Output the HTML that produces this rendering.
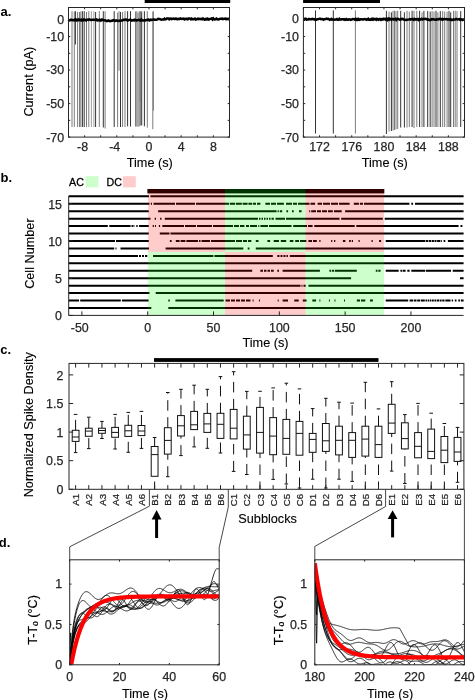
<!DOCTYPE html>
<html><head><meta charset="utf-8"><style>
html,body{margin:0;padding:0;background:#fff;}
svg{display:block;font-family:"Liberation Sans",sans-serif;will-change:transform;}
</style></head><body>
<svg width="475" height="700" viewBox="0 0 475 700">
<rect width="475" height="700" fill="#fff"/>
<text x="0.5" y="15.5" font-size="13" fill="#000" font-weight="bold">a.</text>
<text x="0.5" y="182.2" font-size="13" fill="#000" font-weight="bold">b.</text>
<text x="0.3" y="354.2" font-size="13" fill="#000" font-weight="bold">c.</text>
<text x="-1.2" y="546.8" font-size="13" fill="#000" font-weight="bold">d.</text>
<line x1="72" y1="11.2" x2="72" y2="127" stroke="#7c7c7c" stroke-width="1"/>
<line x1="74.3" y1="11.5" x2="74.3" y2="127" stroke="#7c7c7c" stroke-width="1"/>
<line x1="77.6" y1="12" x2="77.6" y2="127" stroke="#7c7c7c" stroke-width="1"/>
<line x1="79.5" y1="12" x2="79.5" y2="127" stroke="#7c7c7c" stroke-width="1"/>
<line x1="80.8" y1="11.5" x2="80.8" y2="127" stroke="#7c7c7c" stroke-width="1"/>
<line x1="82.4" y1="11.2" x2="82.4" y2="127" stroke="#333333" stroke-width="1"/>
<line x1="84.2" y1="11.2" x2="84.2" y2="127" stroke="#333333" stroke-width="1"/>
<line x1="86.5" y1="12" x2="86.5" y2="127" stroke="#7c7c7c" stroke-width="1"/>
<line x1="88.8" y1="11.2" x2="88.8" y2="127" stroke="#7c7c7c" stroke-width="1"/>
<line x1="91.4" y1="11.2" x2="91.4" y2="127" stroke="#a0a0a0" stroke-width="1"/>
<line x1="93.9" y1="11.2" x2="93.9" y2="127" stroke="#a0a0a0" stroke-width="1"/>
<line x1="95.6" y1="12" x2="95.6" y2="127" stroke="#333333" stroke-width="1"/>
<line x1="99.3" y1="11.2" x2="99.3" y2="127" stroke="#7c7c7c" stroke-width="1"/>
<line x1="103.3" y1="11.2" x2="103.3" y2="127.5" stroke="#333333" stroke-width="1"/>
<line x1="105.1" y1="11.2" x2="105.1" y2="128.5" stroke="#7c7c7c" stroke-width="1"/>
<line x1="114.2" y1="11.2" x2="114.2" y2="127" stroke="#333333" stroke-width="1"/>
<line x1="117.6" y1="12.7" x2="117.6" y2="127" stroke="#7c7c7c" stroke-width="1"/>
<line x1="120.5" y1="12" x2="120.5" y2="127" stroke="#333333" stroke-width="1"/>
<line x1="122.6" y1="12" x2="122.6" y2="127" stroke="#7c7c7c" stroke-width="1"/>
<line x1="125" y1="11.2" x2="125" y2="127" stroke="#7c7c7c" stroke-width="1"/>
<line x1="127.6" y1="11.2" x2="127.6" y2="126.3" stroke="#333333" stroke-width="1"/>
<line x1="130.5" y1="11.2" x2="130.5" y2="126.6" stroke="#333333" stroke-width="1"/>
<line x1="135.5" y1="11.5" x2="135.5" y2="126.6" stroke="#7c7c7c" stroke-width="1"/>
<line x1="136.8" y1="11.2" x2="136.8" y2="126.6" stroke="#7c7c7c" stroke-width="1"/>
<line x1="138" y1="12.7" x2="138" y2="126.6" stroke="#7c7c7c" stroke-width="1"/>
<line x1="139.2" y1="11.5" x2="139.2" y2="126.6" stroke="#7c7c7c" stroke-width="1"/>
<line x1="140.4" y1="11.2" x2="140.4" y2="125.5" stroke="#7c7c7c" stroke-width="1"/>
<line x1="141.7" y1="11.5" x2="141.7" y2="125.5" stroke="#333333" stroke-width="1"/>
<line x1="144.4" y1="11.2" x2="144.4" y2="126.3" stroke="#333333" stroke-width="1"/>
<line x1="147.3" y1="11.2" x2="147.3" y2="127.7" stroke="#7c7c7c" stroke-width="1"/>
<line x1="152.8" y1="11.5" x2="152.8" y2="129.2" stroke="#7c7c7c" stroke-width="1"/>
<line x1="75.4" y1="11.2" x2="75.4" y2="44.5" stroke="#333333" stroke-width="1"/>
<line x1="119" y1="11.2" x2="119" y2="70.7" stroke="#7c7c7c" stroke-width="1"/>
<line x1="140.1" y1="11.2" x2="140.1" y2="102" stroke="#7c7c7c" stroke-width="1"/>
<line x1="153.4" y1="11.2" x2="153.4" y2="110.8" stroke="#7c7c7c" stroke-width="1"/>
<path d="M68.5 19.56 L69.3 20.42 L70.1 20.32 L70.9 19.71 L71.7 19.99 L72.5 19.94 L73.3 20.18 L74.1 20.35 L74.9 19.51 L75.7 19.43 L76.5 20.4 L77.3 19.92 L78.1 20.31 L78.9 19.4 L79.7 19.93 L80.5 20.27 L81.3 19.67 L82.1 20.53 L82.9 20.48 L83.7 19.44 L84.5 19.43 L85.3 20.05 L86.1 20.53 L86.9 19.86 L87.7 19.66 L88.5 19.91 L89.3 19.43 L90.1 19.67 L90.9 19.93 L91.7 19.99 L92.5 19.68 L93.3 19.68 L94.1 19.66 L94.9 19.95 L95.7 19.75 L96.5 19.43 L97.3 20.41 L98.1 20.07 L98.9 20.17 L99.7 19.62 L100.5 20.59 L101.3 20.43 L102.1 19.55 L102.9 19.8 L103.7 20.27 L104.5 20.25 L105.3 20.52 L106.1 20.61 L106.9 21.1 L107.7 20.9 L108.5 20.46 L109.3 20.81 L110.1 21.16 L110.9 21.12 L111.7 20.71 L112.5 20.81 L113.3 20.14 L114.1 20.39 L114.9 21.06 L115.7 20.6 L116.5 20.31 L117.3 20.76 L118.1 20.94 L118.9 20.91 L119.7 20.55 L120.5 20.63 L121.3 20.71 L122.1 20.33 L122.9 20.03 L123.7 19.87 L124.5 19.99 L125.3 19.44 L126.1 19.45 L126.9 20.24 L127.7 20.58 L128.5 20.11 L129.3 19.87 L130.1 19.6 L130.9 20 L131.7 20.58 L132.5 20.32 L133.3 20.05 L134.1 20.43 L134.9 19.68 L135.7 20.02 L136.5 20.54 L137.3 20.09 L138.1 19.95 L138.9 19.72 L139.7 20.06 L140.5 20.55 L141.3 19.41 L142.1 20.34 L142.9 20.38 L143.7 20.46 L144.5 20.29 L145.3 20.37 L146.1 20.02 L146.9 20.07 L147.7 19.91 L148.5 19.47 L149.3 20.44 L150.1 20.08 L150.9 19.58 L151.7 19.89 L152.5 19.82 L153.3 19.61 L154.1 19.54 L154.9 19.72 L155.7 19.77 L156.5 19.7 L157.3 19.46 L158.1 18.89 L158.9 19.08 L159.7 18.97 L160.5 19.4 L161.3 19.68 L162.1 19.55 L162.9 19.5 L163.7 19.47 L164.5 18.74 L165.3 19.41 L166.1 19.21 L166.9 18.5 L167.7 18.42 L168.5 18.42 L169.3 19.31 L170.1 18.7 L170.9 18.53 L171.7 19.15 L172.5 18.81 L173.3 18.48 L174.1 18.59 L174.9 19.03 L175.7 18.6 L176.5 18.73 L177.3 19.25 L178.1 18.95 L178.9 18.79 L179.7 18.97 L180.5 18.43 L181.3 18.86 L182.1 18.91 L182.9 18.63 L183.7 18.53 L184.5 19.48 L185.3 19.01 L186.1 18.65 L186.9 19.13 L187.7 19.38 L188.5 18.42 L189.3 18.42 L190.1 18.58 L190.9 19.26 L191.7 18.59 L192.5 19.25 L193.3 19.21 L194.1 19.05 L194.9 18.66 L195.7 19.57 L196.5 19.36 L197.3 19.02 L198.1 18.67 L198.9 19.18 L199.7 18.87 L200.5 19.09 L201.3 18.79 L202.1 19.16 L202.9 18.47 L203.7 18.76 L204.5 19.56 L205.3 19.45 L206.1 18.77 L206.9 19.43 L207.7 18.77 L208.5 19.53 L209.3 19.29 L210.1 18.9 L210.9 18.7 L211.7 18.41 L212.5 19.45 L213.3 18.45 L214.1 19.38 L214.9 19.55 L215.7 19.08 L216.5 18.61 L217.3 19.44 L218.1 19.57 L218.9 19.24 L219.7 19.01 L220.5 18.85 L221.3 18.82 L222.1 18.65 L222.9 19.21 L223.7 18.92 L224.5 18.63 L225.3 18.53 L226.1 19.2 L226.9 18.76 L227.7 19 L228.5 18.79 L229.3 19.45" fill="none" stroke="#000" stroke-width="2.5"/>
<rect x="68.5" y="7.5" width="161" height="129.6" fill="none" stroke="#262626" stroke-width="1"/>
<line x1="68.5" y1="19.8" x2="70.3" y2="19.8" stroke="#262626" stroke-width="1"/>
<line x1="229.5" y1="19.8" x2="227.7" y2="19.8" stroke="#262626" stroke-width="1"/>
<line x1="68.5" y1="36.56" x2="70.3" y2="36.56" stroke="#262626" stroke-width="1"/>
<line x1="229.5" y1="36.56" x2="227.7" y2="36.56" stroke="#262626" stroke-width="1"/>
<line x1="68.5" y1="53.31" x2="70.3" y2="53.31" stroke="#262626" stroke-width="1"/>
<line x1="229.5" y1="53.31" x2="227.7" y2="53.31" stroke="#262626" stroke-width="1"/>
<line x1="68.5" y1="70.07" x2="70.3" y2="70.07" stroke="#262626" stroke-width="1"/>
<line x1="229.5" y1="70.07" x2="227.7" y2="70.07" stroke="#262626" stroke-width="1"/>
<line x1="68.5" y1="86.83" x2="70.3" y2="86.83" stroke="#262626" stroke-width="1"/>
<line x1="229.5" y1="86.83" x2="227.7" y2="86.83" stroke="#262626" stroke-width="1"/>
<line x1="68.5" y1="103.58" x2="70.3" y2="103.58" stroke="#262626" stroke-width="1"/>
<line x1="229.5" y1="103.58" x2="227.7" y2="103.58" stroke="#262626" stroke-width="1"/>
<line x1="68.5" y1="120.34" x2="70.3" y2="120.34" stroke="#262626" stroke-width="1"/>
<line x1="229.5" y1="120.34" x2="227.7" y2="120.34" stroke="#262626" stroke-width="1"/>
<line x1="68.5" y1="137.1" x2="70.3" y2="137.1" stroke="#262626" stroke-width="1"/>
<line x1="229.5" y1="137.1" x2="227.7" y2="137.1" stroke="#262626" stroke-width="1"/>
<line x1="68.5" y1="137.1" x2="68.5" y2="135.3" stroke="#262626" stroke-width="1"/>
<line x1="68.5" y1="7.5" x2="68.5" y2="9.3" stroke="#262626" stroke-width="1"/>
<line x1="84.6" y1="137.1" x2="84.6" y2="135.3" stroke="#262626" stroke-width="1"/>
<line x1="84.6" y1="7.5" x2="84.6" y2="9.3" stroke="#262626" stroke-width="1"/>
<line x1="100.7" y1="137.1" x2="100.7" y2="135.3" stroke="#262626" stroke-width="1"/>
<line x1="100.7" y1="7.5" x2="100.7" y2="9.3" stroke="#262626" stroke-width="1"/>
<line x1="116.8" y1="137.1" x2="116.8" y2="135.3" stroke="#262626" stroke-width="1"/>
<line x1="116.8" y1="7.5" x2="116.8" y2="9.3" stroke="#262626" stroke-width="1"/>
<line x1="132.9" y1="137.1" x2="132.9" y2="135.3" stroke="#262626" stroke-width="1"/>
<line x1="132.9" y1="7.5" x2="132.9" y2="9.3" stroke="#262626" stroke-width="1"/>
<line x1="149" y1="137.1" x2="149" y2="135.3" stroke="#262626" stroke-width="1"/>
<line x1="149" y1="7.5" x2="149" y2="9.3" stroke="#262626" stroke-width="1"/>
<line x1="165.1" y1="137.1" x2="165.1" y2="135.3" stroke="#262626" stroke-width="1"/>
<line x1="165.1" y1="7.5" x2="165.1" y2="9.3" stroke="#262626" stroke-width="1"/>
<line x1="181.2" y1="137.1" x2="181.2" y2="135.3" stroke="#262626" stroke-width="1"/>
<line x1="181.2" y1="7.5" x2="181.2" y2="9.3" stroke="#262626" stroke-width="1"/>
<line x1="197.3" y1="137.1" x2="197.3" y2="135.3" stroke="#262626" stroke-width="1"/>
<line x1="197.3" y1="7.5" x2="197.3" y2="9.3" stroke="#262626" stroke-width="1"/>
<line x1="213.4" y1="137.1" x2="213.4" y2="135.3" stroke="#262626" stroke-width="1"/>
<line x1="213.4" y1="7.5" x2="213.4" y2="9.3" stroke="#262626" stroke-width="1"/>
<line x1="229.5" y1="137.1" x2="229.5" y2="135.3" stroke="#262626" stroke-width="1"/>
<line x1="229.5" y1="7.5" x2="229.5" y2="9.3" stroke="#262626" stroke-width="1"/>
<text x="82.54" y="150.6" font-size="12.4" fill="#262626" text-anchor="middle" stroke="#262626" stroke-width="0.25">-8</text>
<text x="114.74" y="150.6" font-size="12.4" fill="#262626" text-anchor="middle" stroke="#262626" stroke-width="0.25">-4</text>
<text x="149" y="150.6" font-size="12.4" fill="#262626" text-anchor="middle" stroke="#262626" stroke-width="0.25">0</text>
<text x="181.2" y="150.6" font-size="12.4" fill="#262626" text-anchor="middle" stroke="#262626" stroke-width="0.25">4</text>
<text x="213.4" y="150.6" font-size="12.4" fill="#262626" text-anchor="middle" stroke="#262626" stroke-width="0.25">8</text>
<text x="64.1" y="24.2" font-size="12.4" fill="#262626" text-anchor="end" stroke="#262626" stroke-width="0.25">0</text>
<text x="64.1" y="40.96" font-size="12.4" fill="#262626" text-anchor="end" stroke="#262626" stroke-width="0.25">-10</text>
<text x="64.1" y="74.47" font-size="12.4" fill="#262626" text-anchor="end" stroke="#262626" stroke-width="0.25">-30</text>
<text x="64.1" y="107.98" font-size="12.4" fill="#262626" text-anchor="end" stroke="#262626" stroke-width="0.25">-50</text>
<text x="64.1" y="141.5" font-size="12.4" fill="#262626" text-anchor="end" stroke="#262626" stroke-width="0.25">-70</text>
<text x="149.8" y="166.8" font-size="12.7" fill="#000" text-anchor="middle" stroke="#000" stroke-width="0.12">Time (s)</text>
<rect x="144.7" y="0" width="85.5" height="3" fill="#000"/>
<line x1="315.5" y1="10.4" x2="315.5" y2="133.5" stroke="#333333" stroke-width="1"/>
<line x1="333.3" y1="10.4" x2="333.3" y2="133.5" stroke="#333333" stroke-width="1"/>
<line x1="355.4" y1="10.4" x2="355.4" y2="133.5" stroke="#7c7c7c" stroke-width="1"/>
<line x1="386.4" y1="10.8" x2="386.4" y2="134" stroke="#333333" stroke-width="1"/>
<line x1="389" y1="11.6" x2="389" y2="131.5" stroke="#7c7c7c" stroke-width="1"/>
<line x1="391.4" y1="12.3" x2="391.4" y2="131" stroke="#333333" stroke-width="1"/>
<line x1="393" y1="10.8" x2="393" y2="130.5" stroke="#7c7c7c" stroke-width="1"/>
<line x1="394.5" y1="10.8" x2="394.5" y2="130" stroke="#7c7c7c" stroke-width="1"/>
<line x1="396" y1="11.1" x2="396" y2="129.5" stroke="#7c7c7c" stroke-width="1"/>
<line x1="397.7" y1="10.8" x2="397.7" y2="129" stroke="#7c7c7c" stroke-width="1"/>
<line x1="400.7" y1="10.8" x2="400.7" y2="127.5" stroke="#333333" stroke-width="1"/>
<line x1="404.4" y1="12.3" x2="404.4" y2="127.5" stroke="#333333" stroke-width="1"/>
<line x1="407" y1="10.8" x2="407" y2="127.5" stroke="#7c7c7c" stroke-width="1"/>
<line x1="409.3" y1="11.6" x2="409.3" y2="127" stroke="#7c7c7c" stroke-width="1"/>
<line x1="412.1" y1="10.8" x2="412.1" y2="127" stroke="#333333" stroke-width="1"/>
<line x1="414" y1="10.8" x2="414" y2="128" stroke="#7c7c7c" stroke-width="1"/>
<line x1="416.8" y1="10.8" x2="416.8" y2="127" stroke="#7c7c7c" stroke-width="1"/>
<line x1="419.6" y1="10.8" x2="419.6" y2="127" stroke="#333333" stroke-width="1"/>
<line x1="422" y1="12.3" x2="422" y2="127" stroke="#7c7c7c" stroke-width="1"/>
<line x1="423.9" y1="10.8" x2="423.9" y2="127" stroke="#333333" stroke-width="1"/>
<line x1="427.7" y1="11.1" x2="427.7" y2="127" stroke="#333333" stroke-width="1"/>
<line x1="430.2" y1="11.6" x2="430.2" y2="127" stroke="#333333" stroke-width="1"/>
<line x1="432.1" y1="11.1" x2="432.1" y2="127" stroke="#7c7c7c" stroke-width="1"/>
<line x1="434" y1="11.6" x2="434" y2="127" stroke="#7c7c7c" stroke-width="1"/>
<line x1="436" y1="10.8" x2="436" y2="127" stroke="#333333" stroke-width="1"/>
<line x1="437.9" y1="12.3" x2="437.9" y2="127" stroke="#7c7c7c" stroke-width="1"/>
<line x1="440.3" y1="11.1" x2="440.3" y2="127" stroke="#333333" stroke-width="1"/>
<line x1="442.7" y1="11.1" x2="442.7" y2="127" stroke="#7c7c7c" stroke-width="1"/>
<line x1="444.7" y1="11.6" x2="444.7" y2="127" stroke="#7c7c7c" stroke-width="1"/>
<line x1="447.1" y1="11.6" x2="447.1" y2="127" stroke="#7c7c7c" stroke-width="1"/>
<line x1="449" y1="10.8" x2="449" y2="127" stroke="#333333" stroke-width="1"/>
<line x1="450.7" y1="12.3" x2="450.7" y2="127" stroke="#333333" stroke-width="1"/>
<line x1="453.5" y1="10.8" x2="453.5" y2="127" stroke="#7c7c7c" stroke-width="1"/>
<line x1="455.2" y1="10.8" x2="455.2" y2="127" stroke="#7c7c7c" stroke-width="1"/>
<line x1="457" y1="11.1" x2="457" y2="127" stroke="#7c7c7c" stroke-width="1"/>
<line x1="460.7" y1="11.1" x2="460.7" y2="127" stroke="#333333" stroke-width="1"/>
<path d="M303.4 19.75 L304.2 19.74 L305 18.67 L305.8 18.71 L306.6 19.61 L307.4 19.49 L308.2 19.41 L309 18.98 L309.8 19.34 L310.6 19.34 L311.4 19.31 L312.2 18.81 L313 19.14 L313.8 19.09 L314.6 19.49 L315.4 19.82 L316.2 19.76 L317 19.28 L317.8 19.16 L318.6 18.95 L319.4 18.67 L320.2 18.67 L321 19.19 L321.8 19.02 L322.6 19.09 L323.4 19.71 L324.2 19.27 L325 19.31 L325.8 18.93 L326.6 18.67 L327.4 19.04 L328.2 18.81 L329 19.26 L329.8 19.85 L330.6 19.46 L331.4 18.87 L332.2 19.73 L333 19.61 L333.8 19.54 L334.6 19.75 L335.4 19.58 L336.2 19.61 L337 19.09 L337.8 19.84 L338.6 19.82 L339.4 18.86 L340.2 19.57 L341 19.53 L341.8 19.23 L342.6 19.31 L343.4 19.26 L344.2 19.79 L345 19.28 L345.8 19.68 L346.6 19.11 L347.4 19.74 L348.2 19.76 L349 19.24 L349.8 19.37 L350.6 19.79 L351.4 19.56 L352.2 19.28 L353 18.96 L353.8 19.08 L354.6 19.54 L355.4 18.9 L356.2 19.79 L357 19.02 L357.8 19.8 L358.6 19.08 L359.4 19.85 L360.2 19.55 L361 19.31 L361.8 19.33 L362.6 19.49 L363.4 19.42 L364.2 19.09 L365 18.97 L365.8 19.33 L366.6 19.84 L367.4 19.47 L368.2 18.81 L369 19.71 L369.8 19.6 L370.6 19.82 L371.4 18.96 L372.2 19.62 L373 18.8 L373.8 19.52 L374.6 19.06 L375.4 19.01 L376.2 19.79 L377 18.87 L377.8 19.37 L378.6 19.77 L379.4 19.04 L380.2 19 L381 19.8 L381.8 19.26 L382.6 19.61 L383.4 18.79 L384.2 19.19 L385 18.96 L385.8 19.56 L386.6 18.86 L387.4 19.9 L388.2 18.79 L389 19.64 L389.8 18.79 L390.6 19.07 L391.4 19.74 L392.2 18.96 L393 18.99 L393.8 19.6 L394.6 19.23 L395.4 18.83 L396.2 19.96 L397 18.96 L397.8 18.82 L398.6 19.19 L399.4 19.52 L400.2 19.67 L401 18.92 L401.8 19.19 L402.6 18.82 L403.4 19.33 L404.2 19.71 L405 19.68 L405.8 19.88 L406.6 19.7 L407.4 19.83 L408.2 19.64 L409 19.37 L409.8 19.07 L410.6 19.59 L411.4 19.18 L412.2 18.93 L413 19.34 L413.8 19.86 L414.6 18.96 L415.4 19.51 L416.2 19.28 L417 19.43 L417.8 18.99 L418.6 19.97 L419.4 19.13 L420.2 19.55 L421 19.32 L421.8 18.84 L422.6 19.49 L423.4 18.99 L424.2 18.9 L425 18.87 L425.8 19.02 L426.6 18.95 L427.4 19.6 L428.2 19.44 L429 20.02 L429.8 19.96 L430.6 20.03 L431.4 19.12 L432.2 19.38 L433 19.14 L433.8 19.55 L434.6 19.6 L435.4 19.81 L436.2 19.7 L437 19.16 L437.8 19.36 L438.6 19.49 L439.4 18.86 L440.2 18.9 L441 19.35 L441.8 18.99 L442.6 19.73 L443.4 19.15 L444.2 18.98 L445 19.08 L445.8 19.15 L446.6 19.13 L447.4 19.5 L448.2 19.43 L449 19.25 L449.8 19.65 L450.6 19.13 L451.4 19.97 L452.2 20.04 L453 19.76 L453.8 19.4 L454.6 19.5 L455.4 19.58 L456.2 18.95 L457 19.39 L457.8 19.52 L458.6 19.11 L459.4 19.01 L460.2 19.86 L461 19.34 L461.8 19.52 L462.6 20 L463.4 19.63 L464.2 19.25" fill="none" stroke="#000" stroke-width="2.5"/>
<rect x="303.4" y="7.5" width="161.1" height="129.6" fill="none" stroke="#262626" stroke-width="1"/>
<line x1="303.4" y1="19.8" x2="305.2" y2="19.8" stroke="#262626" stroke-width="1"/>
<line x1="464.5" y1="19.8" x2="462.7" y2="19.8" stroke="#262626" stroke-width="1"/>
<line x1="303.4" y1="36.56" x2="305.2" y2="36.56" stroke="#262626" stroke-width="1"/>
<line x1="464.5" y1="36.56" x2="462.7" y2="36.56" stroke="#262626" stroke-width="1"/>
<line x1="303.4" y1="53.31" x2="305.2" y2="53.31" stroke="#262626" stroke-width="1"/>
<line x1="464.5" y1="53.31" x2="462.7" y2="53.31" stroke="#262626" stroke-width="1"/>
<line x1="303.4" y1="70.07" x2="305.2" y2="70.07" stroke="#262626" stroke-width="1"/>
<line x1="464.5" y1="70.07" x2="462.7" y2="70.07" stroke="#262626" stroke-width="1"/>
<line x1="303.4" y1="86.83" x2="305.2" y2="86.83" stroke="#262626" stroke-width="1"/>
<line x1="464.5" y1="86.83" x2="462.7" y2="86.83" stroke="#262626" stroke-width="1"/>
<line x1="303.4" y1="103.58" x2="305.2" y2="103.58" stroke="#262626" stroke-width="1"/>
<line x1="464.5" y1="103.58" x2="462.7" y2="103.58" stroke="#262626" stroke-width="1"/>
<line x1="303.4" y1="120.34" x2="305.2" y2="120.34" stroke="#262626" stroke-width="1"/>
<line x1="464.5" y1="120.34" x2="462.7" y2="120.34" stroke="#262626" stroke-width="1"/>
<line x1="303.4" y1="137.1" x2="305.2" y2="137.1" stroke="#262626" stroke-width="1"/>
<line x1="464.5" y1="137.1" x2="462.7" y2="137.1" stroke="#262626" stroke-width="1"/>
<line x1="303.4" y1="137.1" x2="303.4" y2="135.3" stroke="#262626" stroke-width="1"/>
<line x1="303.4" y1="7.5" x2="303.4" y2="9.3" stroke="#262626" stroke-width="1"/>
<line x1="319.51" y1="137.1" x2="319.51" y2="135.3" stroke="#262626" stroke-width="1"/>
<line x1="319.51" y1="7.5" x2="319.51" y2="9.3" stroke="#262626" stroke-width="1"/>
<line x1="335.62" y1="137.1" x2="335.62" y2="135.3" stroke="#262626" stroke-width="1"/>
<line x1="335.62" y1="7.5" x2="335.62" y2="9.3" stroke="#262626" stroke-width="1"/>
<line x1="351.73" y1="137.1" x2="351.73" y2="135.3" stroke="#262626" stroke-width="1"/>
<line x1="351.73" y1="7.5" x2="351.73" y2="9.3" stroke="#262626" stroke-width="1"/>
<line x1="367.84" y1="137.1" x2="367.84" y2="135.3" stroke="#262626" stroke-width="1"/>
<line x1="367.84" y1="7.5" x2="367.84" y2="9.3" stroke="#262626" stroke-width="1"/>
<line x1="383.95" y1="137.1" x2="383.95" y2="135.3" stroke="#262626" stroke-width="1"/>
<line x1="383.95" y1="7.5" x2="383.95" y2="9.3" stroke="#262626" stroke-width="1"/>
<line x1="400.06" y1="137.1" x2="400.06" y2="135.3" stroke="#262626" stroke-width="1"/>
<line x1="400.06" y1="7.5" x2="400.06" y2="9.3" stroke="#262626" stroke-width="1"/>
<line x1="416.17" y1="137.1" x2="416.17" y2="135.3" stroke="#262626" stroke-width="1"/>
<line x1="416.17" y1="7.5" x2="416.17" y2="9.3" stroke="#262626" stroke-width="1"/>
<line x1="432.28" y1="137.1" x2="432.28" y2="135.3" stroke="#262626" stroke-width="1"/>
<line x1="432.28" y1="7.5" x2="432.28" y2="9.3" stroke="#262626" stroke-width="1"/>
<line x1="448.39" y1="137.1" x2="448.39" y2="135.3" stroke="#262626" stroke-width="1"/>
<line x1="448.39" y1="7.5" x2="448.39" y2="9.3" stroke="#262626" stroke-width="1"/>
<line x1="464.5" y1="137.1" x2="464.5" y2="135.3" stroke="#262626" stroke-width="1"/>
<line x1="464.5" y1="7.5" x2="464.5" y2="9.3" stroke="#262626" stroke-width="1"/>
<text x="319.51" y="150.6" font-size="12.4" fill="#262626" text-anchor="middle" stroke="#262626" stroke-width="0.25">172</text>
<text x="351.73" y="150.6" font-size="12.4" fill="#262626" text-anchor="middle" stroke="#262626" stroke-width="0.25">176</text>
<text x="383.95" y="150.6" font-size="12.4" fill="#262626" text-anchor="middle" stroke="#262626" stroke-width="0.25">180</text>
<text x="416.17" y="150.6" font-size="12.4" fill="#262626" text-anchor="middle" stroke="#262626" stroke-width="0.25">184</text>
<text x="448.39" y="150.6" font-size="12.4" fill="#262626" text-anchor="middle" stroke="#262626" stroke-width="0.25">188</text>
<text x="299" y="23.2" font-size="12.4" fill="#262626" text-anchor="end" stroke="#262626" stroke-width="0.25">0</text>
<text x="299" y="40.96" font-size="12.4" fill="#262626" text-anchor="end" stroke="#262626" stroke-width="0.25">-10</text>
<text x="299" y="74.47" font-size="12.4" fill="#262626" text-anchor="end" stroke="#262626" stroke-width="0.25">-30</text>
<text x="299" y="107.98" font-size="12.4" fill="#262626" text-anchor="end" stroke="#262626" stroke-width="0.25">-50</text>
<text x="299" y="141.5" font-size="12.4" fill="#262626" text-anchor="end" stroke="#262626" stroke-width="0.25">-70</text>
<text x="384.75" y="166.8" font-size="12.7" fill="#000" text-anchor="middle" stroke="#000" stroke-width="0.12">Time (s)</text>
<rect x="303.1" y="0" width="76.9" height="3" fill="#000"/>
<text x="33" y="81.7" font-size="12.7" fill="#000" text-anchor="middle" transform="rotate(-90 33 81.7)" stroke="#000" stroke-width="0.12">Current (pA)</text>
<path d="M68.7 307.96H151.3M168.3 307.96H463.6M68.7 300.52H79M80.2 300.52H120.8M121.9 300.52H148.6M168.3 300.52H169.8M175.4 300.52H223.7M225.5 300.52H230M231 300.52H235M236 300.52H240M241 300.52H245M246 300.52H250.4M252.6 300.52H253.6M258.9 300.52H259.9M277.7 300.52H278.7M282.6 300.52H288M294.3 300.52H298.7M302.8 300.52H306.6M312.3 300.52H316.1M319.4 300.52H320.4M328.9 300.52H329.9M334.5 300.52H335.5M344 300.52H345M356.8 300.52H360M361 300.52H365.3M370 300.52H372.9M385.7 300.52H408.2M409.6 300.52H413.1M413.8 300.52H416.5M417.2 300.52H420M420.7 300.52H424.8M425.5 300.52H427M427.6 300.52H429M429.6 300.52H431.2M431.8 300.52H433.8M434.4 300.52H436.4M437 300.52H439M439.6 300.52H441.6M442.2 300.52H444.5M445.3 300.52H450.5M451.7 300.52H453.1M454.8 300.52H456.5M458.3 300.52H460M460.9 300.52H463.6M68.7 293.08H149.5M155.7 293.08H463.6M68.7 285.64H300.5M301.5 285.64H302.5M303.5 285.64H305.7M308.5 285.64H463.6M68.7 278.2H351.1M460 278.2H463.6M68.7 270.76H252.2M260.3 270.76H263M264 270.76H266.5M267.5 270.76H270M271 270.76H273.7M277.3 270.76H279M282.6 270.76H319.9M329.4 270.76H331M331.8 270.76H334M334.8 270.76H356.8M375.8 270.76H377.5M378.3 270.76H380.5M385.7 270.76H398.7M400.4 270.76H402M402.6 270.76H405.6M407.3 270.76H409.6M411.3 270.76H425.1M425.8 270.76H451M452.7 270.76H463.6M68.7 263.32H463.6M68.7 255.88H138M139 255.88H141M142 255.88H144M145 255.88H147.3M153 255.88H213.4M214.4 255.88H272.8M277.3 255.88H279.5M280.5 255.88H282.5M283.5 255.88H285.5M286.5 255.88H288M289.8 255.88H463.6M68.7 248.44H114.2M115.5 248.44H116.5M120.5 248.44H149M165.6 248.44H243.3M247.7 248.44H249.5M255.8 248.44H463.6M68.7 241H115M116 241H148.8M169.9 241H171.6M175.8 241H179.6M180.6 241H185.4M186.4 241H198M199 241H200.5M201.5 241H210M211 241H235M236 241H242M243 241H247M248 241H251.3M255.8 241H258.5M267.4 241H270.1M273.7 241H279M280.8 241H286.2M289.8 241H293.4M295.2 241H299M300 241H306.3M308.4 241H312M313 241H316.8M319.3 241H320.5M331.1 241H332.3M334 241H335.3M342.9 241H345.4M349.1 241H350.8M351.8 241H353M358.5 241H359.7M371.5 241H372.7M379.1 241H381.1M385.7 241H425.2M425.8 241H428.3M428.9 241H431.3M431.9 241H433.9M434.5 241H436.5M437.1 241H440M440.6 241H441.8M443.6 241H445.3M447.9 241H463.6M68.7 233.56H148.8M159.8 233.56H169.5M170.5 233.56H463.6M68.7 226.12H107.8M109.3 226.12H130.6M131.5 226.12H132.9M133.4 226.12H134.4M136.3 226.12H137.7M139.1 226.12H148.8M152.7 226.12H153.9M155 226.12H156M158.9 226.12H160.1M162.3 226.12H184M185 226.12H196M197 226.12H212M213 226.12H233M234 226.12H239M240 226.12H244.4M246 226.12H249M250 226.12H257M258.3 226.12H259.3M260.4 226.12H268M269 226.12H291.5M293.2 226.12H307M308 226.12H312.6M314.3 226.12H354.7M356.3 226.12H458.6M460.5 226.12H462.4M68.7 218.68H150.5M154.7 218.68H156M160.1 218.68H161.5M164.8 218.68H258M259 218.68H260.5M261.5 218.68H263M264 218.68H265.5M266.5 218.68H268M269 218.68H270.5M271.5 218.68H273.8M275.5 218.68H285M286 218.68H339.5M341.2 218.68H382.8M384.7 218.68H463.6M68.7 211.24H148.8M158.1 211.24H276.6M277.6 211.24H278.8M279.8 211.24H282.2M286.4 211.24H288.1M292 211.24H293.7M299 211.24H301.6M309.2 211.24H310.2M311.2 211.24H316M317 211.24H321M322 211.24H327M328 211.24H332.8M334 211.24H341.7M345.1 211.24H463.6M68.7 203.8H149.5M150.8 203.8H152M153.5 203.8H175M176 203.8H195M196 203.8H229M229.8 203.8H235M235.8 203.8H241.8M242.6 203.8H247.6M248.4 203.8H252M252.8 203.8H256M257 203.8H260.4M265.4 203.8H270M271 203.8H276M277 203.8H283.9M286 203.8H292M293 203.8H297M298 203.8H309.5M310.5 203.8H315.1M317.6 203.8H322M323 203.8H330M331 203.8H338M339 203.8H349.6M353.8 203.8H358.9M359.9 203.8H363M364 203.8H409.4M411.3 203.8H413.1M415 203.8H463.6M68.7 196.36H149M150.4 196.36H463.6" stroke="#000" stroke-width="2" fill="none"/>
<rect x="147.4" y="189" width="236.9" height="4.4" fill="#000"/>
<rect x="148.1" y="189" width="76.9" height="62.9" fill="#f00" fill-opacity="0.2"/>
<rect x="148.1" y="251.9" width="76.9" height="63.5" fill="#0f0" fill-opacity="0.2"/>
<rect x="225" y="189" width="80.5" height="62.9" fill="#0f0" fill-opacity="0.2"/>
<rect x="225" y="251.9" width="80.5" height="63.5" fill="#f00" fill-opacity="0.2"/>
<rect x="305.5" y="189" width="78.6" height="62.9" fill="#f00" fill-opacity="0.2"/>
<rect x="305.5" y="251.9" width="78.6" height="63.5" fill="#0f0" fill-opacity="0.2"/>
<line x1="68.7" y1="196" x2="68.7" y2="315.4" stroke="#262626" stroke-width="1"/>
<line x1="68.7" y1="315.4" x2="463.6" y2="315.4" stroke="#262626" stroke-width="1"/>
<line x1="81.88" y1="315.4" x2="81.88" y2="311.4" stroke="#262626" stroke-width="1"/>
<text x="79.82" y="331.8" font-size="12.4" fill="#262626" text-anchor="middle" stroke="#262626" stroke-width="0.25">-50</text>
<line x1="147.7" y1="315.4" x2="147.7" y2="311.4" stroke="#262626" stroke-width="1"/>
<text x="147.7" y="331.8" font-size="12.4" fill="#262626" text-anchor="middle" stroke="#262626" stroke-width="0.25">0</text>
<line x1="213.51" y1="315.4" x2="213.51" y2="311.4" stroke="#262626" stroke-width="1"/>
<text x="213.51" y="331.8" font-size="12.4" fill="#262626" text-anchor="middle" stroke="#262626" stroke-width="0.25">50</text>
<line x1="279.33" y1="315.4" x2="279.33" y2="311.4" stroke="#262626" stroke-width="1"/>
<text x="279.33" y="331.8" font-size="12.4" fill="#262626" text-anchor="middle" stroke="#262626" stroke-width="0.25">100</text>
<line x1="345.14" y1="315.4" x2="345.14" y2="311.4" stroke="#262626" stroke-width="1"/>
<text x="345.14" y="331.8" font-size="12.4" fill="#262626" text-anchor="middle" stroke="#262626" stroke-width="0.25">150</text>
<line x1="410.96" y1="315.4" x2="410.96" y2="311.4" stroke="#262626" stroke-width="1"/>
<text x="410.96" y="331.8" font-size="12.4" fill="#262626" text-anchor="middle" stroke="#262626" stroke-width="0.25">200</text>
<line x1="68.7" y1="315.4" x2="72.7" y2="315.4" stroke="#262626" stroke-width="1"/>
<text x="62" y="320.3" font-size="12.4" fill="#262626" text-anchor="end" stroke="#262626" stroke-width="0.25">0</text>
<line x1="68.7" y1="278.2" x2="72.7" y2="278.2" stroke="#262626" stroke-width="1"/>
<text x="62" y="283.1" font-size="12.4" fill="#262626" text-anchor="end" stroke="#262626" stroke-width="0.25">5</text>
<line x1="68.7" y1="241" x2="72.7" y2="241" stroke="#262626" stroke-width="1"/>
<text x="62" y="245.9" font-size="12.4" fill="#262626" text-anchor="end" stroke="#262626" stroke-width="0.25">10</text>
<line x1="68.7" y1="203.8" x2="72.7" y2="203.8" stroke="#262626" stroke-width="1"/>
<text x="62" y="208.7" font-size="12.4" fill="#262626" text-anchor="end" stroke="#262626" stroke-width="0.25">15</text>
<text x="265.5" y="347.2" font-size="12.7" fill="#000" text-anchor="middle" stroke="#000" stroke-width="0.12">Time (s)</text>
<text x="33.6" y="253.6" font-size="12.7" fill="#000" text-anchor="middle" transform="rotate(-90 33.6 253.6)" stroke="#000" stroke-width="0.12">Cell Number</text>
<text x="69" y="186.2" font-size="10.7" fill="#000" stroke="#000" stroke-width="0.28">AC</text>
<rect x="85.6" y="176.2" width="12.8" height="11.2" fill="#ccffcc"/>
<text x="106.6" y="186.2" font-size="10.7" fill="#000" stroke="#000" stroke-width="0.28">DC</text>
<rect x="123" y="176.2" width="12.8" height="11.2" fill="#ffcccc"/>
<g stroke="#111" stroke-width="1" fill="none">
<clipPath id="cclip"><rect x="69" y="363.4" width="394.9" height="125.9"/></clipPath>
<g clip-path="url(#cclip)">
<rect x="72.2" y="430.3" width="6.8" height="11.1"/>
<path d="M72.2 437H79"/>
<path d="M75.6 430.3V414.4" stroke-dasharray="10.5 6.5"/>
<path d="M75.6 452.6V441.4" stroke-dasharray="10.5 6.5"/>
<path d="M73.8 414.4H77.4"/>
<path d="M73.8 452.6H77.4"/>
<rect x="85.37" y="428.2" width="6.8" height="8.1"/>
<path d="M85.37 431.1H92.17"/>
<path d="M88.77 428.2V417.2" stroke-dasharray="10.5 6.5"/>
<path d="M88.77 448.6V436.3" stroke-dasharray="10.5 6.5"/>
<path d="M86.97 417.2H90.57"/>
<path d="M86.97 448.6H90.57"/>
<rect x="98.54" y="428.2" width="6.8" height="5.1"/>
<path d="M98.54 430.5H105.34"/>
<path d="M101.94 428.2V421.4" stroke-dasharray="10.5 6.5"/>
<path d="M101.94 438.5V433.3" stroke-dasharray="10.5 6.5"/>
<path d="M100.14 421.4H103.74"/>
<path d="M100.14 438.5H103.74"/>
<rect x="111.71" y="427.4" width="6.8" height="9.9"/>
<path d="M111.71 432.4H118.51"/>
<path d="M115.11 427.4V414.4" stroke-dasharray="10.5 6.5"/>
<path d="M115.11 449V437.3" stroke-dasharray="10.5 6.5"/>
<path d="M113.31 414.4H116.91"/>
<path d="M113.31 449H116.91"/>
<rect x="124.88" y="425.3" width="6.8" height="11.1"/>
<path d="M124.88 430.8H131.68"/>
<path d="M128.28 425.3V412.4" stroke-dasharray="10.5 6.5"/>
<path d="M128.28 452.3V436.4" stroke-dasharray="10.5 6.5"/>
<path d="M126.48 412.4H130.08"/>
<path d="M126.48 452.3H130.08"/>
<rect x="138.05" y="425.5" width="6.8" height="10.1"/>
<path d="M138.05 431H144.85"/>
<path d="M141.45 425.5V411.4" stroke-dasharray="10.5 6.5"/>
<path d="M141.45 448.4V435.6" stroke-dasharray="10.5 6.5"/>
<path d="M139.65 411.4H143.25"/>
<path d="M139.65 448.4H143.25"/>
<rect x="151.22" y="446.5" width="6.8" height="29.8"/>
<path d="M151.22 454.6H158.02"/>
<path d="M154.62 446.5V437.5" stroke-dasharray="10.5 6.5"/>
<path d="M154.62 492V476.3" stroke-dasharray="10.5 6.5"/>
<path d="M152.82 437.5H156.42"/>
<path d="M152.82 492H156.42"/>
<rect x="164.39" y="427.7" width="6.8" height="26.4"/>
<path d="M164.39 440.4H171.19"/>
<path d="M167.79 427.7V392.5" stroke-dasharray="10.5 6.5"/>
<path d="M167.79 476.7V454.1" stroke-dasharray="10.5 6.5"/>
<path d="M165.99 392.5H169.59"/>
<path d="M165.99 476.7H169.59"/>
<rect x="177.56" y="415.6" width="6.8" height="20.4"/>
<path d="M177.56 425.8H184.36"/>
<path d="M180.96 415.6V389.3" stroke-dasharray="10.5 6.5"/>
<path d="M180.96 455.6V436" stroke-dasharray="10.5 6.5"/>
<path d="M179.16 389.3H182.76"/>
<path d="M179.16 455.6H182.76"/>
<rect x="190.73" y="411.4" width="6.8" height="18.2"/>
<path d="M190.73 424.8H197.53"/>
<path d="M194.13 411.4V385.2" stroke-dasharray="10.5 6.5"/>
<path d="M194.13 446.9V429.6" stroke-dasharray="10.5 6.5"/>
<path d="M192.33 385.2H195.93"/>
<path d="M192.33 446.9H195.93"/>
<rect x="203.9" y="413.4" width="6.8" height="19"/>
<path d="M203.9 423.9H210.7"/>
<path d="M207.3 413.4V389.3" stroke-dasharray="10.5 6.5"/>
<path d="M207.3 448.3V432.4" stroke-dasharray="10.5 6.5"/>
<path d="M205.5 389.3H209.1"/>
<path d="M205.5 448.3H209.1"/>
<rect x="217.07" y="413.3" width="6.8" height="25.1"/>
<path d="M217.07 424.3H223.87"/>
<path d="M220.47 413.3V376.6" stroke-dasharray="10.5 6.5"/>
<path d="M220.47 453V438.4" stroke-dasharray="10.5 6.5"/>
<path d="M218.67 376.6H222.27"/>
<path d="M218.67 453H222.27"/>
<rect x="230.24" y="409.4" width="6.8" height="29.5"/>
<path d="M230.24 428.2H237.04"/>
<path d="M233.64 409.4V371.7" stroke-dasharray="10.5 6.5"/>
<path d="M233.64 471.4V438.9" stroke-dasharray="10.5 6.5"/>
<path d="M231.84 371.7H235.44"/>
<path d="M231.84 471.4H235.44"/>
<rect x="243.41" y="416.2" width="6.8" height="32.9"/>
<path d="M243.41 434.9H250.21"/>
<path d="M246.81 416.2V391.4" stroke-dasharray="10.5 6.5"/>
<path d="M246.81 474.5V449.1" stroke-dasharray="10.5 6.5"/>
<path d="M245.01 391.4H248.61"/>
<path d="M245.01 474.5H248.61"/>
<rect x="256.58" y="407.4" width="6.8" height="45.7"/>
<path d="M256.58 432.4H263.38"/>
<path d="M259.98 407.4V391.3" stroke-dasharray="10.5 6.5"/>
<path d="M259.98 492V453.1" stroke-dasharray="10.5 6.5"/>
<path d="M258.18 391.3H261.78"/>
<path d="M258.18 492H261.78"/>
<rect x="269.75" y="417.6" width="6.8" height="37.1"/>
<path d="M269.75 436.1H276.55"/>
<path d="M273.15 417.6V387.9" stroke-dasharray="10.5 6.5"/>
<path d="M273.15 479.4V454.7" stroke-dasharray="10.5 6.5"/>
<path d="M271.35 387.9H274.95"/>
<path d="M271.35 479.4H274.95"/>
<rect x="282.92" y="419.4" width="6.8" height="34.9"/>
<path d="M282.92 438.4H289.72"/>
<path d="M286.32 419.4V383.2" stroke-dasharray="10.5 6.5"/>
<path d="M286.32 484V454.3" stroke-dasharray="10.5 6.5"/>
<path d="M284.52 383.2H288.12"/>
<path d="M284.52 484H288.12"/>
<rect x="296.09" y="421.4" width="6.8" height="33.8"/>
<path d="M296.09 433.4H302.89"/>
<path d="M299.49 421.4V388.9" stroke-dasharray="10.5 6.5"/>
<path d="M299.49 488V455.2" stroke-dasharray="10.5 6.5"/>
<path d="M297.69 388.9H301.29"/>
<path d="M297.69 488H301.29"/>
<rect x="309.26" y="433.4" width="6.8" height="18.9"/>
<path d="M309.26 439.4H316.06"/>
<path d="M312.66 433.4V408.6" stroke-dasharray="10.5 6.5"/>
<path d="M312.66 479.2V452.3" stroke-dasharray="10.5 6.5"/>
<path d="M310.86 408.6H314.46"/>
<path d="M310.86 479.2H314.46"/>
<rect x="322.43" y="423.5" width="6.8" height="27.9"/>
<path d="M322.43 440.8H329.23"/>
<path d="M325.83 423.5V398.3" stroke-dasharray="10.5 6.5"/>
<path d="M325.83 488V451.4" stroke-dasharray="10.5 6.5"/>
<path d="M324.03 398.3H327.63"/>
<path d="M324.03 488H327.63"/>
<rect x="335.6" y="426.2" width="6.8" height="28.7"/>
<path d="M335.6 440.3H342.4"/>
<path d="M339 426.2V402.2" stroke-dasharray="10.5 6.5"/>
<path d="M339 479.2V454.9" stroke-dasharray="10.5 6.5"/>
<path d="M337.2 402.2H340.8"/>
<path d="M337.2 479.2H340.8"/>
<rect x="348.77" y="432.6" width="6.8" height="24.8"/>
<path d="M348.77 440.3H355.57"/>
<path d="M352.17 432.6V403.1" stroke-dasharray="10.5 6.5"/>
<path d="M352.17 481.4V457.4" stroke-dasharray="10.5 6.5"/>
<path d="M350.37 403.1H353.97"/>
<path d="M350.37 481.4H353.97"/>
<rect x="361.94" y="426.2" width="6.8" height="29.9"/>
<path d="M361.94 439.1H368.74"/>
<path d="M365.34 426.2V382.3" stroke-dasharray="10.5 6.5"/>
<path d="M365.34 492V456.1" stroke-dasharray="10.5 6.5"/>
<path d="M363.54 382.3H367.14"/>
<path d="M363.54 492H367.14"/>
<rect x="375.11" y="426.2" width="6.8" height="31.2"/>
<path d="M375.11 444.6H381.91"/>
<path d="M378.51 426.2V408.9" stroke-dasharray="10.5 6.5"/>
<path d="M378.51 492V457.4" stroke-dasharray="10.5 6.5"/>
<path d="M376.71 408.9H380.31"/>
<path d="M376.71 492H380.31"/>
<rect x="388.28" y="404.3" width="6.8" height="29.1"/>
<path d="M388.28 423.1H395.08"/>
<path d="M391.68 404.3V381.7" stroke-dasharray="10.5 6.5"/>
<path d="M391.68 471.1V433.4" stroke-dasharray="10.5 6.5"/>
<path d="M389.88 381.7H393.48"/>
<path d="M389.88 471.1H393.48"/>
<rect x="401.45" y="422.8" width="6.8" height="26.1"/>
<path d="M401.45 438.6H408.25"/>
<path d="M404.85 422.8V414.6" stroke-dasharray="10.5 6.5"/>
<path d="M404.85 483.5V448.9" stroke-dasharray="10.5 6.5"/>
<path d="M403.05 414.6H406.65"/>
<path d="M403.05 483.5H406.65"/>
<rect x="414.62" y="432.6" width="6.8" height="25.2"/>
<path d="M414.62 446.3H421.42"/>
<path d="M418.02 432.6V403.4" stroke-dasharray="10.5 6.5"/>
<path d="M418.02 492V457.8" stroke-dasharray="10.5 6.5"/>
<path d="M416.22 403.4H419.82"/>
<path d="M416.22 492H419.82"/>
<rect x="427.79" y="429.1" width="6.8" height="29.5"/>
<path d="M427.79 451.4H434.59"/>
<path d="M431.19 429.1V413.2" stroke-dasharray="10.5 6.5"/>
<path d="M431.19 492V458.6" stroke-dasharray="10.5 6.5"/>
<path d="M429.39 413.2H432.99"/>
<path d="M429.39 492H432.99"/>
<rect x="440.96" y="436.5" width="6.8" height="26.1"/>
<path d="M440.96 450.2H447.76"/>
<path d="M444.36 436.5V423.5" stroke-dasharray="10.5 6.5"/>
<path d="M444.36 492V462.6" stroke-dasharray="10.5 6.5"/>
<path d="M442.56 423.5H446.16"/>
<path d="M442.56 492H446.16"/>
<rect x="454.13" y="437.4" width="6.8" height="24"/>
<path d="M454.13 452H460.93"/>
<path d="M457.53 437.4V427.4" stroke-dasharray="10.5 6.5"/>
<path d="M457.53 482.3V461.4" stroke-dasharray="10.5 6.5"/>
<path d="M455.73 427.4H459.33"/>
<path d="M455.73 482.3H459.33"/>
</g></g>
<rect x="69" y="363.4" width="394.9" height="125.9" fill="none" stroke="#262626" stroke-width="1"/>
<line x1="75.6" y1="489.3" x2="75.6" y2="485.1" stroke="#262626" stroke-width="1"/>
<line x1="75.6" y1="363.4" x2="75.6" y2="367.6" stroke="#262626" stroke-width="1"/>
<text x="79.2" y="493.9" font-size="9.6" fill="#262626" text-anchor="end" transform="rotate(-90 79.2 493.9)" stroke="#262626" stroke-width="0.25">A1</text>
<line x1="88.77" y1="489.3" x2="88.77" y2="485.1" stroke="#262626" stroke-width="1"/>
<line x1="88.77" y1="363.4" x2="88.77" y2="367.6" stroke="#262626" stroke-width="1"/>
<text x="92.37" y="493.9" font-size="9.6" fill="#262626" text-anchor="end" transform="rotate(-90 92.37 493.9)" stroke="#262626" stroke-width="0.25">A2</text>
<line x1="101.94" y1="489.3" x2="101.94" y2="485.1" stroke="#262626" stroke-width="1"/>
<line x1="101.94" y1="363.4" x2="101.94" y2="367.6" stroke="#262626" stroke-width="1"/>
<text x="105.54" y="493.9" font-size="9.6" fill="#262626" text-anchor="end" transform="rotate(-90 105.54 493.9)" stroke="#262626" stroke-width="0.25">A3</text>
<line x1="115.11" y1="489.3" x2="115.11" y2="485.1" stroke="#262626" stroke-width="1"/>
<line x1="115.11" y1="363.4" x2="115.11" y2="367.6" stroke="#262626" stroke-width="1"/>
<text x="118.71" y="493.9" font-size="9.6" fill="#262626" text-anchor="end" transform="rotate(-90 118.71 493.9)" stroke="#262626" stroke-width="0.25">A4</text>
<line x1="128.28" y1="489.3" x2="128.28" y2="485.1" stroke="#262626" stroke-width="1"/>
<line x1="128.28" y1="363.4" x2="128.28" y2="367.6" stroke="#262626" stroke-width="1"/>
<text x="131.88" y="493.9" font-size="9.6" fill="#262626" text-anchor="end" transform="rotate(-90 131.88 493.9)" stroke="#262626" stroke-width="0.25">A5</text>
<line x1="141.45" y1="489.3" x2="141.45" y2="485.1" stroke="#262626" stroke-width="1"/>
<line x1="141.45" y1="363.4" x2="141.45" y2="367.6" stroke="#262626" stroke-width="1"/>
<text x="145.05" y="493.9" font-size="9.6" fill="#262626" text-anchor="end" transform="rotate(-90 145.05 493.9)" stroke="#262626" stroke-width="0.25">A6</text>
<line x1="154.62" y1="489.3" x2="154.62" y2="485.1" stroke="#262626" stroke-width="1"/>
<line x1="154.62" y1="363.4" x2="154.62" y2="367.6" stroke="#262626" stroke-width="1"/>
<text x="158.22" y="493.9" font-size="9.6" fill="#262626" text-anchor="end" transform="rotate(-90 158.22 493.9)" stroke="#262626" stroke-width="0.25">B1</text>
<line x1="167.79" y1="489.3" x2="167.79" y2="485.1" stroke="#262626" stroke-width="1"/>
<line x1="167.79" y1="363.4" x2="167.79" y2="367.6" stroke="#262626" stroke-width="1"/>
<text x="171.39" y="493.9" font-size="9.6" fill="#262626" text-anchor="end" transform="rotate(-90 171.39 493.9)" stroke="#262626" stroke-width="0.25">B2</text>
<line x1="180.96" y1="489.3" x2="180.96" y2="485.1" stroke="#262626" stroke-width="1"/>
<line x1="180.96" y1="363.4" x2="180.96" y2="367.6" stroke="#262626" stroke-width="1"/>
<text x="184.56" y="493.9" font-size="9.6" fill="#262626" text-anchor="end" transform="rotate(-90 184.56 493.9)" stroke="#262626" stroke-width="0.25">B3</text>
<line x1="194.13" y1="489.3" x2="194.13" y2="485.1" stroke="#262626" stroke-width="1"/>
<line x1="194.13" y1="363.4" x2="194.13" y2="367.6" stroke="#262626" stroke-width="1"/>
<text x="197.73" y="493.9" font-size="9.6" fill="#262626" text-anchor="end" transform="rotate(-90 197.73 493.9)" stroke="#262626" stroke-width="0.25">B4</text>
<line x1="207.3" y1="489.3" x2="207.3" y2="485.1" stroke="#262626" stroke-width="1"/>
<line x1="207.3" y1="363.4" x2="207.3" y2="367.6" stroke="#262626" stroke-width="1"/>
<text x="210.9" y="493.9" font-size="9.6" fill="#262626" text-anchor="end" transform="rotate(-90 210.9 493.9)" stroke="#262626" stroke-width="0.25">B5</text>
<line x1="220.47" y1="489.3" x2="220.47" y2="485.1" stroke="#262626" stroke-width="1"/>
<line x1="220.47" y1="363.4" x2="220.47" y2="367.6" stroke="#262626" stroke-width="1"/>
<text x="224.07" y="493.9" font-size="9.6" fill="#262626" text-anchor="end" transform="rotate(-90 224.07 493.9)" stroke="#262626" stroke-width="0.25">B6</text>
<line x1="233.64" y1="489.3" x2="233.64" y2="485.1" stroke="#262626" stroke-width="1"/>
<line x1="233.64" y1="363.4" x2="233.64" y2="367.6" stroke="#262626" stroke-width="1"/>
<text x="237.24" y="493.9" font-size="9.6" fill="#262626" text-anchor="end" transform="rotate(-90 237.24 493.9)" stroke="#262626" stroke-width="0.25">C1</text>
<line x1="246.81" y1="489.3" x2="246.81" y2="485.1" stroke="#262626" stroke-width="1"/>
<line x1="246.81" y1="363.4" x2="246.81" y2="367.6" stroke="#262626" stroke-width="1"/>
<text x="250.41" y="493.9" font-size="9.6" fill="#262626" text-anchor="end" transform="rotate(-90 250.41 493.9)" stroke="#262626" stroke-width="0.25">C2</text>
<line x1="259.98" y1="489.3" x2="259.98" y2="485.1" stroke="#262626" stroke-width="1"/>
<line x1="259.98" y1="363.4" x2="259.98" y2="367.6" stroke="#262626" stroke-width="1"/>
<text x="263.58" y="493.9" font-size="9.6" fill="#262626" text-anchor="end" transform="rotate(-90 263.58 493.9)" stroke="#262626" stroke-width="0.25">C3</text>
<line x1="273.15" y1="489.3" x2="273.15" y2="485.1" stroke="#262626" stroke-width="1"/>
<line x1="273.15" y1="363.4" x2="273.15" y2="367.6" stroke="#262626" stroke-width="1"/>
<text x="276.75" y="493.9" font-size="9.6" fill="#262626" text-anchor="end" transform="rotate(-90 276.75 493.9)" stroke="#262626" stroke-width="0.25">C4</text>
<line x1="286.32" y1="489.3" x2="286.32" y2="485.1" stroke="#262626" stroke-width="1"/>
<line x1="286.32" y1="363.4" x2="286.32" y2="367.6" stroke="#262626" stroke-width="1"/>
<text x="289.92" y="493.9" font-size="9.6" fill="#262626" text-anchor="end" transform="rotate(-90 289.92 493.9)" stroke="#262626" stroke-width="0.25">C5</text>
<line x1="299.49" y1="489.3" x2="299.49" y2="485.1" stroke="#262626" stroke-width="1"/>
<line x1="299.49" y1="363.4" x2="299.49" y2="367.6" stroke="#262626" stroke-width="1"/>
<text x="303.09" y="493.9" font-size="9.6" fill="#262626" text-anchor="end" transform="rotate(-90 303.09 493.9)" stroke="#262626" stroke-width="0.25">C6</text>
<line x1="312.66" y1="489.3" x2="312.66" y2="485.1" stroke="#262626" stroke-width="1"/>
<line x1="312.66" y1="363.4" x2="312.66" y2="367.6" stroke="#262626" stroke-width="1"/>
<text x="316.26" y="493.9" font-size="9.6" fill="#262626" text-anchor="end" transform="rotate(-90 316.26 493.9)" stroke="#262626" stroke-width="0.25">D1</text>
<line x1="325.83" y1="489.3" x2="325.83" y2="485.1" stroke="#262626" stroke-width="1"/>
<line x1="325.83" y1="363.4" x2="325.83" y2="367.6" stroke="#262626" stroke-width="1"/>
<text x="329.43" y="493.9" font-size="9.6" fill="#262626" text-anchor="end" transform="rotate(-90 329.43 493.9)" stroke="#262626" stroke-width="0.25">D2</text>
<line x1="339" y1="489.3" x2="339" y2="485.1" stroke="#262626" stroke-width="1"/>
<line x1="339" y1="363.4" x2="339" y2="367.6" stroke="#262626" stroke-width="1"/>
<text x="342.6" y="493.9" font-size="9.6" fill="#262626" text-anchor="end" transform="rotate(-90 342.6 493.9)" stroke="#262626" stroke-width="0.25">D3</text>
<line x1="352.17" y1="489.3" x2="352.17" y2="485.1" stroke="#262626" stroke-width="1"/>
<line x1="352.17" y1="363.4" x2="352.17" y2="367.6" stroke="#262626" stroke-width="1"/>
<text x="355.77" y="493.9" font-size="9.6" fill="#262626" text-anchor="end" transform="rotate(-90 355.77 493.9)" stroke="#262626" stroke-width="0.25">D4</text>
<line x1="365.34" y1="489.3" x2="365.34" y2="485.1" stroke="#262626" stroke-width="1"/>
<line x1="365.34" y1="363.4" x2="365.34" y2="367.6" stroke="#262626" stroke-width="1"/>
<text x="368.94" y="493.9" font-size="9.6" fill="#262626" text-anchor="end" transform="rotate(-90 368.94 493.9)" stroke="#262626" stroke-width="0.25">D5</text>
<line x1="378.51" y1="489.3" x2="378.51" y2="485.1" stroke="#262626" stroke-width="1"/>
<line x1="378.51" y1="363.4" x2="378.51" y2="367.6" stroke="#262626" stroke-width="1"/>
<text x="382.11" y="493.9" font-size="9.6" fill="#262626" text-anchor="end" transform="rotate(-90 382.11 493.9)" stroke="#262626" stroke-width="0.25">D6</text>
<line x1="391.68" y1="489.3" x2="391.68" y2="485.1" stroke="#262626" stroke-width="1"/>
<line x1="391.68" y1="363.4" x2="391.68" y2="367.6" stroke="#262626" stroke-width="1"/>
<text x="395.28" y="493.9" font-size="9.6" fill="#262626" text-anchor="end" transform="rotate(-90 395.28 493.9)" stroke="#262626" stroke-width="0.25">E1</text>
<line x1="404.85" y1="489.3" x2="404.85" y2="485.1" stroke="#262626" stroke-width="1"/>
<line x1="404.85" y1="363.4" x2="404.85" y2="367.6" stroke="#262626" stroke-width="1"/>
<text x="408.45" y="493.9" font-size="9.6" fill="#262626" text-anchor="end" transform="rotate(-90 408.45 493.9)" stroke="#262626" stroke-width="0.25">E2</text>
<line x1="418.02" y1="489.3" x2="418.02" y2="485.1" stroke="#262626" stroke-width="1"/>
<line x1="418.02" y1="363.4" x2="418.02" y2="367.6" stroke="#262626" stroke-width="1"/>
<text x="421.62" y="493.9" font-size="9.6" fill="#262626" text-anchor="end" transform="rotate(-90 421.62 493.9)" stroke="#262626" stroke-width="0.25">E3</text>
<line x1="431.19" y1="489.3" x2="431.19" y2="485.1" stroke="#262626" stroke-width="1"/>
<line x1="431.19" y1="363.4" x2="431.19" y2="367.6" stroke="#262626" stroke-width="1"/>
<text x="434.79" y="493.9" font-size="9.6" fill="#262626" text-anchor="end" transform="rotate(-90 434.79 493.9)" stroke="#262626" stroke-width="0.25">E4</text>
<line x1="444.36" y1="489.3" x2="444.36" y2="485.1" stroke="#262626" stroke-width="1"/>
<line x1="444.36" y1="363.4" x2="444.36" y2="367.6" stroke="#262626" stroke-width="1"/>
<text x="447.96" y="493.9" font-size="9.6" fill="#262626" text-anchor="end" transform="rotate(-90 447.96 493.9)" stroke="#262626" stroke-width="0.25">E5</text>
<line x1="457.53" y1="489.3" x2="457.53" y2="485.1" stroke="#262626" stroke-width="1"/>
<line x1="457.53" y1="363.4" x2="457.53" y2="367.6" stroke="#262626" stroke-width="1"/>
<text x="461.13" y="493.9" font-size="9.6" fill="#262626" text-anchor="end" transform="rotate(-90 461.13 493.9)" stroke="#262626" stroke-width="0.25">E6</text>
<line x1="69" y1="489.3" x2="73.2" y2="489.3" stroke="#262626" stroke-width="1"/>
<line x1="463.9" y1="489.3" x2="459.7" y2="489.3" stroke="#262626" stroke-width="1"/>
<text x="63.3" y="493.9" font-size="12.4" fill="#262626" text-anchor="end" stroke="#262626" stroke-width="0.25">0</text>
<line x1="69" y1="460.7" x2="73.2" y2="460.7" stroke="#262626" stroke-width="1"/>
<line x1="463.9" y1="460.7" x2="459.7" y2="460.7" stroke="#262626" stroke-width="1"/>
<text x="63.3" y="465.3" font-size="12.4" fill="#262626" text-anchor="end" stroke="#262626" stroke-width="0.25">0.5</text>
<line x1="69" y1="432.1" x2="73.2" y2="432.1" stroke="#262626" stroke-width="1"/>
<line x1="463.9" y1="432.1" x2="459.7" y2="432.1" stroke="#262626" stroke-width="1"/>
<text x="63.3" y="436.7" font-size="12.4" fill="#262626" text-anchor="end" stroke="#262626" stroke-width="0.25">1</text>
<line x1="69" y1="403.5" x2="73.2" y2="403.5" stroke="#262626" stroke-width="1"/>
<line x1="463.9" y1="403.5" x2="459.7" y2="403.5" stroke="#262626" stroke-width="1"/>
<text x="63.3" y="408.1" font-size="12.4" fill="#262626" text-anchor="end" stroke="#262626" stroke-width="0.25">1.5</text>
<line x1="69" y1="374.9" x2="73.2" y2="374.9" stroke="#262626" stroke-width="1"/>
<line x1="463.9" y1="374.9" x2="459.7" y2="374.9" stroke="#262626" stroke-width="1"/>
<text x="63.3" y="379.5" font-size="12.4" fill="#262626" text-anchor="end" stroke="#262626" stroke-width="0.25">2</text>
<rect x="154" y="358.1" width="224.5" height="3.8" fill="#000"/>
<text x="33" y="424.7" font-size="12.7" fill="#000" text-anchor="middle" transform="rotate(-90 33 424.7)" stroke="#000" stroke-width="0.12">Normalized Spike Density</text>
<text x="267.6" y="523" font-size="12.7" fill="#000" text-anchor="middle" stroke="#000" stroke-width="0.12">Subblocks</text>
<path d="M156.6 510 L151.7 519.4 L161.5 519.4 Z" fill="#000"/>
<rect x="155.1" y="518.9" width="3" height="19.1" fill="#000"/>
<path d="M392.6 510.3 L387.7 519 L397.5 519 Z" fill="#000"/>
<rect x="391.1" y="518.5" width="3" height="18.9" fill="#000"/>
<path d="M149.4 489.3 L149.4 506.2 L69.7 546.8 L69.7 559.8" fill="none" stroke="#333" stroke-width="0.9"/>
<path d="M228.3 489.3 L228.3 507.1 L219.2 547.4 L219.2 559.8" fill="none" stroke="#333" stroke-width="0.9"/>
<path d="M385.6 489.3 L385.6 506.5 L314.8 546.4 L314.8 559.8" fill="none" stroke="#333" stroke-width="0.9"/>
<clipPath id="dclip11"><rect x="69.7" y="559.8" width="149.5" height="105"/></clipPath>
<g clip-path="url(#dclip11)">
<path d="M69.7 664.8 L70.01 656.35 L70.32 640 L70.63 632.9 L70.95 640.7 L71.26 650.96 L71.57 648.58 L71.88 641.8 L72.19 633.81 L72.5 631.14 L72.81 628.65 L73.13 626.35 L73.44 624.2 L73.75 622.19 L74.06 620.32 L74.37 618.57 L74.68 616.92 L74.99 615.37 L75.31 613.91 L75.62 612.54 L75.93 611.23 L76.24 610 L76.55 608.82 L76.86 607.7 L77.17 606.63 L77.49 605.61 L77.8 604.64 L78.11 603.7 L78.42 602.81 L78.73 601.96 L79.04 601.14 L79.36 600.35 L79.67 599.6 L79.98 598.89 L80.29 598.21 L80.6 597.56 L80.91 596.94 L81.22 596.36 L81.54 595.81 L81.85 595.29 L82.16 594.81 L82.47 594.36 L82.78 593.94 L83.09 593.56 L83.4 593.22 L83.72 592.91 L84.03 592.63 L84.34 592.39 L84.65 592.18 L84.96 592.01 L85.27 591.88 L85.58 591.77 L85.9 591.7 L86.21 591.67 L86.52 591.66 L86.83 591.69 L87.14 591.75 L87.45 591.83 L87.76 591.94 L88.08 592.08 L88.39 592.25 L88.7 592.44 L89.01 592.65 L89.32 592.87 L89.63 593.12 L89.94 593.38 L90.26 593.66 L90.57 593.95 L90.88 594.24 L91.19 594.55 L91.5 594.86 L91.81 595.17 L92.12 595.49 L92.44 595.81 L92.75 596.12 L93.06 596.42 L93.37 596.72 L93.68 597.02 L93.99 597.3 L94.31 597.57 L94.62 597.82 L94.93 598.06 L95.24 598.29 L95.55 598.49 L95.86 598.68 L96.17 598.85 L96.49 599 L96.8 599.12 L97.11 599.23 L97.42 599.31 L97.73 599.37 L98.04 599.41 L98.35 599.42 L98.67 599.41 L98.98 599.38 L99.29 599.33 L99.6 599.26 L99.91 599.16 L100.22 599.05 L100.53 598.92 L100.85 598.77 L101.16 598.61 L101.47 598.43 L101.78 598.24 L102.09 598.03 L102.4 597.82 L102.71 597.59 L103.03 597.36 L103.34 597.12 L103.65 596.87 L103.96 596.63 L104.27 596.38 L104.58 596.13 L104.89 595.88 L105.21 595.64 L105.52 595.39 L105.83 595.16 L106.14 594.93 L106.45 594.71 L106.76 594.5 L107.08 594.3 L107.39 594.11 L107.7 593.93 L108.01 593.77 L108.32 593.61 L108.63 593.48 L108.94 593.35 L109.26 593.24 L109.57 593.15 L109.88 593.07 L110.19 593 L110.5 592.95 L110.81 592.91 L111.12 592.88 L111.44 592.87 L111.75 592.87 L112.06 592.88 L112.37 592.9 L112.68 592.93 L112.99 592.97 L113.3 593.02 L113.62 593.07 L113.93 593.13 L114.24 593.19 L114.55 593.25 L114.86 593.32 L115.17 593.38 L115.48 593.45 L115.8 593.51 L116.11 593.57 L116.42 593.62 L116.73 593.66 L117.04 593.7 L117.35 593.73 L117.66 593.75 L117.98 593.76 L118.29 593.76 L118.6 593.75 L118.91 593.73 L119.22 593.69 L119.53 593.64 L119.84 593.57 L120.16 593.49 L120.47 593.4 L120.78 593.3 L121.09 593.17 L121.4 593.04 L121.71 592.89 L122.03 592.73 L122.34 592.56 L122.65 592.38 L122.96 592.19 L123.27 591.99 L123.58 591.78 L123.89 591.56 L124.21 591.34 L124.52 591.11 L124.83 590.88 L125.14 590.65 L125.45 590.42 L125.76 590.19 L126.07 589.97 L126.39 589.75 L126.7 589.53 L127.01 589.32 L127.32 589.13 L127.63 588.94 L127.94 588.77 L128.25 588.61 L128.57 588.47 L128.88 588.34 L129.19 588.23 L129.5 588.14 L129.81 588.08 L130.12 588.03 L130.43 588.01 L130.75 588 L131.06 588.03 L131.37 588.08 L131.68 588.15 L131.99 588.24 L132.3 588.37 L132.61 588.51 L132.93 588.68 L133.24 588.88 L133.55 589.1 L133.86 589.34 L134.17 589.61 L134.48 589.9 L134.79 590.2 L135.11 590.53 L135.42 590.87 L135.73 591.23 L136.04 591.61 L136.35 592 L136.66 592.4 L136.98 592.81 L137.29 593.23 L137.6 593.65 L137.91 594.08 L138.22 594.51 L138.53 594.93 L138.84 595.36 L139.16 595.78 L139.47 596.2 L139.78 596.6 L140.09 597 L140.4 597.38 L140.71 597.75 L141.02 598.1 L141.34 598.43 L141.65 598.75 L141.96 599.04 L142.27 599.3 L142.58 599.55 L142.89 599.77 L143.2 599.96 L143.52 600.12 L143.83 600.25 L144.14 600.36 L144.45 600.43 L144.76 600.48 L145.07 600.49 L145.38 600.48 L145.7 600.43 L146.01 600.35 L146.32 600.25 L146.63 600.11 L146.94 599.95 L147.25 599.75 L147.56 599.54 L147.88 599.29 L148.19 599.03 L148.5 598.74 L148.81 598.43 L149.12 598.1 L149.43 597.75 L149.74 597.39 L150.06 597.01 L150.37 596.62 L150.68 596.22 L150.99 595.82 L151.3 595.41 L151.61 594.99 L151.93 594.57 L152.24 594.16 L152.55 593.74 L152.86 593.33 L153.17 592.93 L153.48 592.54 L153.79 592.15 L154.11 591.78 L154.42 591.42 L154.73 591.08 L155.04 590.75 L155.35 590.44 L155.66 590.15 L155.97 589.88 L156.29 589.64 L156.6 589.41 L156.91 589.21 L157.22 589.03 L157.53 588.87 L157.84 588.74 L158.15 588.63 L158.47 588.55 L158.78 588.49 L159.09 588.45 L159.4 588.44 L159.71 588.45 L160.02 588.48 L160.33 588.53 L160.65 588.6 L160.96 588.69 L161.27 588.79 L161.58 588.92 L161.89 589.05 L162.2 589.2 L162.51 589.36 L162.83 589.53 L163.14 589.71 L163.45 589.9 L163.76 590.09 L164.07 590.29 L164.38 590.49 L164.69 590.68 L165.01 590.88 L165.32 591.07 L165.63 591.26 L165.94 591.44 L166.25 591.62 L166.56 591.79 L166.88 591.94 L167.19 592.09 L167.5 592.22 L167.81 592.34 L168.12 592.45 L168.43 592.54 L168.74 592.62 L169.06 592.68 L169.37 592.72 L169.68 592.75 L169.99 592.76 L170.3 592.76 L170.61 592.74 L170.92 592.7 L171.24 592.65 L171.55 592.59 L171.86 592.51 L172.17 592.41 L172.48 592.31 L172.79 592.19 L173.1 592.06 L173.42 591.92 L173.73 591.78 L174.04 591.63 L174.35 591.47 L174.66 591.31 L174.97 591.14 L175.28 590.98 L175.6 590.81 L175.91 590.65 L176.22 590.49 L176.53 590.33 L176.84 590.18 L177.15 590.03 L177.46 589.9 L177.78 589.77 L178.09 589.66 L178.4 589.56 L178.71 589.47 L179.02 589.39 L179.33 589.33 L179.64 589.28 L179.96 589.25 L180.27 589.24 L180.58 589.25 L180.89 589.27 L181.2 589.3 L181.51 589.36 L181.82 589.43 L182.14 589.52 L182.45 589.63 L182.76 589.75 L183.07 589.88 L183.38 590.04 L183.69 590.2 L184.01 590.38 L184.32 590.57 L184.63 590.77 L184.94 590.98 L185.25 591.19 L185.56 591.42 L185.87 591.65 L186.19 591.88 L186.5 592.12 L186.81 592.35 L187.12 592.58 L187.43 592.82 L187.74 593.04 L188.05 593.27 L188.37 593.48 L188.68 593.69 L188.99 593.88 L189.3 594.07 L189.61 594.24 L189.92 594.4 L190.23 594.54 L190.55 594.67 L190.86 594.77 L191.17 594.86 L191.48 594.93 L191.79 594.99 L192.1 595.02 L192.41 595.03 L192.73 595.02 L193.04 594.99 L193.35 594.94 L193.66 594.86 L193.97 594.77 L194.28 594.66 L194.59 594.52 L194.91 594.37 L195.22 594.2 L195.53 594.02 L195.84 593.82 L196.15 593.6 L196.46 593.37 L196.78 593.13 L197.09 592.87 L197.4 592.61 L197.71 592.34 L198.02 592.07 L198.33 591.79 L198.64 591.5 L198.96 591.22 L199.27 590.94 L199.58 590.66 L199.89 590.38 L200.2 590.11 L200.51 589.85 L200.82 589.6 L201.14 589.36 L201.45 589.14 L201.76 588.93 L202.07 588.73 L202.38 588.55 L202.69 588.39 L203 588.25 L203.32 588.13 L203.63 588.03 L203.94 587.95 L204.25 587.89 L204.56 587.86 L204.87 587.85 L205.18 587.86 L205.5 587.9 L205.81 587.96 L206.12 588.04 L206.43 588.15 L206.74 588.28 L207.05 588.42 L207.36 588.59 L207.68 588.78 L207.99 588.99 L208.3 589.21 L208.61 589.45 L208.92 589.7 L209.23 589.97 L209.54 590.24 L209.86 590.53 L210.17 590.82 L210.48 591.12 L210.79 591.42 L211.1 591.73 L211.41 592.03 L211.73 592.33 L212.04 592.63 L212.35 592.92 L212.66 593.2 L212.97 593.48 L213.28 593.74 L213.59 593.99 L213.91 594.22 L214.22 594.44 L214.53 594.64 L214.84 594.82 L215.15 594.98 L215.46 595.12 L215.77 595.24 L216.09 595.33 L216.4 595.4 L216.71 595.44 L217.02 595.46 L217.33 595.45 L217.64 595.41 L217.95 595.35 L218.27 595.26 L218.58 595.15 L218.89 595.01 L219.2 594.85" fill="none" stroke="#000" stroke-width="0.85"/>
<path d="M69.7 664.8 L70.01 664.67 L70.32 664.08 L70.63 662.85 L70.95 660.87 L71.26 658.07 L71.57 654.38 L71.88 649.76 L72.19 644.19 L72.5 642.05 L72.81 640.01 L73.13 638.07 L73.44 636.23 L73.75 634.49 L74.06 632.86 L74.37 631.34 L74.68 629.93 L74.99 628.63 L75.31 627.43 L75.62 626.34 L75.93 625.36 L76.24 624.49 L76.55 623.71 L76.86 623.03 L77.17 622.43 L77.49 621.93 L77.8 621.5 L78.11 621.14 L78.42 620.84 L78.73 620.61 L79.04 620.42 L79.36 620.27 L79.67 620.15 L79.98 620.06 L80.29 619.98 L80.6 619.92 L80.91 619.85 L81.22 619.79 L81.54 619.71 L81.85 619.62 L82.16 619.51 L82.47 619.38 L82.78 619.23 L83.09 619.05 L83.4 618.85 L83.72 618.62 L84.03 618.36 L84.34 618.08 L84.65 617.77 L84.96 617.45 L85.27 617.11 L85.58 616.77 L85.9 616.41 L86.21 616.05 L86.52 615.69 L86.83 615.35 L87.14 615.01 L87.45 614.69 L87.76 614.39 L88.08 614.11 L88.39 613.87 L88.7 613.66 L89.01 613.48 L89.32 613.34 L89.63 613.24 L89.94 613.18 L90.26 613.16 L90.57 613.18 L90.88 613.24 L91.19 613.34 L91.5 613.47 L91.81 613.63 L92.12 613.82 L92.44 614.04 L92.75 614.27 L93.06 614.52 L93.37 614.78 L93.68 615.04 L93.99 615.3 L94.31 615.55 L94.62 615.79 L94.93 616.01 L95.24 616.21 L95.55 616.38 L95.86 616.52 L96.17 616.62 L96.49 616.68 L96.8 616.71 L97.11 616.69 L97.42 616.62 L97.73 616.51 L98.04 616.36 L98.35 616.16 L98.67 615.92 L98.98 615.64 L99.29 615.32 L99.6 614.97 L99.91 614.58 L100.22 614.18 L100.53 613.75 L100.85 613.3 L101.16 612.85 L101.47 612.4 L101.78 611.94 L102.09 611.49 L102.4 611.06 L102.71 610.65 L103.03 610.25 L103.34 609.89 L103.65 609.56 L103.96 609.27 L104.27 609.02 L104.58 608.81 L104.89 608.64 L105.21 608.52 L105.52 608.45 L105.83 608.42 L106.14 608.44 L106.45 608.5 L106.76 608.6 L107.08 608.74 L107.39 608.92 L107.7 609.12 L108.01 609.35 L108.32 609.6 L108.63 609.86 L108.94 610.13 L109.26 610.4 L109.57 610.67 L109.88 610.93 L110.19 611.17 L110.5 611.39 L110.81 611.59 L111.12 611.74 L111.44 611.86 L111.75 611.94 L112.06 611.97 L112.37 611.95 L112.68 611.88 L112.99 611.76 L113.3 611.57 L113.62 611.34 L113.93 611.05 L114.24 610.71 L114.55 610.31 L114.86 609.87 L115.17 609.38 L115.48 608.86 L115.8 608.3 L116.11 607.7 L116.42 607.09 L116.73 606.46 L117.04 605.81 L117.35 605.16 L117.66 604.52 L117.98 603.89 L118.29 603.27 L118.6 602.67 L118.91 602.11 L119.22 601.59 L119.53 601.1 L119.84 600.67 L120.16 600.29 L120.47 599.96 L120.78 599.7 L121.09 599.49 L121.4 599.36 L121.71 599.29 L122.03 599.28 L122.34 599.34 L122.65 599.47 L122.96 599.66 L123.27 599.91 L123.58 600.22 L123.89 600.58 L124.21 600.98 L124.52 601.43 L124.83 601.91 L125.14 602.43 L125.45 602.97 L125.76 603.52 L126.07 604.09 L126.39 604.65 L126.7 605.22 L127.01 605.77 L127.32 606.3 L127.63 606.81 L127.94 607.3 L128.25 607.74 L128.57 608.14 L128.88 608.5 L129.19 608.81 L129.5 609.07 L129.81 609.27 L130.12 609.42 L130.43 609.51 L130.75 609.54 L131.06 609.51 L131.37 609.42 L131.68 609.29 L131.99 609.09 L132.3 608.85 L132.61 608.57 L132.93 608.24 L133.24 607.88 L133.55 607.48 L133.86 607.06 L134.17 606.62 L134.48 606.16 L134.79 605.69 L135.11 605.22 L135.42 604.76 L135.73 604.3 L136.04 603.86 L136.35 603.43 L136.66 603.04 L136.98 602.67 L137.29 602.33 L137.6 602.04 L137.91 601.78 L138.22 601.57 L138.53 601.41 L138.84 601.29 L139.16 601.22 L139.47 601.21 L139.78 601.24 L140.09 601.31 L140.4 601.44 L140.71 601.61 L141.02 601.83 L141.34 602.08 L141.65 602.38 L141.96 602.7 L142.27 603.06 L142.58 603.44 L142.89 603.84 L143.2 604.25 L143.52 604.68 L143.83 605.11 L144.14 605.55 L144.45 605.98 L144.76 606.4 L145.07 606.81 L145.38 607.2 L145.7 607.57 L146.01 607.91 L146.32 608.22 L146.63 608.5 L146.94 608.74 L147.25 608.94 L147.56 609.1 L147.88 609.21 L148.19 609.28 L148.5 609.3 L148.81 609.28 L149.12 609.2 L149.43 609.08 L149.74 608.91 L150.06 608.69 L150.37 608.43 L150.68 608.13 L150.99 607.78 L151.3 607.4 L151.61 606.98 L151.93 606.52 L152.24 606.03 L152.55 605.52 L152.86 604.99 L153.17 604.43 L153.48 603.86 L153.79 603.27 L154.11 602.68 L154.42 602.09 L154.73 601.49 L155.04 600.9 L155.35 600.32 L155.66 599.75 L155.97 599.2 L156.29 598.66 L156.6 598.15 L156.91 597.67 L157.22 597.22 L157.53 596.79 L157.84 596.41 L158.15 596.06 L158.47 595.75 L158.78 595.49 L159.09 595.26 L159.4 595.08 L159.71 594.95 L160.02 594.86 L160.33 594.82 L160.65 594.82 L160.96 594.86 L161.27 594.94 L161.58 595.07 L161.89 595.23 L162.2 595.43 L162.51 595.67 L162.83 595.93 L163.14 596.22 L163.45 596.54 L163.76 596.87 L164.07 597.22 L164.38 597.58 L164.69 597.94 L165.01 598.31 L165.32 598.67 L165.63 599.02 L165.94 599.36 L166.25 599.69 L166.56 599.99 L166.88 600.26 L167.19 600.5 L167.5 600.7 L167.81 600.87 L168.12 600.99 L168.43 601.07 L168.74 601.1 L169.06 601.08 L169.37 601.02 L169.68 600.89 L169.99 600.72 L170.3 600.5 L170.61 600.22 L170.92 599.9 L171.24 599.53 L171.55 599.12 L171.86 598.66 L172.17 598.17 L172.48 597.65 L172.79 597.1 L173.1 596.53 L173.42 595.94 L173.73 595.35 L174.04 594.75 L174.35 594.16 L174.66 593.58 L174.97 593.01 L175.28 592.47 L175.6 591.96 L175.91 591.49 L176.22 591.06 L176.53 590.68 L176.84 590.36 L177.15 590.09 L177.46 589.89 L177.78 589.76 L178.09 589.7 L178.4 589.71 L178.71 589.79 L179.02 589.95 L179.33 590.19 L179.64 590.49 L179.96 590.87 L180.27 591.31 L180.58 591.82 L180.89 592.39 L181.2 593.01 L181.51 593.67 L181.82 594.38 L182.14 595.12 L182.45 595.89 L182.76 596.67 L183.07 597.46 L183.38 598.25 L183.69 599.03 L184.01 599.8 L184.32 600.53 L184.63 601.23 L184.94 601.88 L185.25 602.48 L185.56 603.03 L185.87 603.5 L186.19 603.9 L186.5 604.23 L186.81 604.47 L187.12 604.63 L187.43 604.7 L187.74 604.68 L188.05 604.57 L188.37 604.37 L188.68 604.08 L188.99 603.71 L189.3 603.26 L189.61 602.74 L189.92 602.15 L190.23 601.49 L190.55 600.78 L190.86 600.02 L191.17 599.23 L191.48 598.4 L191.79 597.56 L192.1 596.71 L192.41 595.86 L192.73 595.02 L193.04 594.21 L193.35 593.42 L193.66 592.67 L193.97 591.97 L194.28 591.33 L194.59 590.76 L194.91 590.25 L195.22 589.82 L195.53 589.47 L195.84 589.21 L196.15 589.03 L196.46 588.94 L196.78 588.94 L197.09 589.03 L197.4 589.2 L197.71 589.45 L198.02 589.78 L198.33 590.18 L198.64 590.64 L198.96 591.17 L199.27 591.74 L199.58 592.35 L199.89 592.99 L200.2 593.65 L200.51 594.32 L200.82 594.99 L201.14 595.66 L201.45 596.3 L201.76 596.91 L202.07 597.48 L202.38 597.99 L202.69 598.45 L203 598.85 L203.32 599.17 L203.63 599.41 L203.94 599.57 L204.25 599.64 L204.56 599.62 L204.87 599.5 L205.18 599.3 L205.5 599 L205.81 598.61 L206.12 598.14 L206.43 597.58 L206.74 596.95 L207.05 596.25 L207.36 595.49 L207.68 594.67 L207.99 593.81 L208.3 592.91 L208.61 591.99 L208.92 591.05 L209.23 590.11 L209.54 589.18 L209.86 588.26 L210.17 587.37 L210.48 586.51 L210.79 585.71 L211.1 584.95 L211.41 584.26 L211.73 583.64 L212.04 583.1 L212.35 582.64 L212.66 582.26 L212.97 581.97 L213.28 581.77 L213.59 581.66 L213.91 581.65 L214.22 581.72 L214.53 581.87 L214.84 582.11 L215.15 582.42 L215.46 582.8 L215.77 583.24 L216.09 583.74 L216.4 584.29 L216.71 584.88 L217.02 585.49 L217.33 586.13 L217.64 586.77 L217.95 587.41 L218.27 588.05 L218.58 588.67 L218.89 589.26 L219.2 589.81" fill="none" stroke="#000" stroke-width="0.85"/>
<path d="M69.7 664.8 L70.01 664.68 L70.32 664.15 L70.63 663.06 L70.95 661.32 L71.26 658.87 L71.57 655.68 L71.88 651.72 L72.19 646.99 L72.5 645.25 L72.81 643.6 L73.13 642.05 L73.44 640.57 L73.75 639.18 L74.06 637.86 L74.37 636.61 L74.68 635.44 L74.99 634.33 L75.31 633.28 L75.62 632.3 L75.93 631.37 L76.24 630.5 L76.55 629.69 L76.86 628.92 L77.17 628.2 L77.49 627.53 L77.8 626.9 L78.11 626.31 L78.42 625.77 L78.73 625.25 L79.04 624.78 L79.36 624.34 L79.67 623.92 L79.98 623.54 L80.29 623.18 L80.6 622.85 L80.91 622.54 L81.22 622.25 L81.54 621.98 L81.85 621.73 L82.16 621.5 L82.47 621.27 L82.78 621.06 L83.09 620.86 L83.4 620.67 L83.72 620.49 L84.03 620.32 L84.34 620.15 L84.65 619.98 L84.96 619.81 L85.27 619.65 L85.58 619.49 L85.9 619.33 L86.21 619.16 L86.52 619 L86.83 618.83 L87.14 618.66 L87.45 618.48 L87.76 618.3 L88.08 618.12 L88.39 617.93 L88.7 617.74 L89.01 617.55 L89.32 617.35 L89.63 617.14 L89.94 616.93 L90.26 616.72 L90.57 616.5 L90.88 616.28 L91.19 616.05 L91.5 615.83 L91.81 615.6 L92.12 615.37 L92.44 615.14 L92.75 614.91 L93.06 614.68 L93.37 614.45 L93.68 614.23 L93.99 614 L94.31 613.78 L94.62 613.57 L94.93 613.36 L95.24 613.15 L95.55 612.95 L95.86 612.76 L96.17 612.58 L96.49 612.4 L96.8 612.23 L97.11 612.07 L97.42 611.92 L97.73 611.78 L98.04 611.65 L98.35 611.54 L98.67 611.43 L98.98 611.33 L99.29 611.24 L99.6 611.17 L99.91 611.1 L100.22 611.05 L100.53 611 L100.85 610.97 L101.16 610.94 L101.47 610.93 L101.78 610.92 L102.09 610.93 L102.4 610.94 L102.71 610.96 L103.03 610.98 L103.34 611.01 L103.65 611.05 L103.96 611.09 L104.27 611.14 L104.58 611.19 L104.89 611.24 L105.21 611.29 L105.52 611.35 L105.83 611.4 L106.14 611.45 L106.45 611.5 L106.76 611.55 L107.08 611.6 L107.39 611.64 L107.7 611.67 L108.01 611.7 L108.32 611.72 L108.63 611.74 L108.94 611.75 L109.26 611.75 L109.57 611.74 L109.88 611.72 L110.19 611.7 L110.5 611.66 L110.81 611.61 L111.12 611.56 L111.44 611.49 L111.75 611.41 L112.06 611.32 L112.37 611.23 L112.68 611.12 L112.99 611 L113.3 610.87 L113.62 610.74 L113.93 610.59 L114.24 610.44 L114.55 610.28 L114.86 610.11 L115.17 609.94 L115.48 609.76 L115.8 609.57 L116.11 609.38 L116.42 609.19 L116.73 609 L117.04 608.8 L117.35 608.61 L117.66 608.41 L117.98 608.22 L118.29 608.03 L118.6 607.84 L118.91 607.65 L119.22 607.47 L119.53 607.29 L119.84 607.13 L120.16 606.96 L120.47 606.81 L120.78 606.66 L121.09 606.53 L121.4 606.4 L121.71 606.29 L122.03 606.18 L122.34 606.09 L122.65 606.01 L122.96 605.94 L123.27 605.89 L123.58 605.84 L123.89 605.81 L124.21 605.79 L124.52 605.79 L124.83 605.79 L125.14 605.81 L125.45 605.84 L125.76 605.89 L126.07 605.94 L126.39 606.01 L126.7 606.08 L127.01 606.17 L127.32 606.26 L127.63 606.36 L127.94 606.47 L128.25 606.59 L128.57 606.71 L128.88 606.84 L129.19 606.97 L129.5 607.11 L129.81 607.25 L130.12 607.39 L130.43 607.53 L130.75 607.67 L131.06 607.8 L131.37 607.94 L131.68 608.07 L131.99 608.2 L132.3 608.32 L132.61 608.44 L132.93 608.55 L133.24 608.66 L133.55 608.75 L133.86 608.84 L134.17 608.92 L134.48 608.98 L134.79 609.04 L135.11 609.08 L135.42 609.12 L135.73 609.14 L136.04 609.15 L136.35 609.15 L136.66 609.13 L136.98 609.11 L137.29 609.07 L137.6 609.02 L137.91 608.96 L138.22 608.88 L138.53 608.8 L138.84 608.7 L139.16 608.59 L139.47 608.47 L139.78 608.35 L140.09 608.21 L140.4 608.07 L140.71 607.91 L141.02 607.75 L141.34 607.59 L141.65 607.42 L141.96 607.24 L142.27 607.06 L142.58 606.88 L142.89 606.69 L143.2 606.5 L143.52 606.32 L143.83 606.13 L144.14 605.94 L144.45 605.76 L144.76 605.58 L145.07 605.4 L145.38 605.22 L145.7 605.05 L146.01 604.89 L146.32 604.73 L146.63 604.57 L146.94 604.43 L147.25 604.29 L147.56 604.16 L147.88 604.03 L148.19 603.92 L148.5 603.81 L148.81 603.71 L149.12 603.62 L149.43 603.54 L149.74 603.47 L150.06 603.4 L150.37 603.34 L150.68 603.29 L150.99 603.25 L151.3 603.22 L151.61 603.19 L151.93 603.16 L152.24 603.15 L152.55 603.14 L152.86 603.13 L153.17 603.13 L153.48 603.13 L153.79 603.13 L154.11 603.14 L154.42 603.15 L154.73 603.15 L155.04 603.16 L155.35 603.17 L155.66 603.18 L155.97 603.18 L156.29 603.18 L156.6 603.18 L156.91 603.18 L157.22 603.17 L157.53 603.15 L157.84 603.13 L158.15 603.1 L158.47 603.07 L158.78 603.03 L159.09 602.99 L159.4 602.93 L159.71 602.87 L160.02 602.8 L160.33 602.73 L160.65 602.64 L160.96 602.55 L161.27 602.45 L161.58 602.35 L161.89 602.23 L162.2 602.11 L162.51 601.99 L162.83 601.85 L163.14 601.72 L163.45 601.57 L163.76 601.42 L164.07 601.27 L164.38 601.12 L164.69 600.96 L165.01 600.8 L165.32 600.64 L165.63 600.47 L165.94 600.31 L166.25 600.15 L166.56 599.99 L166.88 599.83 L167.19 599.68 L167.5 599.53 L167.81 599.38 L168.12 599.24 L168.43 599.11 L168.74 598.98 L169.06 598.86 L169.37 598.75 L169.68 598.65 L169.99 598.55 L170.3 598.47 L170.61 598.4 L170.92 598.33 L171.24 598.28 L171.55 598.24 L171.86 598.21 L172.17 598.19 L172.48 598.18 L172.79 598.18 L173.1 598.2 L173.42 598.22 L173.73 598.26 L174.04 598.31 L174.35 598.36 L174.66 598.43 L174.97 598.5 L175.28 598.59 L175.6 598.68 L175.91 598.78 L176.22 598.89 L176.53 599 L176.84 599.12 L177.15 599.24 L177.46 599.37 L177.78 599.5 L178.09 599.63 L178.4 599.76 L178.71 599.9 L179.02 600.03 L179.33 600.16 L179.64 600.28 L179.96 600.41 L180.27 600.53 L180.58 600.64 L180.89 600.75 L181.2 600.85 L181.51 600.95 L181.82 601.03 L182.14 601.11 L182.45 601.18 L182.76 601.23 L183.07 601.28 L183.38 601.31 L183.69 601.34 L184.01 601.35 L184.32 601.35 L184.63 601.34 L184.94 601.31 L185.25 601.27 L185.56 601.22 L185.87 601.16 L186.19 601.09 L186.5 601 L186.81 600.91 L187.12 600.8 L187.43 600.68 L187.74 600.55 L188.05 600.41 L188.37 600.26 L188.68 600.1 L188.99 599.94 L189.3 599.77 L189.61 599.59 L189.92 599.41 L190.23 599.22 L190.55 599.03 L190.86 598.84 L191.17 598.64 L191.48 598.44 L191.79 598.25 L192.1 598.05 L192.41 597.86 L192.73 597.66 L193.04 597.47 L193.35 597.29 L193.66 597.11 L193.97 596.93 L194.28 596.77 L194.59 596.6 L194.91 596.45 L195.22 596.3 L195.53 596.17 L195.84 596.04 L196.15 595.92 L196.46 595.81 L196.78 595.71 L197.09 595.62 L197.4 595.54 L197.71 595.47 L198.02 595.41 L198.33 595.36 L198.64 595.32 L198.96 595.29 L199.27 595.27 L199.58 595.26 L199.89 595.25 L200.2 595.26 L200.51 595.27 L200.82 595.28 L201.14 595.31 L201.45 595.34 L201.76 595.37 L202.07 595.41 L202.38 595.45 L202.69 595.5 L203 595.54 L203.32 595.59 L203.63 595.64 L203.94 595.68 L204.25 595.72 L204.56 595.77 L204.87 595.8 L205.18 595.84 L205.5 595.87 L205.81 595.89 L206.12 595.91 L206.43 595.92 L206.74 595.92 L207.05 595.91 L207.36 595.9 L207.68 595.88 L207.99 595.84 L208.3 595.8 L208.61 595.75 L208.92 595.69 L209.23 595.62 L209.54 595.53 L209.86 595.44 L210.17 595.34 L210.48 595.22 L210.79 595.1 L211.1 594.97 L211.41 594.82 L211.73 594.67 L212.04 594.51 L212.35 594.35 L212.66 594.17 L212.97 593.99 L213.28 593.8 L213.59 593.61 L213.91 593.41 L214.22 593.21 L214.53 593.01 L214.84 592.81 L215.15 592.6 L215.46 592.39 L215.77 592.19 L216.09 591.98 L216.4 591.78 L216.71 591.58 L217.02 591.39 L217.33 591.2 L217.64 591.02 L217.95 590.84 L218.27 590.67 L218.58 590.51 L218.89 590.36 L219.2 590.22" fill="none" stroke="#000" stroke-width="0.85"/>
<path d="M69.7 664.8 L70.01 660.08 L70.32 650.88 L70.63 646.68 L70.95 650.6 L71.26 655.7 L71.57 653.57 L71.88 648.79 L72.19 643.11 L72.5 641.12 L72.81 639.26 L73.13 637.51 L73.44 635.88 L73.75 634.35 L74.06 632.91 L74.37 631.57 L74.68 630.31 L74.99 629.13 L75.31 628.02 L75.62 626.98 L75.93 626 L76.24 625.09 L76.55 624.22 L76.86 623.41 L77.17 622.64 L77.49 621.92 L77.8 621.23 L78.11 620.58 L78.42 619.97 L78.73 619.39 L79.04 618.84 L79.36 618.31 L79.67 617.81 L79.98 617.34 L80.29 616.88 L80.6 616.44 L80.91 616.03 L81.22 615.62 L81.54 615.23 L81.85 614.86 L82.16 614.5 L82.47 614.15 L82.78 613.81 L83.09 613.48 L83.4 613.16 L83.72 612.84 L84.03 612.54 L84.34 612.24 L84.65 611.94 L84.96 611.66 L85.27 611.37 L85.58 611.1 L85.9 610.82 L86.21 610.56 L86.52 610.29 L86.83 610.03 L87.14 609.77 L87.45 609.52 L87.76 609.27 L88.08 609.02 L88.39 608.77 L88.7 608.53 L89.01 608.29 L89.32 608.06 L89.63 607.82 L89.94 607.59 L90.26 607.36 L90.57 607.14 L90.88 606.91 L91.19 606.69 L91.5 606.48 L91.81 606.26 L92.12 606.05 L92.44 605.84 L92.75 605.64 L93.06 605.44 L93.37 605.24 L93.68 605.05 L93.99 604.86 L94.31 604.68 L94.62 604.49 L94.93 604.32 L95.24 604.15 L95.55 603.98 L95.86 603.82 L96.17 603.66 L96.49 603.51 L96.8 603.36 L97.11 603.22 L97.42 603.08 L97.73 602.95 L98.04 602.83 L98.35 602.71 L98.67 602.6 L98.98 602.49 L99.29 602.4 L99.6 602.3 L99.91 602.22 L100.22 602.14 L100.53 602.07 L100.85 602.01 L101.16 601.95 L101.47 601.9 L101.78 601.86 L102.09 601.83 L102.4 601.8 L102.71 601.79 L103.03 601.78 L103.34 601.77 L103.65 601.78 L103.96 601.79 L104.27 601.81 L104.58 601.84 L104.89 601.88 L105.21 601.92 L105.52 601.97 L105.83 602.03 L106.14 602.1 L106.45 602.17 L106.76 602.25 L107.08 602.34 L107.39 602.43 L107.7 602.53 L108.01 602.64 L108.32 602.75 L108.63 602.87 L108.94 602.99 L109.26 603.12 L109.57 603.25 L109.88 603.39 L110.19 603.53 L110.5 603.67 L110.81 603.82 L111.12 603.97 L111.44 604.12 L111.75 604.28 L112.06 604.43 L112.37 604.59 L112.68 604.75 L112.99 604.9 L113.3 605.06 L113.62 605.22 L113.93 605.37 L114.24 605.52 L114.55 605.68 L114.86 605.82 L115.17 605.97 L115.48 606.11 L115.8 606.25 L116.11 606.38 L116.42 606.5 L116.73 606.62 L117.04 606.74 L117.35 606.85 L117.66 606.95 L117.98 607.04 L118.29 607.13 L118.6 607.21 L118.91 607.28 L119.22 607.34 L119.53 607.39 L119.84 607.44 L120.16 607.47 L120.47 607.5 L120.78 607.51 L121.09 607.52 L121.4 607.51 L121.71 607.5 L122.03 607.47 L122.34 607.44 L122.65 607.39 L122.96 607.34 L123.27 607.27 L123.58 607.2 L123.89 607.11 L124.21 607.02 L124.52 606.91 L124.83 606.8 L125.14 606.68 L125.45 606.55 L125.76 606.41 L126.07 606.26 L126.39 606.11 L126.7 605.95 L127.01 605.78 L127.32 605.61 L127.63 605.43 L127.94 605.24 L128.25 605.06 L128.57 604.86 L128.88 604.67 L129.19 604.47 L129.5 604.27 L129.81 604.07 L130.12 603.87 L130.43 603.67 L130.75 603.46 L131.06 603.26 L131.37 603.06 L131.68 602.87 L131.99 602.67 L132.3 602.48 L132.61 602.3 L132.93 602.11 L133.24 601.94 L133.55 601.77 L133.86 601.6 L134.17 601.44 L134.48 601.29 L134.79 601.15 L135.11 601.01 L135.42 600.89 L135.73 600.77 L136.04 600.66 L136.35 600.56 L136.66 600.47 L136.98 600.39 L137.29 600.32 L137.6 600.26 L137.91 600.2 L138.22 600.16 L138.53 600.13 L138.84 600.11 L139.16 600.1 L139.47 600.1 L139.78 600.1 L140.09 600.12 L140.4 600.14 L140.71 600.18 L141.02 600.22 L141.34 600.27 L141.65 600.32 L141.96 600.39 L142.27 600.45 L142.58 600.53 L142.89 600.61 L143.2 600.69 L143.52 600.78 L143.83 600.87 L144.14 600.96 L144.45 601.05 L144.76 601.14 L145.07 601.24 L145.38 601.33 L145.7 601.42 L146.01 601.51 L146.32 601.59 L146.63 601.67 L146.94 601.75 L147.25 601.82 L147.56 601.88 L147.88 601.93 L148.19 601.98 L148.5 602.02 L148.81 602.05 L149.12 602.06 L149.43 602.07 L149.74 602.06 L150.06 602.05 L150.37 602.02 L150.68 601.97 L150.99 601.92 L151.3 601.84 L151.61 601.76 L151.93 601.65 L152.24 601.54 L152.55 601.4 L152.86 601.26 L153.17 601.09 L153.48 600.91 L153.79 600.72 L154.11 600.5 L154.42 600.28 L154.73 600.03 L155.04 599.77 L155.35 599.5 L155.66 599.21 L155.97 598.91 L156.29 598.59 L156.6 598.26 L156.91 597.92 L157.22 597.56 L157.53 597.2 L157.84 596.82 L158.15 596.43 L158.47 596.04 L158.78 595.63 L159.09 595.22 L159.4 594.81 L159.71 594.39 L160.02 593.96 L160.33 593.53 L160.65 593.1 L160.96 592.67 L161.27 592.24 L161.58 591.81 L161.89 591.38 L162.2 590.96 L162.51 590.54 L162.83 590.13 L163.14 589.73 L163.45 589.33 L163.76 588.95 L164.07 588.58 L164.38 588.21 L164.69 587.87 L165.01 587.53 L165.32 587.21 L165.63 586.91 L165.94 586.63 L166.25 586.36 L166.56 586.11 L166.88 585.88 L167.19 585.68 L167.5 585.49 L167.81 585.33 L168.12 585.19 L168.43 585.07 L168.74 584.98 L169.06 584.91 L169.37 584.86 L169.68 584.84 L169.99 584.84 L170.3 584.87 L170.61 584.93 L170.92 585 L171.24 585.11 L171.55 585.23 L171.86 585.39 L172.17 585.56 L172.48 585.76 L172.79 585.98 L173.1 586.22 L173.42 586.49 L173.73 586.78 L174.04 587.08 L174.35 587.41 L174.66 587.75 L174.97 588.12 L175.28 588.49 L175.6 588.89 L175.91 589.3 L176.22 589.72 L176.53 590.15 L176.84 590.59 L177.15 591.05 L177.46 591.51 L177.78 591.98 L178.09 592.45 L178.4 592.93 L178.71 593.41 L179.02 593.89 L179.33 594.37 L179.64 594.85 L179.96 595.33 L180.27 595.8 L180.58 596.27 L180.89 596.73 L181.2 597.18 L181.51 597.62 L181.82 598.05 L182.14 598.47 L182.45 598.88 L182.76 599.27 L183.07 599.64 L183.38 600 L183.69 600.35 L184.01 600.67 L184.32 600.97 L184.63 601.26 L184.94 601.52 L185.25 601.77 L185.56 601.99 L185.87 602.18 L186.19 602.36 L186.5 602.51 L186.81 602.63 L187.12 602.74 L187.43 602.82 L187.74 602.87 L188.05 602.9 L188.37 602.91 L188.68 602.89 L188.99 602.84 L189.3 602.78 L189.61 602.69 L189.92 602.58 L190.23 602.44 L190.55 602.28 L190.86 602.11 L191.17 601.91 L191.48 601.69 L191.79 601.45 L192.1 601.19 L192.41 600.92 L192.73 600.63 L193.04 600.32 L193.35 600 L193.66 599.67 L193.97 599.32 L194.28 598.97 L194.59 598.6 L194.91 598.22 L195.22 597.84 L195.53 597.45 L195.84 597.05 L196.15 596.65 L196.46 596.24 L196.78 595.83 L197.09 595.42 L197.4 595.02 L197.71 594.61 L198.02 594.2 L198.33 593.8 L198.64 593.4 L198.96 593.01 L199.27 592.62 L199.58 592.24 L199.89 591.87 L200.2 591.51 L200.51 591.15 L200.82 590.81 L201.14 590.47 L201.45 590.15 L201.76 589.84 L202.07 589.55 L202.38 589.26 L202.69 588.99 L203 588.73 L203.32 588.49 L203.63 588.26 L203.94 588.04 L204.25 587.84 L204.56 587.66 L204.87 587.48 L205.18 587.32 L205.5 587.18 L205.81 587.05 L206.12 586.93 L206.43 586.83 L206.74 586.73 L207.05 586.65 L207.36 586.59 L207.68 586.53 L207.99 586.49 L208.3 586.45 L208.61 586.42 L208.92 586.41 L209.23 586.4 L209.54 586.4 L209.86 586.4 L210.17 586.41 L210.48 586.43 L210.79 586.45 L211.1 586.48 L211.41 586.5 L211.73 586.53 L212.04 586.57 L212.35 586.6 L212.66 586.63 L212.97 586.66 L213.28 586.69 L213.59 586.71 L213.91 586.74 L214.22 586.76 L214.53 586.77 L214.84 586.78 L215.15 586.78 L215.46 586.78 L215.77 586.77 L216.09 586.76 L216.4 586.73 L216.71 586.7 L217.02 586.66 L217.33 586.61 L217.64 586.55 L217.95 586.48 L218.27 586.4 L218.58 586.32 L218.89 586.22 L219.2 586.11" fill="none" stroke="#000" stroke-width="0.85"/>
<path d="M69.7 664.8 L70.01 664.66 L70.32 664.04 L70.63 662.78 L70.95 660.77 L71.26 657.96 L71.57 654.31 L71.88 649.81 L72.19 644.46 L72.5 642.55 L72.81 640.75 L73.13 639.07 L73.44 637.48 L73.75 635.98 L74.06 634.57 L74.37 633.25 L74.68 631.99 L74.99 630.81 L75.31 629.69 L75.62 628.63 L75.93 627.63 L76.24 626.67 L76.55 625.77 L76.86 624.9 L77.17 624.07 L77.49 623.28 L77.8 622.52 L78.11 621.79 L78.42 621.09 L78.73 620.42 L79.04 619.76 L79.36 619.13 L79.67 618.52 L79.98 617.93 L80.29 617.35 L80.6 616.79 L80.91 616.25 L81.22 615.72 L81.54 615.21 L81.85 614.71 L82.16 614.22 L82.47 613.75 L82.78 613.3 L83.09 612.86 L83.4 612.44 L83.72 612.03 L84.03 611.64 L84.34 611.26 L84.65 610.9 L84.96 610.56 L85.27 610.24 L85.58 609.94 L85.9 609.66 L86.21 609.4 L86.52 609.16 L86.83 608.94 L87.14 608.74 L87.45 608.56 L87.76 608.41 L88.08 608.28 L88.39 608.17 L88.7 608.09 L89.01 608.03 L89.32 607.99 L89.63 607.97 L89.94 607.98 L90.26 608.01 L90.57 608.06 L90.88 608.13 L91.19 608.22 L91.5 608.34 L91.81 608.47 L92.12 608.61 L92.44 608.78 L92.75 608.96 L93.06 609.15 L93.37 609.35 L93.68 609.57 L93.99 609.8 L94.31 610.04 L94.62 610.28 L94.93 610.53 L95.24 610.78 L95.55 611.04 L95.86 611.29 L96.17 611.55 L96.49 611.8 L96.8 612.05 L97.11 612.3 L97.42 612.53 L97.73 612.76 L98.04 612.98 L98.35 613.19 L98.67 613.38 L98.98 613.56 L99.29 613.73 L99.6 613.87 L99.91 614.01 L100.22 614.12 L100.53 614.22 L100.85 614.29 L101.16 614.35 L101.47 614.38 L101.78 614.4 L102.09 614.39 L102.4 614.37 L102.71 614.32 L103.03 614.25 L103.34 614.16 L103.65 614.06 L103.96 613.93 L104.27 613.78 L104.58 613.62 L104.89 613.43 L105.21 613.24 L105.52 613.02 L105.83 612.79 L106.14 612.55 L106.45 612.3 L106.76 612.04 L107.08 611.76 L107.39 611.48 L107.7 611.2 L108.01 610.91 L108.32 610.61 L108.63 610.32 L108.94 610.02 L109.26 609.73 L109.57 609.44 L109.88 609.15 L110.19 608.87 L110.5 608.6 L110.81 608.33 L111.12 608.08 L111.44 607.84 L111.75 607.61 L112.06 607.39 L112.37 607.19 L112.68 607.01 L112.99 606.84 L113.3 606.69 L113.62 606.56 L113.93 606.45 L114.24 606.35 L114.55 606.28 L114.86 606.22 L115.17 606.19 L115.48 606.17 L115.8 606.18 L116.11 606.2 L116.42 606.24 L116.73 606.3 L117.04 606.38 L117.35 606.47 L117.66 606.58 L117.98 606.71 L118.29 606.85 L118.6 607 L118.91 607.17 L119.22 607.34 L119.53 607.53 L119.84 607.72 L120.16 607.92 L120.47 608.12 L120.78 608.33 L121.09 608.53 L121.4 608.74 L121.71 608.95 L122.03 609.16 L122.34 609.36 L122.65 609.55 L122.96 609.74 L123.27 609.91 L123.58 610.08 L123.89 610.24 L124.21 610.38 L124.52 610.51 L124.83 610.62 L125.14 610.72 L125.45 610.8 L125.76 610.86 L126.07 610.9 L126.39 610.92 L126.7 610.92 L127.01 610.9 L127.32 610.86 L127.63 610.8 L127.94 610.72 L128.25 610.61 L128.57 610.49 L128.88 610.34 L129.19 610.17 L129.5 609.98 L129.81 609.77 L130.12 609.54 L130.43 609.3 L130.75 609.03 L131.06 608.75 L131.37 608.46 L131.68 608.15 L131.99 607.82 L132.3 607.49 L132.61 607.14 L132.93 606.79 L133.24 606.42 L133.55 606.05 L133.86 605.68 L134.17 605.3 L134.48 604.92 L134.79 604.54 L135.11 604.16 L135.42 603.79 L135.73 603.42 L136.04 603.05 L136.35 602.69 L136.66 602.34 L136.98 602 L137.29 601.67 L137.6 601.35 L137.91 601.04 L138.22 600.75 L138.53 600.47 L138.84 600.21 L139.16 599.97 L139.47 599.74 L139.78 599.53 L140.09 599.33 L140.4 599.16 L140.71 599 L141.02 598.86 L141.34 598.74 L141.65 598.63 L141.96 598.55 L142.27 598.48 L142.58 598.43 L142.89 598.39 L143.2 598.38 L143.52 598.37 L143.83 598.38 L144.14 598.4 L144.45 598.44 L144.76 598.48 L145.07 598.54 L145.38 598.61 L145.7 598.68 L146.01 598.76 L146.32 598.84 L146.63 598.93 L146.94 599.02 L147.25 599.12 L147.56 599.21 L147.88 599.3 L148.19 599.39 L148.5 599.47 L148.81 599.55 L149.12 599.63 L149.43 599.7 L149.74 599.76 L150.06 599.81 L150.37 599.85 L150.68 599.88 L150.99 599.9 L151.3 599.91 L151.61 599.91 L151.93 599.89 L152.24 599.86 L152.55 599.82 L152.86 599.76 L153.17 599.7 L153.48 599.61 L153.79 599.52 L154.11 599.41 L154.42 599.29 L154.73 599.16 L155.04 599.02 L155.35 598.87 L155.66 598.71 L155.97 598.54 L156.29 598.36 L156.6 598.18 L156.91 597.99 L157.22 597.8 L157.53 597.6 L157.84 597.41 L158.15 597.21 L158.47 597.02 L158.78 596.82 L159.09 596.63 L159.4 596.45 L159.71 596.28 L160.02 596.11 L160.33 595.95 L160.65 595.8 L160.96 595.67 L161.27 595.55 L161.58 595.44 L161.89 595.35 L162.2 595.27 L162.51 595.22 L162.83 595.18 L163.14 595.16 L163.45 595.17 L163.76 595.19 L164.07 595.24 L164.38 595.3 L164.69 595.39 L165.01 595.5 L165.32 595.64 L165.63 595.79 L165.94 595.97 L166.25 596.17 L166.56 596.4 L166.88 596.64 L167.19 596.9 L167.5 597.19 L167.81 597.49 L168.12 597.81 L168.43 598.14 L168.74 598.49 L169.06 598.86 L169.37 599.24 L169.68 599.63 L169.99 600.03 L170.3 600.43 L170.61 600.85 L170.92 601.26 L171.24 601.69 L171.55 602.11 L171.86 602.53 L172.17 602.95 L172.48 603.37 L172.79 603.78 L173.1 604.18 L173.42 604.57 L173.73 604.95 L174.04 605.32 L174.35 605.68 L174.66 606.02 L174.97 606.34 L175.28 606.64 L175.6 606.92 L175.91 607.18 L176.22 607.42 L176.53 607.64 L176.84 607.83 L177.15 607.99 L177.46 608.13 L177.78 608.25 L178.09 608.33 L178.4 608.39 L178.71 608.42 L179.02 608.42 L179.33 608.4 L179.64 608.35 L179.96 608.27 L180.27 608.16 L180.58 608.03 L180.89 607.87 L181.2 607.69 L181.51 607.48 L181.82 607.25 L182.14 606.99 L182.45 606.72 L182.76 606.43 L183.07 606.11 L183.38 605.78 L183.69 605.44 L184.01 605.08 L184.32 604.71 L184.63 604.32 L184.94 603.93 L185.25 603.53 L185.56 603.12 L185.87 602.71 L186.19 602.29 L186.5 601.87 L186.81 601.45 L187.12 601.04 L187.43 600.62 L187.74 600.21 L188.05 599.81 L188.37 599.41 L188.68 599.02 L188.99 598.64 L189.3 598.27 L189.61 597.9 L189.92 597.56 L190.23 597.22 L190.55 596.9 L190.86 596.59 L191.17 596.29 L191.48 596.01 L191.79 595.75 L192.1 595.5 L192.41 595.26 L192.73 595.04 L193.04 594.84 L193.35 594.65 L193.66 594.47 L193.97 594.31 L194.28 594.16 L194.59 594.02 L194.91 593.89 L195.22 593.78 L195.53 593.67 L195.84 593.57 L196.15 593.48 L196.46 593.4 L196.78 593.33 L197.09 593.25 L197.4 593.19 L197.71 593.12 L198.02 593.06 L198.33 593 L198.64 592.93 L198.96 592.87 L199.27 592.8 L199.58 592.73 L199.89 592.65 L200.2 592.57 L200.51 592.48 L200.82 592.38 L201.14 592.28 L201.45 592.16 L201.76 592.04 L202.07 591.9 L202.38 591.76 L202.69 591.61 L203 591.44 L203.32 591.27 L203.63 591.08 L203.94 590.88 L204.25 590.67 L204.56 590.45 L204.87 590.22 L205.18 589.99 L205.5 589.74 L205.81 589.48 L206.12 589.22 L206.43 588.95 L206.74 588.68 L207.05 588.4 L207.36 588.11 L207.68 587.83 L207.99 587.54 L208.3 587.26 L208.61 586.97 L208.92 586.69 L209.23 586.41 L209.54 586.14 L209.86 585.88 L210.17 585.62 L210.48 585.38 L210.79 585.14 L211.1 584.92 L211.41 584.71 L211.73 584.52 L212.04 584.35 L212.35 584.19 L212.66 584.05 L212.97 583.93 L213.28 583.83 L213.59 583.76 L213.91 583.7 L214.22 583.68 L214.53 583.67 L214.84 583.69 L215.15 583.73 L215.46 583.8 L215.77 583.9 L216.09 584.02 L216.4 584.16 L216.71 584.33 L217.02 584.53 L217.33 584.75 L217.64 584.99 L217.95 585.26 L218.27 585.55 L218.58 585.86 L218.89 586.19 L219.2 586.54" fill="none" stroke="#000" stroke-width="0.85"/>
<path d="M69.7 664.8 L70.01 664.64 L70.32 663.9 L70.63 662.4 L70.95 660.03 L71.26 656.73 L71.57 652.46 L71.88 647.2 L72.19 640.95 L72.5 638.76 L72.81 636.7 L73.13 634.77 L73.44 632.96 L73.75 631.28 L74.06 629.7 L74.37 628.22 L74.68 626.84 L74.99 625.56 L75.31 624.36 L75.62 623.25 L75.93 622.21 L76.24 621.25 L76.55 620.37 L76.86 619.55 L77.17 618.8 L77.49 618.1 L77.8 617.47 L78.11 616.88 L78.42 616.35 L78.73 615.87 L79.04 615.43 L79.36 615.03 L79.67 614.66 L79.98 614.33 L80.29 614.03 L80.6 613.76 L80.91 613.5 L81.22 613.28 L81.54 613.06 L81.85 612.87 L82.16 612.68 L82.47 612.5 L82.78 612.33 L83.09 612.17 L83.4 612 L83.72 611.84 L84.03 611.67 L84.34 611.51 L84.65 611.33 L84.96 611.15 L85.27 610.97 L85.58 610.77 L85.9 610.57 L86.21 610.36 L86.52 610.15 L86.83 609.92 L87.14 609.69 L87.45 609.46 L87.76 609.21 L88.08 608.97 L88.39 608.72 L88.7 608.47 L89.01 608.23 L89.32 607.98 L89.63 607.74 L89.94 607.5 L90.26 607.28 L90.57 607.06 L90.88 606.85 L91.19 606.66 L91.5 606.49 L91.81 606.33 L92.12 606.19 L92.44 606.07 L92.75 605.97 L93.06 605.89 L93.37 605.84 L93.68 605.81 L93.99 605.81 L94.31 605.83 L94.62 605.87 L94.93 605.94 L95.24 606.04 L95.55 606.16 L95.86 606.3 L96.17 606.46 L96.49 606.63 L96.8 606.83 L97.11 607.04 L97.42 607.27 L97.73 607.51 L98.04 607.75 L98.35 608 L98.67 608.26 L98.98 608.51 L99.29 608.77 L99.6 609.01 L99.91 609.25 L100.22 609.48 L100.53 609.69 L100.85 609.88 L101.16 610.06 L101.47 610.21 L101.78 610.34 L102.09 610.44 L102.4 610.51 L102.71 610.55 L103.03 610.56 L103.34 610.53 L103.65 610.47 L103.96 610.38 L104.27 610.24 L104.58 610.08 L104.89 609.87 L105.21 609.64 L105.52 609.37 L105.83 609.06 L106.14 608.73 L106.45 608.36 L106.76 607.97 L107.08 607.56 L107.39 607.12 L107.7 606.66 L108.01 606.19 L108.32 605.7 L108.63 605.2 L108.94 604.7 L109.26 604.2 L109.57 603.69 L109.88 603.19 L110.19 602.7 L110.5 602.23 L110.81 601.76 L111.12 601.32 L111.44 600.9 L111.75 600.5 L112.06 600.14 L112.37 599.8 L112.68 599.5 L112.99 599.23 L113.3 599 L113.62 598.81 L113.93 598.66 L114.24 598.54 L114.55 598.48 L114.86 598.45 L115.17 598.46 L115.48 598.52 L115.8 598.61 L116.11 598.75 L116.42 598.92 L116.73 599.12 L117.04 599.36 L117.35 599.63 L117.66 599.93 L117.98 600.25 L118.29 600.6 L118.6 600.96 L118.91 601.33 L119.22 601.72 L119.53 602.11 L119.84 602.51 L120.16 602.9 L120.47 603.29 L120.78 603.68 L121.09 604.05 L121.4 604.4 L121.71 604.73 L122.03 605.05 L122.34 605.33 L122.65 605.59 L122.96 605.82 L123.27 606.01 L123.58 606.17 L123.89 606.29 L124.21 606.37 L124.52 606.41 L124.83 606.41 L125.14 606.37 L125.45 606.3 L125.76 606.18 L126.07 606.02 L126.39 605.82 L126.7 605.59 L127.01 605.33 L127.32 605.03 L127.63 604.7 L127.94 604.35 L128.25 603.97 L128.57 603.57 L128.88 603.15 L129.19 602.71 L129.5 602.27 L129.81 601.82 L130.12 601.37 L130.43 600.92 L130.75 600.47 L131.06 600.03 L131.37 599.6 L131.68 599.19 L131.99 598.8 L132.3 598.42 L132.61 598.08 L132.93 597.76 L133.24 597.47 L133.55 597.22 L133.86 597 L134.17 596.82 L134.48 596.67 L134.79 596.57 L135.11 596.5 L135.42 596.48 L135.73 596.49 L136.04 596.55 L136.35 596.65 L136.66 596.78 L136.98 596.95 L137.29 597.15 L137.6 597.39 L137.91 597.66 L138.22 597.96 L138.53 598.29 L138.84 598.64 L139.16 599 L139.47 599.39 L139.78 599.79 L140.09 600.2 L140.4 600.61 L140.71 601.03 L141.02 601.45 L141.34 601.87 L141.65 602.27 L141.96 602.67 L142.27 603.05 L142.58 603.42 L142.89 603.76 L143.2 604.08 L143.52 604.38 L143.83 604.65 L144.14 604.89 L144.45 605.1 L144.76 605.27 L145.07 605.42 L145.38 605.52 L145.7 605.59 L146.01 605.63 L146.32 605.62 L146.63 605.58 L146.94 605.51 L147.25 605.4 L147.56 605.26 L147.88 605.09 L148.19 604.88 L148.5 604.65 L148.81 604.39 L149.12 604.11 L149.43 603.8 L149.74 603.48 L150.06 603.13 L150.37 602.78 L150.68 602.41 L150.99 602.03 L151.3 601.65 L151.61 601.26 L151.93 600.87 L152.24 600.49 L152.55 600.11 L152.86 599.73 L153.17 599.37 L153.48 599.02 L153.79 598.68 L154.11 598.36 L154.42 598.06 L154.73 597.77 L155.04 597.51 L155.35 597.27 L155.66 597.05 L155.97 596.85 L156.29 596.68 L156.6 596.53 L156.91 596.4 L157.22 596.3 L157.53 596.22 L157.84 596.17 L158.15 596.14 L158.47 596.12 L158.78 596.13 L159.09 596.15 L159.4 596.2 L159.71 596.25 L160.02 596.33 L160.33 596.41 L160.65 596.5 L160.96 596.61 L161.27 596.72 L161.58 596.83 L161.89 596.95 L162.2 597.08 L162.51 597.2 L162.83 597.32 L163.14 597.43 L163.45 597.54 L163.76 597.65 L164.07 597.75 L164.38 597.84 L164.69 597.92 L165.01 597.99 L165.32 598.05 L165.63 598.09 L165.94 598.13 L166.25 598.15 L166.56 598.16 L166.88 598.15 L167.19 598.14 L167.5 598.11 L167.81 598.06 L168.12 598.01 L168.43 597.94 L168.74 597.86 L169.06 597.78 L169.37 597.68 L169.68 597.57 L169.99 597.46 L170.3 597.34 L170.61 597.21 L170.92 597.07 L171.24 596.94 L171.55 596.79 L171.86 596.65 L172.17 596.5 L172.48 596.36 L172.79 596.21 L173.1 596.06 L173.42 595.92 L173.73 595.77 L174.04 595.63 L174.35 595.49 L174.66 595.36 L174.97 595.23 L175.28 595.1 L175.6 594.98 L175.91 594.86 L176.22 594.74 L176.53 594.63 L176.84 594.53 L177.15 594.43 L177.46 594.33 L177.78 594.24 L178.09 594.15 L178.4 594.07 L178.71 593.99 L179.02 593.91 L179.33 593.84 L179.64 593.77 L179.96 593.7 L180.27 593.64 L180.58 593.58 L180.89 593.52 L181.2 593.47 L181.51 593.41 L181.82 593.36 L182.14 593.31 L182.45 593.27 L182.76 593.23 L183.07 593.19 L183.38 593.15 L183.69 593.12 L184.01 593.09 L184.32 593.07 L184.63 593.05 L184.94 593.04 L185.25 593.03 L185.56 593.03 L185.87 593.03 L186.19 593.04 L186.5 593.06 L186.81 593.09 L187.12 593.12 L187.43 593.17 L187.74 593.22 L188.05 593.28 L188.37 593.35 L188.68 593.43 L188.99 593.52 L189.3 593.61 L189.61 593.72 L189.92 593.84 L190.23 593.96 L190.55 594.09 L190.86 594.23 L191.17 594.38 L191.48 594.53 L191.79 594.68 L192.1 594.84 L192.41 595.01 L192.73 595.18 L193.04 595.34 L193.35 595.51 L193.66 595.68 L193.97 595.84 L194.28 596 L194.59 596.15 L194.91 596.3 L195.22 596.44 L195.53 596.57 L195.84 596.68 L196.15 596.79 L196.46 596.88 L196.78 596.95 L197.09 597.01 L197.4 597.06 L197.71 597.08 L198.02 597.09 L198.33 597.08 L198.64 597.04 L198.96 596.99 L199.27 596.91 L199.58 596.82 L199.89 596.7 L200.2 596.57 L200.51 596.41 L200.82 596.24 L201.14 596.04 L201.45 595.83 L201.76 595.6 L202.07 595.36 L202.38 595.1 L202.69 594.83 L203 594.55 L203.32 594.26 L203.63 593.96 L203.94 593.65 L204.25 593.35 L204.56 593.04 L204.87 592.73 L205.18 592.43 L205.5 592.13 L205.81 591.83 L206.12 591.55 L206.43 591.27 L206.74 591.01 L207.05 590.76 L207.36 590.53 L207.68 590.32 L207.99 590.13 L208.3 589.88 L208.61 589.5 L208.92 589.01 L209.23 588.42 L209.54 587.74 L209.86 586.97 L210.17 586.13 L210.48 585.24 L210.79 584.29 L211.1 583.3 L211.41 582.28 L211.73 581.24 L212.04 580.18 L212.35 579.13 L212.66 578.07 L212.97 577.04 L213.28 576.02 L213.59 575.04 L213.91 574.09 L214.22 573.19 L214.53 572.35 L214.84 571.57 L215.15 570.86 L215.46 570.23 L215.77 569.69 L216.09 569.24 L216.4 568.9 L216.71 568.67 L217.02 568.55 L217.33 568.57 L217.64 568.69 L217.95 568.8 L218.27 568.9 L218.58 568.97 L218.89 569.02 L219.2 569.04" fill="none" stroke="#000" stroke-width="0.85"/>
<path d="M69.7 664.8 L70.01 661.95 L70.32 656.34 L70.63 653.61 L70.95 655.61 L71.26 658.14 L71.57 656.14 L71.88 652.31 L72.19 647.71 L72.5 645.96 L72.81 644.29 L73.13 642.69 L73.44 641.18 L73.75 639.74 L74.06 638.38 L74.37 637.1 L74.68 635.88 L74.99 634.74 L75.31 633.68 L75.62 632.68 L75.93 631.74 L76.24 630.88 L76.55 630.07 L76.86 629.33 L77.17 628.64 L77.49 628.02 L77.8 627.44 L78.11 626.92 L78.42 626.44 L78.73 626.01 L79.04 625.62 L79.36 625.28 L79.67 624.96 L79.98 624.68 L80.29 624.44 L80.6 624.21 L80.91 624.01 L81.22 623.84 L81.54 623.67 L81.85 623.53 L82.16 623.39 L82.47 623.26 L82.78 623.14 L83.09 623.02 L83.4 622.9 L83.72 622.78 L84.03 622.65 L84.34 622.52 L84.65 622.38 L84.96 622.22 L85.27 622.06 L85.58 621.88 L85.9 621.68 L86.21 621.47 L86.52 621.25 L86.83 621 L87.14 620.74 L87.45 620.45 L87.76 620.15 L88.08 619.84 L88.39 619.5 L88.7 619.15 L89.01 618.77 L89.32 618.39 L89.63 617.99 L89.94 617.57 L90.26 617.14 L90.57 616.71 L90.88 616.26 L91.19 615.8 L91.5 615.34 L91.81 614.87 L92.12 614.41 L92.44 613.94 L92.75 613.47 L93.06 613.01 L93.37 612.55 L93.68 612.1 L93.99 611.66 L94.31 611.23 L94.62 610.82 L94.93 610.42 L95.24 610.03 L95.55 609.67 L95.86 609.33 L96.17 609 L96.49 608.71 L96.8 608.43 L97.11 608.18 L97.42 607.96 L97.73 607.76 L98.04 607.59 L98.35 607.45 L98.67 607.34 L98.98 607.26 L99.29 607.2 L99.6 607.18 L99.91 607.18 L100.22 607.21 L100.53 607.26 L100.85 607.34 L101.16 607.45 L101.47 607.58 L101.78 607.73 L102.09 607.91 L102.4 608.1 L102.71 608.31 L103.03 608.54 L103.34 608.79 L103.65 609.04 L103.96 609.31 L104.27 609.58 L104.58 609.87 L104.89 610.15 L105.21 610.44 L105.52 610.74 L105.83 611.03 L106.14 611.31 L106.45 611.59 L106.76 611.87 L107.08 612.13 L107.39 612.39 L107.7 612.63 L108.01 612.86 L108.32 613.07 L108.63 613.26 L108.94 613.44 L109.26 613.59 L109.57 613.73 L109.88 613.84 L110.19 613.93 L110.5 614 L110.81 614.05 L111.12 614.07 L111.44 614.07 L111.75 614.04 L112.06 613.99 L112.37 613.91 L112.68 613.82 L112.99 613.7 L113.3 613.55 L113.62 613.39 L113.93 613.21 L114.24 613.01 L114.55 612.79 L114.86 612.56 L115.17 612.31 L115.48 612.04 L115.8 611.77 L116.11 611.48 L116.42 611.19 L116.73 610.89 L117.04 610.59 L117.35 610.28 L117.66 609.97 L117.98 609.66 L118.29 609.36 L118.6 609.05 L118.91 608.76 L119.22 608.47 L119.53 608.19 L119.84 607.92 L120.16 607.66 L120.47 607.42 L120.78 607.19 L121.09 606.98 L121.4 606.78 L121.71 606.6 L122.03 606.44 L122.34 606.3 L122.65 606.18 L122.96 606.08 L123.27 606 L123.58 605.94 L123.89 605.9 L124.21 605.88 L124.52 605.88 L124.83 605.9 L125.14 605.93 L125.45 605.99 L125.76 606.06 L126.07 606.15 L126.39 606.26 L126.7 606.37 L127.01 606.5 L127.32 606.65 L127.63 606.8 L127.94 606.96 L128.25 607.12 L128.57 607.3 L128.88 607.47 L129.19 607.65 L129.5 607.82 L129.81 608 L130.12 608.17 L130.43 608.33 L130.75 608.49 L131.06 608.64 L131.37 608.78 L131.68 608.9 L131.99 609.02 L132.3 609.12 L132.61 609.2 L132.93 609.26 L133.24 609.31 L133.55 609.34 L133.86 609.34 L134.17 609.33 L134.48 609.29 L134.79 609.23 L135.11 609.15 L135.42 609.05 L135.73 608.92 L136.04 608.77 L136.35 608.6 L136.66 608.4 L136.98 608.19 L137.29 607.95 L137.6 607.69 L137.91 607.41 L138.22 607.11 L138.53 606.8 L138.84 606.47 L139.16 606.12 L139.47 605.76 L139.78 605.39 L140.09 605.01 L140.4 604.62 L140.71 604.22 L141.02 603.81 L141.34 603.4 L141.65 602.99 L141.96 602.58 L142.27 602.17 L142.58 601.77 L142.89 601.37 L143.2 600.97 L143.52 600.59 L143.83 600.22 L144.14 599.85 L144.45 599.51 L144.76 599.17 L145.07 598.86 L145.38 598.56 L145.7 598.28 L146.01 598.02 L146.32 597.78 L146.63 597.56 L146.94 597.36 L147.25 597.19 L147.56 597.04 L147.88 596.92 L148.19 596.82 L148.5 596.74 L148.81 596.69 L149.12 596.66 L149.43 596.66 L149.74 596.68 L150.06 596.72 L150.37 596.78 L150.68 596.87 L150.99 596.97 L151.3 597.1 L151.61 597.24 L151.93 597.4 L152.24 597.57 L152.55 597.76 L152.86 597.96 L153.17 598.17 L153.48 598.39 L153.79 598.62 L154.11 598.85 L154.42 599.09 L154.73 599.34 L155.04 599.58 L155.35 599.82 L155.66 600.07 L155.97 600.31 L156.29 600.54 L156.6 600.77 L156.91 600.99 L157.22 601.2 L157.53 601.4 L157.84 601.59 L158.15 601.77 L158.47 601.93 L158.78 602.08 L159.09 602.21 L159.4 602.33 L159.71 602.43 L160.02 602.52 L160.33 602.58 L160.65 602.63 L160.96 602.67 L161.27 602.68 L161.58 602.68 L161.89 602.66 L162.2 602.62 L162.51 602.57 L162.83 602.5 L163.14 602.42 L163.45 602.32 L163.76 602.21 L164.07 602.09 L164.38 601.96 L164.69 601.81 L165.01 601.66 L165.32 601.5 L165.63 601.33 L165.94 601.15 L166.25 600.97 L166.56 600.79 L166.88 600.61 L167.19 600.42 L167.5 600.24 L167.81 600.06 L168.12 599.88 L168.43 599.71 L168.74 599.54 L169.06 599.38 L169.37 599.23 L169.68 599.08 L169.99 598.95 L170.3 598.82 L170.61 598.71 L170.92 598.6 L171.24 598.51 L171.55 598.44 L171.86 598.37 L172.17 598.32 L172.48 598.28 L172.79 598.26 L173.1 598.24 L173.42 598.24 L173.73 598.26 L174.04 598.28 L174.35 598.32 L174.66 598.37 L174.97 598.43 L175.28 598.49 L175.6 598.57 L175.91 598.66 L176.22 598.75 L176.53 598.84 L176.84 598.95 L177.15 599.05 L177.46 599.16 L177.78 599.27 L178.09 599.37 L178.4 599.48 L178.71 599.58 L179.02 599.68 L179.33 599.78 L179.64 599.86 L179.96 599.94 L180.27 600.01 L180.58 600.07 L180.89 600.12 L181.2 600.16 L181.51 600.18 L181.82 600.19 L182.14 600.19 L182.45 600.16 L182.76 600.13 L183.07 600.07 L183.38 600 L183.69 599.91 L184.01 599.8 L184.32 599.67 L184.63 599.53 L184.94 599.36 L185.25 599.18 L185.56 598.98 L185.87 598.77 L186.19 598.53 L186.5 598.28 L186.81 598.02 L187.12 597.74 L187.43 597.44 L187.74 597.14 L188.05 596.82 L188.37 596.49 L188.68 596.15 L188.99 595.8 L189.3 595.44 L189.61 595.08 L189.92 594.71 L190.23 594.35 L190.55 593.97 L190.86 593.6 L191.17 593.23 L191.48 592.86 L191.79 592.5 L192.1 592.14 L192.41 591.78 L192.73 591.44 L193.04 591.1 L193.35 590.77 L193.66 590.46 L193.97 590.15 L194.28 589.86 L194.59 589.59 L194.91 589.33 L195.22 589.08 L195.53 588.86 L195.84 588.65 L196.15 588.45 L196.46 588.28 L196.78 588.12 L197.09 587.99 L197.4 587.87 L197.71 587.77 L198.02 587.69 L198.33 587.62 L198.64 587.58 L198.96 587.55 L199.27 587.54 L199.58 587.55 L199.89 587.57 L200.2 587.61 L200.51 587.66 L200.82 587.73 L201.14 587.81 L201.45 587.9 L201.76 588 L202.07 588.12 L202.38 588.24 L202.69 588.37 L203 588.5 L203.32 588.64 L203.63 588.78 L203.94 588.93 L204.25 589.08 L204.56 589.23 L204.87 589.38 L205.18 589.53 L205.5 589.67 L205.81 589.82 L206.12 589.95 L206.43 590.09 L206.74 590.21 L207.05 590.33 L207.36 590.44 L207.68 590.55 L207.99 590.64 L208.3 590.73 L208.61 590.81 L208.92 590.88 L209.23 590.93 L209.54 590.98 L209.86 591.02 L210.17 591.05 L210.48 591.06 L210.79 591.07 L211.1 591.07 L211.41 591.06 L211.73 591.04 L212.04 591.01 L212.35 590.97 L212.66 590.93 L212.97 590.88 L213.28 590.82 L213.59 590.76 L213.91 590.7 L214.22 590.63 L214.53 590.55 L214.84 590.48 L215.15 590.4 L215.46 590.32 L215.77 590.25 L216.09 590.17 L216.4 590.09 L216.71 590.02 L217.02 589.95 L217.33 589.89 L217.64 589.83 L217.95 589.77 L218.27 589.72 L218.58 589.68 L218.89 589.64 L219.2 589.61" fill="none" stroke="#000" stroke-width="0.85"/>
<path d="M69.7 664.8 L70.01 664.61 L70.32 663.78 L70.63 662.06 L70.95 659.36 L71.26 655.58 L71.57 650.67 L71.88 644.63 L72.19 637.42 L72.5 634.84 L72.81 632.41 L73.13 630.11 L73.44 627.93 L73.75 625.88 L74.06 623.93 L74.37 622.08 L74.68 620.34 L74.99 618.68 L75.31 617.12 L75.62 615.64 L75.93 614.25 L76.24 612.93 L76.55 611.69 L76.86 610.52 L77.17 609.43 L77.49 608.41 L77.8 607.45 L78.11 606.57 L78.42 605.75 L78.73 604.99 L79.04 604.3 L79.36 603.68 L79.67 603.11 L79.98 602.6 L80.29 602.16 L80.6 601.77 L80.91 601.44 L81.22 601.16 L81.54 600.93 L81.85 600.76 L82.16 600.64 L82.47 600.56 L82.78 600.53 L83.09 600.54 L83.4 600.6 L83.72 600.69 L84.03 600.82 L84.34 600.99 L84.65 601.18 L84.96 601.4 L85.27 601.65 L85.58 601.93 L85.9 602.22 L86.21 602.53 L86.52 602.85 L86.83 603.18 L87.14 603.52 L87.45 603.87 L87.76 604.22 L88.08 604.57 L88.39 604.91 L88.7 605.25 L89.01 605.58 L89.32 605.89 L89.63 606.2 L89.94 606.48 L90.26 606.75 L90.57 606.99 L90.88 607.22 L91.19 607.42 L91.5 607.59 L91.81 607.73 L92.12 607.85 L92.44 607.93 L92.75 607.99 L93.06 608.01 L93.37 608 L93.68 607.96 L93.99 607.89 L94.31 607.79 L94.62 607.65 L94.93 607.48 L95.24 607.28 L95.55 607.06 L95.86 606.8 L96.17 606.52 L96.49 606.21 L96.8 605.88 L97.11 605.52 L97.42 605.15 L97.73 604.75 L98.04 604.34 L98.35 603.92 L98.67 603.48 L98.98 603.04 L99.29 602.58 L99.6 602.13 L99.91 601.67 L100.22 601.21 L100.53 600.75 L100.85 600.3 L101.16 599.85 L101.47 599.42 L101.78 598.99 L102.09 598.59 L102.4 598.19 L102.71 597.82 L103.03 597.47 L103.34 597.14 L103.65 596.84 L103.96 596.56 L104.27 596.31 L104.58 596.08 L104.89 595.89 L105.21 595.73 L105.52 595.59 L105.83 595.49 L106.14 595.43 L106.45 595.39 L106.76 595.39 L107.08 595.42 L107.39 595.48 L107.7 595.57 L108.01 595.7 L108.32 595.85 L108.63 596.03 L108.94 596.24 L109.26 596.47 L109.57 596.73 L109.88 597.02 L110.19 597.32 L110.5 597.64 L110.81 597.98 L111.12 598.34 L111.44 598.71 L111.75 599.08 L112.06 599.47 L112.37 599.86 L112.68 600.26 L112.99 600.65 L113.3 601.04 L113.62 601.43 L113.93 601.82 L114.24 602.19 L114.55 602.55 L114.86 602.9 L115.17 603.24 L115.48 603.55 L115.8 603.85 L116.11 604.12 L116.42 604.37 L116.73 604.6 L117.04 604.79 L117.35 604.96 L117.66 605.1 L117.98 605.21 L118.29 605.29 L118.6 605.34 L118.91 605.35 L119.22 605.34 L119.53 605.29 L119.84 605.2 L120.16 605.09 L120.47 604.94 L120.78 604.76 L121.09 604.55 L121.4 604.3 L121.71 604.03 L122.03 603.74 L122.34 603.41 L122.65 603.06 L122.96 602.69 L123.27 602.3 L123.58 601.89 L123.89 601.46 L124.21 601.01 L124.52 600.55 L124.83 600.08 L125.14 599.61 L125.45 599.12 L125.76 598.64 L126.07 598.15 L126.39 597.66 L126.7 597.18 L127.01 596.71 L127.32 596.24 L127.63 595.78 L127.94 595.34 L128.25 594.91 L128.57 594.49 L128.88 594.1 L129.19 593.73 L129.5 593.38 L129.81 593.06 L130.12 592.76 L130.43 592.49 L130.75 592.25 L131.06 592.04 L131.37 591.86 L131.68 591.71 L131.99 591.59 L132.3 591.5 L132.61 591.45 L132.93 591.43 L133.24 591.44 L133.55 591.48 L133.86 591.56 L134.17 591.67 L134.48 591.8 L134.79 591.97 L135.11 592.17 L135.42 592.39 L135.73 592.64 L136.04 592.91 L136.35 593.2 L136.66 593.52 L136.98 593.85 L137.29 594.2 L137.6 594.57 L137.91 594.95 L138.22 595.34 L138.53 595.73 L138.84 596.14 L139.16 596.55 L139.47 596.96 L139.78 597.37 L140.09 597.78 L140.4 598.18 L140.71 598.58 L141.02 598.97 L141.34 599.35 L141.65 599.71 L141.96 600.06 L142.27 600.4 L142.58 600.71 L142.89 601.01 L143.2 601.29 L143.52 601.54 L143.83 601.78 L144.14 601.98 L144.45 602.17 L144.76 602.32 L145.07 602.45 L145.38 602.56 L145.7 602.64 L146.01 602.69 L146.32 602.71 L146.63 602.71 L146.94 602.68 L147.25 602.62 L147.56 602.54 L147.88 602.44 L148.19 602.31 L148.5 602.16 L148.81 601.99 L149.12 601.79 L149.43 601.58 L149.74 601.35 L150.06 601.11 L150.37 600.85 L150.68 600.58 L150.99 600.29 L151.3 600 L151.61 599.7 L151.93 599.4 L152.24 599.09 L152.55 598.77 L152.86 598.46 L153.17 598.15 L153.48 597.84 L153.79 597.53 L154.11 597.24 L154.42 596.95 L154.73 596.66 L155.04 596.39 L155.35 596.13 L155.66 595.88 L155.97 595.65 L156.29 595.43 L156.6 595.23 L156.91 595.05 L157.22 594.88 L157.53 594.72 L157.84 594.59 L158.15 594.48 L158.47 594.38 L158.78 594.3 L159.09 594.24 L159.4 594.2 L159.71 594.17 L160.02 594.16 L160.33 594.17 L160.65 594.2 L160.96 594.23 L161.27 594.29 L161.58 594.35 L161.89 594.43 L162.2 594.52 L162.51 594.61 L162.83 594.72 L163.14 594.83 L163.45 594.95 L163.76 595.07 L164.07 595.2 L164.38 595.32 L164.69 595.45 L165.01 595.57 L165.32 595.69 L165.63 595.81 L165.94 595.92 L166.25 596.03 L166.56 596.12 L166.88 596.21 L167.19 596.29 L167.5 596.35 L167.81 596.41 L168.12 596.45 L168.43 596.48 L168.74 596.49 L169.06 596.49 L169.37 596.47 L169.68 596.44 L169.99 596.39 L170.3 596.33 L170.61 596.25 L170.92 596.16 L171.24 596.05 L171.55 595.92 L171.86 595.79 L172.17 595.64 L172.48 595.47 L172.79 595.3 L173.1 595.11 L173.42 594.92 L173.73 594.72 L174.04 594.5 L174.35 594.29 L174.66 594.06 L174.97 593.84 L175.28 593.61 L175.6 593.38 L175.91 593.15 L176.22 592.93 L176.53 592.71 L176.84 592.49 L177.15 592.28 L177.46 592.08 L177.78 591.89 L178.09 591.7 L178.4 591.53 L178.71 591.38 L179.02 591.23 L179.33 591.11 L179.64 591 L179.96 590.9 L180.27 590.83 L180.58 590.77 L180.89 590.74 L181.2 590.72 L181.51 590.72 L181.82 590.75 L182.14 590.79 L182.45 590.85 L182.76 590.94 L183.07 591.04 L183.38 591.17 L183.69 591.31 L184.01 591.47 L184.32 591.65 L184.63 591.85 L184.94 592.06 L185.25 592.28 L185.56 592.52 L185.87 592.77 L186.19 593.03 L186.5 593.3 L186.81 593.58 L187.12 593.87 L187.43 594.15 L187.74 594.44 L188.05 594.74 L188.37 595.03 L188.68 595.32 L188.99 595.6 L189.3 595.88 L189.61 596.15 L189.92 596.41 L190.23 596.66 L190.55 596.9 L190.86 597.12 L191.17 597.33 L191.48 597.52 L191.79 597.69 L192.1 597.84 L192.41 597.97 L192.73 598.08 L193.04 598.17 L193.35 598.23 L193.66 598.27 L193.97 598.29 L194.28 598.28 L194.59 598.25 L194.91 598.19 L195.22 598.11 L195.53 598 L195.84 597.87 L196.15 597.72 L196.46 597.54 L196.78 597.34 L197.09 597.12 L197.4 596.88 L197.71 596.62 L198.02 596.34 L198.33 596.04 L198.64 595.74 L198.96 595.41 L199.27 595.08 L199.58 594.74 L199.89 594.39 L200.2 594.03 L200.51 593.67 L200.82 593.3 L201.14 592.94 L201.45 592.57 L201.76 592.21 L202.07 591.86 L202.38 591.51 L202.69 591.18 L203 590.85 L203.32 590.53 L203.63 590.23 L203.94 589.95 L204.25 589.68 L204.56 589.44 L204.87 589.21 L205.18 589.01 L205.5 588.82 L205.81 588.66 L206.12 588.53 L206.43 588.42 L206.74 588.34 L207.05 588.28 L207.36 588.24 L207.68 588.24 L207.99 588.26 L208.3 588.3 L208.61 588.37 L208.92 588.47 L209.23 588.59 L209.54 588.73 L209.86 588.9 L210.17 589.09 L210.48 589.29 L210.79 589.52 L211.1 589.76 L211.41 590.02 L211.73 590.29 L212.04 590.57 L212.35 590.86 L212.66 591.16 L212.97 591.47 L213.28 591.78 L213.59 592.09 L213.91 592.41 L214.22 592.72 L214.53 593.02 L214.84 593.32 L215.15 593.61 L215.46 593.89 L215.77 594.16 L216.09 594.41 L216.4 594.64 L216.71 594.86 L217.02 595.06 L217.33 595.24 L217.64 595.39 L217.95 595.52 L218.27 595.63 L218.58 595.71 L218.89 595.76 L219.2 595.78" fill="none" stroke="#000" stroke-width="0.85"/>
<path d="M69.7 664.8 L70.01 664.66 L70.32 664.03 L70.63 662.76 L70.95 660.73 L71.26 657.92 L71.57 654.28 L71.88 649.81 L72.19 644.52 L72.5 642.7 L72.81 641.01 L73.13 639.44 L73.44 638 L73.75 636.66 L74.06 635.43 L74.37 634.3 L74.68 633.26 L74.99 632.31 L75.31 631.43 L75.62 630.62 L75.93 629.88 L76.24 629.2 L76.55 628.57 L76.86 627.99 L77.17 627.45 L77.49 626.94 L77.8 626.47 L78.11 626.02 L78.42 625.59 L78.73 625.18 L79.04 624.78 L79.36 624.4 L79.67 624.02 L79.98 623.64 L80.29 623.27 L80.6 622.9 L80.91 622.52 L81.22 622.14 L81.54 621.76 L81.85 621.37 L82.16 620.98 L82.47 620.59 L82.78 620.19 L83.09 619.78 L83.4 619.37 L83.72 618.96 L84.03 618.55 L84.34 618.14 L84.65 617.74 L84.96 617.33 L85.27 616.93 L85.58 616.54 L85.9 616.16 L86.21 615.79 L86.52 615.44 L86.83 615.1 L87.14 614.77 L87.45 614.46 L87.76 614.17 L88.08 613.91 L88.39 613.66 L88.7 613.43 L89.01 613.23 L89.32 613.05 L89.63 612.89 L89.94 612.76 L90.26 612.65 L90.57 612.56 L90.88 612.5 L91.19 612.45 L91.5 612.42 L91.81 612.41 L92.12 612.42 L92.44 612.44 L92.75 612.48 L93.06 612.52 L93.37 612.58 L93.68 612.64 L93.99 612.7 L94.31 612.77 L94.62 612.83 L94.93 612.9 L95.24 612.95 L95.55 613 L95.86 613.04 L96.17 613.07 L96.49 613.08 L96.8 613.08 L97.11 613.06 L97.42 613.03 L97.73 612.97 L98.04 612.89 L98.35 612.79 L98.67 612.67 L98.98 612.52 L99.29 612.35 L99.6 612.16 L99.91 611.95 L100.22 611.72 L100.53 611.47 L100.85 611.19 L101.16 610.9 L101.47 610.6 L101.78 610.27 L102.09 609.94 L102.4 609.6 L102.71 609.24 L103.03 608.89 L103.34 608.53 L103.65 608.16 L103.96 607.8 L104.27 607.45 L104.58 607.1 L104.89 606.76 L105.21 606.43 L105.52 606.12 L105.83 605.82 L106.14 605.54 L106.45 605.28 L106.76 605.05 L107.08 604.83 L107.39 604.65 L107.7 604.49 L108.01 604.35 L108.32 604.25 L108.63 604.17 L108.94 604.12 L109.26 604.11 L109.57 604.11 L109.88 604.15 L110.19 604.21 L110.5 604.3 L110.81 604.42 L111.12 604.55 L111.44 604.71 L111.75 604.89 L112.06 605.08 L112.37 605.29 L112.68 605.51 L112.99 605.74 L113.3 605.98 L113.62 606.23 L113.93 606.48 L114.24 606.72 L114.55 606.97 L114.86 607.2 L115.17 607.44 L115.48 607.66 L115.8 607.87 L116.11 608.06 L116.42 608.24 L116.73 608.4 L117.04 608.54 L117.35 608.66 L117.66 608.75 L117.98 608.83 L118.29 608.88 L118.6 608.9 L118.91 608.91 L119.22 608.89 L119.53 608.84 L119.84 608.77 L120.16 608.68 L120.47 608.57 L120.78 608.44 L121.09 608.29 L121.4 608.13 L121.71 607.95 L122.03 607.75 L122.34 607.55 L122.65 607.34 L122.96 607.12 L123.27 606.89 L123.58 606.67 L123.89 606.45 L124.21 606.23 L124.52 606.02 L124.83 605.81 L125.14 605.62 L125.45 605.43 L125.76 605.26 L126.07 605.11 L126.39 604.97 L126.7 604.86 L127.01 604.76 L127.32 604.68 L127.63 604.63 L127.94 604.6 L128.25 604.59 L128.57 604.6 L128.88 604.64 L129.19 604.69 L129.5 604.77 L129.81 604.87 L130.12 604.98 L130.43 605.12 L130.75 605.27 L131.06 605.43 L131.37 605.61 L131.68 605.79 L131.99 605.99 L132.3 606.19 L132.61 606.39 L132.93 606.6 L133.24 606.8 L133.55 607 L133.86 607.19 L134.17 607.37 L134.48 607.55 L134.79 607.71 L135.11 607.85 L135.42 607.98 L135.73 608.08 L136.04 608.17 L136.35 608.23 L136.66 608.27 L136.98 608.29 L137.29 608.28 L137.6 608.25 L137.91 608.19 L138.22 608.1 L138.53 607.99 L138.84 607.85 L139.16 607.69 L139.47 607.51 L139.78 607.3 L140.09 607.08 L140.4 606.83 L140.71 606.57 L141.02 606.29 L141.34 606 L141.65 605.7 L141.96 605.39 L142.27 605.07 L142.58 604.75 L142.89 604.43 L143.2 604.12 L143.52 603.8 L143.83 603.5 L144.14 603.2 L144.45 602.91 L144.76 602.64 L145.07 602.39 L145.38 602.15 L145.7 601.94 L146.01 601.74 L146.32 601.57 L146.63 601.42 L146.94 601.3 L147.25 601.2 L147.56 601.13 L147.88 601.09 L148.19 601.07 L148.5 601.08 L148.81 601.11 L149.12 601.17 L149.43 601.25 L149.74 601.35 L150.06 601.48 L150.37 601.62 L150.68 601.78 L150.99 601.95 L151.3 602.14 L151.61 602.34 L151.93 602.55 L152.24 602.76 L152.55 602.97 L152.86 603.19 L153.17 603.4 L153.48 603.61 L153.79 603.82 L154.11 604.01 L154.42 604.19 L154.73 604.36 L155.04 604.51 L155.35 604.65 L155.66 604.76 L155.97 604.86 L156.29 604.93 L156.6 604.98 L156.91 605.01 L157.22 605.01 L157.53 604.98 L157.84 604.94 L158.15 604.87 L158.47 604.77 L158.78 604.65 L159.09 604.51 L159.4 604.35 L159.71 604.17 L160.02 603.97 L160.33 603.75 L160.65 603.52 L160.96 603.28 L161.27 603.02 L161.58 602.76 L161.89 602.49 L162.2 602.22 L162.51 601.95 L162.83 601.68 L163.14 601.41 L163.45 601.15 L163.76 600.89 L164.07 600.65 L164.38 600.42 L164.69 600.21 L165.01 600.01 L165.32 599.82 L165.63 599.66 L165.94 599.52 L166.25 599.4 L166.56 599.3 L166.88 599.22 L167.19 599.16 L167.5 599.13 L167.81 599.12 L168.12 599.13 L168.43 599.16 L168.74 599.21 L169.06 599.28 L169.37 599.36 L169.68 599.46 L169.99 599.58 L170.3 599.7 L170.61 599.84 L170.92 599.98 L171.24 600.13 L171.55 600.28 L171.86 600.44 L172.17 600.58 L172.48 600.73 L172.79 600.87 L173.1 600.99 L173.42 601.11 L173.73 601.21 L174.04 601.3 L174.35 601.37 L174.66 601.42 L174.97 601.44 L175.28 601.45 L175.6 601.43 L175.91 601.39 L176.22 601.32 L176.53 601.22 L176.84 601.1 L177.15 600.95 L177.46 600.78 L177.78 600.59 L178.09 600.36 L178.4 600.12 L178.71 599.85 L179.02 599.57 L179.33 599.26 L179.64 598.94 L179.96 598.61 L180.27 598.26 L180.58 597.9 L180.89 597.54 L181.2 597.17 L181.51 596.79 L181.82 596.42 L182.14 596.05 L182.45 595.69 L182.76 595.34 L183.07 594.99 L183.38 594.66 L183.69 594.35 L184.01 594.05 L184.32 593.77 L184.63 593.52 L184.94 593.28 L185.25 593.08 L185.56 592.9 L185.87 592.74 L186.19 592.61 L186.5 592.52 L186.81 592.44 L187.12 592.4 L187.43 592.39 L187.74 592.4 L188.05 592.44 L188.37 592.51 L188.68 592.6 L188.99 592.71 L189.3 592.85 L189.61 593 L189.92 593.17 L190.23 593.36 L190.55 593.56 L190.86 593.77 L191.17 593.99 L191.48 594.21 L191.79 594.44 L192.1 594.67 L192.41 594.9 L192.73 595.12 L193.04 595.34 L193.35 595.55 L193.66 595.75 L193.97 595.93 L194.28 596.11 L194.59 596.26 L194.91 596.4 L195.22 596.52 L195.53 596.62 L195.84 596.7 L196.15 596.76 L196.46 596.8 L196.78 596.82 L197.09 596.82 L197.4 596.8 L197.71 596.76 L198.02 596.7 L198.33 596.62 L198.64 596.53 L198.96 596.42 L199.27 596.3 L199.58 596.16 L199.89 596.02 L200.2 595.88 L200.51 595.72 L200.82 595.57 L201.14 595.41 L201.45 595.26 L201.76 595.11 L202.07 594.97 L202.38 594.84 L202.69 594.72 L203 594.61 L203.32 594.51 L203.63 594.44 L203.94 594.38 L204.25 594.34 L204.56 594.32 L204.87 594.32 L205.18 594.35 L205.5 594.39 L205.81 594.47 L206.12 594.56 L206.43 594.68 L206.74 594.82 L207.05 594.98 L207.36 595.16 L207.68 595.36 L207.99 595.58 L208.3 595.81 L208.61 596.06 L208.92 596.32 L209.23 596.6 L209.54 596.87 L209.86 597.16 L210.17 597.45 L210.48 597.74 L210.79 598.02 L211.1 598.3 L211.41 598.58 L211.73 598.84 L212.04 599.09 L212.35 599.32 L212.66 599.54 L212.97 599.74 L213.28 599.91 L213.59 600.06 L213.91 600.19 L214.22 600.29 L214.53 600.36 L214.84 600.4 L215.15 600.41 L215.46 600.39 L215.77 600.34 L216.09 600.26 L216.4 600.15 L216.71 600 L217.02 599.83 L217.33 599.63 L217.64 599.4 L217.95 599.15 L218.27 598.87 L218.58 598.57 L218.89 598.25 L219.2 597.91" fill="none" stroke="#000" stroke-width="0.85"/>
<path d="M69.7 664.8 L70.01 664.67 L70.32 664.11 L70.63 662.92 L70.95 661.02 L71.26 658.32 L71.57 654.77 L71.88 650.32 L72.19 644.94 L72.5 642.86 L72.81 640.85 L73.13 638.92 L73.44 637.06 L73.75 635.28 L74.06 633.57 L74.37 631.93 L74.68 630.36 L74.99 628.87 L75.31 627.44 L75.62 626.09 L75.93 624.81 L76.24 623.6 L76.55 622.46 L76.86 621.39 L77.17 620.39 L77.49 619.47 L77.8 618.61 L78.11 617.82 L78.42 617.1 L78.73 616.45 L79.04 615.86 L79.36 615.34 L79.67 614.88 L79.98 614.48 L80.29 614.15 L80.6 613.87 L80.91 613.65 L81.22 613.48 L81.54 613.36 L81.85 613.29 L82.16 613.27 L82.47 613.29 L82.78 613.35 L83.09 613.44 L83.4 613.57 L83.72 613.72 L84.03 613.91 L84.34 614.11 L84.65 614.33 L84.96 614.57 L85.27 614.83 L85.58 615.09 L85.9 615.35 L86.21 615.62 L86.52 615.88 L86.83 616.15 L87.14 616.4 L87.45 616.64 L87.76 616.87 L88.08 617.09 L88.39 617.29 L88.7 617.46 L89.01 617.62 L89.32 617.75 L89.63 617.85 L89.94 617.93 L90.26 617.98 L90.57 618 L90.88 618 L91.19 617.96 L91.5 617.89 L91.81 617.79 L92.12 617.67 L92.44 617.51 L92.75 617.32 L93.06 617.11 L93.37 616.87 L93.68 616.61 L93.99 616.32 L94.31 616.01 L94.62 615.68 L94.93 615.33 L95.24 614.96 L95.55 614.58 L95.86 614.19 L96.17 613.79 L96.49 613.38 L96.8 612.97 L97.11 612.55 L97.42 612.14 L97.73 611.72 L98.04 611.32 L98.35 610.91 L98.67 610.52 L98.98 610.14 L99.29 609.77 L99.6 609.42 L99.91 609.09 L100.22 608.77 L100.53 608.48 L100.85 608.21 L101.16 607.96 L101.47 607.73 L101.78 607.54 L102.09 607.36 L102.4 607.22 L102.71 607.1 L103.03 607.01 L103.34 606.94 L103.65 606.91 L103.96 606.9 L104.27 606.91 L104.58 606.95 L104.89 607.02 L105.21 607.11 L105.52 607.21 L105.83 607.34 L106.14 607.49 L106.45 607.65 L106.76 607.83 L107.08 608.02 L107.39 608.22 L107.7 608.43 L108.01 608.65 L108.32 608.87 L108.63 609.09 L108.94 609.31 L109.26 609.53 L109.57 609.74 L109.88 609.94 L110.19 610.13 L110.5 610.31 L110.81 610.48 L111.12 610.63 L111.44 610.75 L111.75 610.86 L112.06 610.95 L112.37 611.01 L112.68 611.05 L112.99 611.06 L113.3 611.04 L113.62 611 L113.93 610.92 L114.24 610.82 L114.55 610.68 L114.86 610.52 L115.17 610.32 L115.48 610.1 L115.8 609.84 L116.11 609.56 L116.42 609.25 L116.73 608.91 L117.04 608.55 L117.35 608.16 L117.66 607.75 L117.98 607.32 L118.29 606.86 L118.6 606.4 L118.91 605.92 L119.22 605.42 L119.53 604.92 L119.84 604.4 L120.16 603.88 L120.47 603.36 L120.78 602.84 L121.09 602.33 L121.4 601.81 L121.71 601.31 L122.03 600.82 L122.34 600.33 L122.65 599.87 L122.96 599.42 L123.27 599 L123.58 598.59 L123.89 598.21 L124.21 597.86 L124.52 597.54 L124.83 597.24 L125.14 596.98 L125.45 596.75 L125.76 596.56 L126.07 596.4 L126.39 596.28 L126.7 596.19 L127.01 596.14 L127.32 596.13 L127.63 596.15 L127.94 596.21 L128.25 596.31 L128.57 596.44 L128.88 596.61 L129.19 596.81 L129.5 597.05 L129.81 597.31 L130.12 597.61 L130.43 597.93 L130.75 598.27 L131.06 598.64 L131.37 599.03 L131.68 599.44 L131.99 599.87 L132.3 600.31 L132.61 600.76 L132.93 601.22 L133.24 601.69 L133.55 602.16 L133.86 602.63 L134.17 603.09 L134.48 603.56 L134.79 604.01 L135.11 604.45 L135.42 604.89 L135.73 605.3 L136.04 605.7 L136.35 606.08 L136.66 606.44 L136.98 606.77 L137.29 607.08 L137.6 607.36 L137.91 607.61 L138.22 607.83 L138.53 608.02 L138.84 608.18 L139.16 608.31 L139.47 608.4 L139.78 608.47 L140.09 608.49 L140.4 608.49 L140.71 608.45 L141.02 608.38 L141.34 608.28 L141.65 608.14 L141.96 607.98 L142.27 607.79 L142.58 607.57 L142.89 607.33 L143.2 607.07 L143.52 606.78 L143.83 606.47 L144.14 606.15 L144.45 605.81 L144.76 605.46 L145.07 605.1 L145.38 604.73 L145.7 604.35 L146.01 603.97 L146.32 603.6 L146.63 603.22 L146.94 602.85 L147.25 602.48 L147.56 602.13 L147.88 601.78 L148.19 601.45 L148.5 601.13 L148.81 600.84 L149.12 600.56 L149.43 600.3 L149.74 600.07 L150.06 599.86 L150.37 599.67 L150.68 599.51 L150.99 599.38 L151.3 599.27 L151.61 599.2 L151.93 599.15 L152.24 599.13 L152.55 599.14 L152.86 599.18 L153.17 599.24 L153.48 599.33 L153.79 599.45 L154.11 599.59 L154.42 599.76 L154.73 599.95 L155.04 600.15 L155.35 600.38 L155.66 600.63 L155.97 600.89 L156.29 601.16 L156.6 601.44 L156.91 601.74 L157.22 602.04 L157.53 602.34 L157.84 602.64 L158.15 602.95 L158.47 603.25 L158.78 603.55 L159.09 603.83 L159.4 604.11 L159.71 604.38 L160.02 604.63 L160.33 604.86 L160.65 605.08 L160.96 605.27 L161.27 605.45 L161.58 605.59 L161.89 605.72 L162.2 605.81 L162.51 605.88 L162.83 605.92 L163.14 605.93 L163.45 605.91 L163.76 605.86 L164.07 605.78 L164.38 605.67 L164.69 605.53 L165.01 605.35 L165.32 605.15 L165.63 604.92 L165.94 604.66 L166.25 604.37 L166.56 604.06 L166.88 603.72 L167.19 603.36 L167.5 602.98 L167.81 602.58 L168.12 602.17 L168.43 601.74 L168.74 601.3 L169.06 600.84 L169.37 600.38 L169.68 599.92 L169.99 599.45 L170.3 598.98 L170.61 598.51 L170.92 598.05 L171.24 597.6 L171.55 597.15 L171.86 596.72 L172.17 596.3 L172.48 595.89 L172.79 595.51 L173.1 595.14 L173.42 594.8 L173.73 594.48 L174.04 594.19 L174.35 593.93 L174.66 593.69 L174.97 593.49 L175.28 593.31 L175.6 593.16 L175.91 593.05 L176.22 592.97 L176.53 592.92 L176.84 592.9 L177.15 592.92 L177.46 592.96 L177.78 593.04 L178.09 593.15 L178.4 593.28 L178.71 593.45 L179.02 593.64 L179.33 593.85 L179.64 594.09 L179.96 594.35 L180.27 594.63 L180.58 594.92 L180.89 595.23 L181.2 595.56 L181.51 595.89 L181.82 596.23 L182.14 596.58 L182.45 596.93 L182.76 597.28 L183.07 597.62 L183.38 597.97 L183.69 598.3 L184.01 598.63 L184.32 598.94 L184.63 599.24 L184.94 599.53 L185.25 599.79 L185.56 600.04 L185.87 600.26 L186.19 600.46 L186.5 600.63 L186.81 600.78 L187.12 600.9 L187.43 600.99 L187.74 601.04 L188.05 601.07 L188.37 601.07 L188.68 601.03 L188.99 600.97 L189.3 600.87 L189.61 600.74 L189.92 600.58 L190.23 600.39 L190.55 600.17 L190.86 599.92 L191.17 599.65 L191.48 599.35 L191.79 599.03 L192.1 598.68 L192.41 598.32 L192.73 597.93 L193.04 597.53 L193.35 597.12 L193.66 596.7 L193.97 596.26 L194.28 595.82 L194.59 595.38 L194.91 594.94 L195.22 594.49 L195.53 594.05 L195.84 593.61 L196.15 593.19 L196.46 592.77 L196.78 592.37 L197.09 591.98 L197.4 591.61 L197.71 591.26 L198.02 590.93 L198.33 590.63 L198.64 590.35 L198.96 590.09 L199.27 589.87 L199.58 589.67 L199.89 589.5 L200.2 589.37 L200.51 589.26 L200.82 589.19 L201.14 589.15 L201.45 589.14 L201.76 589.17 L202.07 589.22 L202.38 589.31 L202.69 589.43 L203 589.58 L203.32 589.75 L203.63 589.95 L203.94 590.18 L204.25 590.44 L204.56 590.71 L204.87 591.01 L205.18 591.33 L205.5 591.66 L205.81 592 L206.12 592.36 L206.43 592.73 L206.74 593.11 L207.05 593.49 L207.36 593.87 L207.68 594.26 L207.99 594.64 L208.3 595.02 L208.61 595.39 L208.92 595.75 L209.23 596.1 L209.54 596.44 L209.86 596.76 L210.17 597.06 L210.48 597.34 L210.79 597.6 L211.1 597.84 L211.41 598.06 L211.73 598.25 L212.04 598.41 L212.35 598.55 L212.66 598.65 L212.97 598.73 L213.28 598.78 L213.59 598.8 L213.91 598.8 L214.22 598.76 L214.53 598.69 L214.84 598.6 L215.15 598.47 L215.46 598.33 L215.77 598.15 L216.09 597.96 L216.4 597.74 L216.71 597.5 L217.02 597.23 L217.33 596.96 L217.64 596.66 L217.95 596.36 L218.27 596.04 L218.58 595.71 L218.89 595.37 L219.2 595.03" fill="none" stroke="#000" stroke-width="0.85"/>
<path d="M69.7 673.53 L70.32 669.76 L70.95 666.18 L71.57 662.78 L72.19 659.54 L72.81 656.46 L73.44 653.53 L74.06 650.74 L74.68 648.09 L75.31 645.56 L75.93 643.17 L76.55 640.88 L77.17 638.71 L77.8 636.65 L78.42 634.68 L79.04 632.81 L79.67 631.04 L80.29 629.35 L80.91 627.74 L81.54 626.21 L82.16 624.75 L82.78 623.37 L83.4 622.05 L84.03 620.8 L84.65 619.61 L85.27 618.47 L85.9 617.39 L86.52 616.37 L87.14 615.39 L87.76 614.47 L88.39 613.58 L89.01 612.74 L89.63 611.94 L90.26 611.18 L90.88 610.46 L91.5 609.77 L92.12 609.12 L92.75 608.5 L93.37 607.91 L93.99 607.34 L94.62 606.81 L95.24 606.3 L95.86 605.81 L96.49 605.35 L97.11 604.92 L97.73 604.5 L98.35 604.1 L98.98 603.72 L99.6 603.37 L100.22 603.02 L100.85 602.7 L101.47 602.39 L102.09 602.1 L102.71 601.82 L103.34 601.55 L103.96 601.3 L104.58 601.06 L105.21 600.83 L105.83 600.61 L106.45 600.4 L107.08 600.21 L107.7 600.02 L108.32 599.84 L108.94 599.67 L109.57 599.51 L110.19 599.36 L110.81 599.21 L111.44 599.07 L112.06 598.94 L112.68 598.82 L113.3 598.7 L113.93 598.58 L114.55 598.47 L115.17 598.37 L115.8 598.27 L116.42 598.18 L117.04 598.09 L117.66 598.01 L118.29 597.93 L118.91 597.85 L119.53 597.78 L120.16 597.71 L120.78 597.65 L121.4 597.58 L122.03 597.52 L122.65 597.47 L123.27 597.41 L123.89 597.36 L124.52 597.31 L125.14 597.27 L125.76 597.22 L126.39 597.18 L127.01 597.14 L127.63 597.1 L128.25 597.07 L128.88 597.03 L129.5 597 L130.12 596.97 L130.75 596.94 L131.37 596.91 L131.99 596.89 L132.61 596.86 L133.24 596.84 L133.86 596.81 L134.48 596.79 L135.11 596.77 L135.73 596.75 L136.35 596.73 L136.98 596.71 L137.6 596.7 L138.22 596.68 L138.84 596.67 L139.47 596.65 L140.09 596.64 L140.71 596.62 L141.34 596.61 L141.96 596.6 L142.58 596.59 L143.2 596.58 L143.83 596.57 L144.45 596.56 L145.07 596.55 L145.7 596.54 L146.32 596.53 L146.94 596.52 L147.56 596.52 L148.19 596.51 L148.81 596.5 L149.43 596.49 L150.06 596.49 L150.68 596.48 L151.3 596.48 L151.93 596.47 L152.55 596.47 L153.17 596.46 L153.79 596.46 L154.42 596.45 L155.04 596.45 L155.66 596.44 L156.29 596.44 L156.91 596.44 L157.53 596.43 L158.15 596.43 L158.78 596.43 L159.4 596.42 L160.02 596.42 L160.65 596.42 L161.27 596.42 L161.89 596.41 L162.51 596.41 L163.14 596.41 L163.76 596.41 L164.38 596.41 L165.01 596.4 L165.63 596.4 L166.25 596.4 L166.88 596.4 L167.5 596.4 L168.12 596.4 L168.74 596.39 L169.37 596.39 L169.99 596.39 L170.61 596.39 L171.24 596.39 L171.86 596.39 L172.48 596.39 L173.1 596.39 L173.73 596.38 L174.35 596.38 L174.97 596.38 L175.6 596.38 L176.22 596.38 L176.84 596.38 L177.46 596.38 L178.09 596.38 L178.71 596.38 L179.33 596.38 L179.96 596.38 L180.58 596.38 L181.2 596.38 L181.82 596.38 L182.45 596.38 L183.07 596.38 L183.69 596.37 L184.32 596.37 L184.94 596.37 L185.56 596.37 L186.19 596.37 L186.81 596.37 L187.43 596.37 L188.05 596.37 L188.68 596.37 L189.3 596.37 L189.92 596.37 L190.55 596.37 L191.17 596.37 L191.79 596.37 L192.41 596.37 L193.04 596.37 L193.66 596.37 L194.28 596.37 L194.91 596.37 L195.53 596.37 L196.15 596.37 L196.78 596.37 L197.4 596.37 L198.02 596.37 L198.64 596.37 L199.27 596.37 L199.89 596.37 L200.51 596.37 L201.14 596.37 L201.76 596.37 L202.38 596.37 L203 596.37 L203.63 596.37 L204.25 596.37 L204.87 596.37 L205.5 596.37 L206.12 596.37 L206.74 596.37 L207.36 596.37 L207.99 596.37 L208.61 596.37 L209.23 596.37 L209.86 596.37 L210.48 596.37 L211.1 596.37 L211.73 596.37 L212.35 596.37 L212.97 596.37 L213.59 596.37 L214.22 596.37 L214.84 596.37 L215.46 596.37 L216.09 596.37 L216.71 596.37 L217.33 596.37 L217.95 596.37 L218.58 596.37 L219.2 596.37" fill="none" stroke="#ff0000" stroke-width="4.2" stroke-linejoin="round"/>
</g>
<rect x="69.7" y="559.8" width="149.5" height="105" fill="none" stroke="#262626" stroke-width="1"/>
<line x1="69.7" y1="664.8" x2="69.7" y2="663" stroke="#262626" stroke-width="1"/>
<line x1="69.7" y1="559.8" x2="69.7" y2="561.6" stroke="#262626" stroke-width="1"/>
<text x="69.7" y="681" font-size="12.4" fill="#262626" text-anchor="middle" stroke="#262626" stroke-width="0.25">0</text>
<line x1="119.53" y1="664.8" x2="119.53" y2="663" stroke="#262626" stroke-width="1"/>
<line x1="119.53" y1="559.8" x2="119.53" y2="561.6" stroke="#262626" stroke-width="1"/>
<text x="119.53" y="681" font-size="12.4" fill="#262626" text-anchor="middle" stroke="#262626" stroke-width="0.25">20</text>
<line x1="169.37" y1="664.8" x2="169.37" y2="663" stroke="#262626" stroke-width="1"/>
<line x1="169.37" y1="559.8" x2="169.37" y2="561.6" stroke="#262626" stroke-width="1"/>
<text x="169.37" y="681" font-size="12.4" fill="#262626" text-anchor="middle" stroke="#262626" stroke-width="0.25">40</text>
<line x1="219.2" y1="664.8" x2="219.2" y2="663" stroke="#262626" stroke-width="1"/>
<line x1="219.2" y1="559.8" x2="219.2" y2="561.6" stroke="#262626" stroke-width="1"/>
<text x="219.2" y="681" font-size="12.4" fill="#262626" text-anchor="middle" stroke="#262626" stroke-width="0.25">60</text>
<line x1="69.7" y1="664.8" x2="71.5" y2="664.8" stroke="#262626" stroke-width="1"/>
<line x1="219.2" y1="664.8" x2="217.4" y2="664.8" stroke="#262626" stroke-width="1"/>
<text x="62.1" y="668.9" font-size="12.4" fill="#262626" text-anchor="end" stroke="#262626" stroke-width="0.25">0</text>
<line x1="69.7" y1="624.45" x2="71.5" y2="624.45" stroke="#262626" stroke-width="1"/>
<line x1="219.2" y1="624.45" x2="217.4" y2="624.45" stroke="#262626" stroke-width="1"/>
<text x="62.1" y="628.55" font-size="12.4" fill="#262626" text-anchor="end" stroke="#262626" stroke-width="0.25">0.5</text>
<line x1="69.7" y1="584.1" x2="71.5" y2="584.1" stroke="#262626" stroke-width="1"/>
<line x1="219.2" y1="584.1" x2="217.4" y2="584.1" stroke="#262626" stroke-width="1"/>
<text x="62.1" y="588.2" font-size="12.4" fill="#262626" text-anchor="end" stroke="#262626" stroke-width="0.25">1</text>
<text x="144.95" y="697.5" font-size="12.7" fill="#000" text-anchor="middle" stroke="#000" stroke-width="0.12">Time (s)</text>
<clipPath id="dclip12"><rect x="314.8" y="559.8" width="149.6" height="105"/></clipPath>
<g clip-path="url(#dclip12)">
<path d="M314.8 572 L315.11 574.75 L315.42 577.38 L315.74 579.89 L316.05 582.29 L316.36 584.58 L316.67 586.76 L316.98 588.84 L317.29 590.83 L317.61 592.73 L317.92 594.54 L318.23 596.26 L318.54 597.91 L318.85 599.47 L319.16 600.96 L319.48 602.38 L319.79 603.73 L320.1 605.02 L320.41 606.24 L320.72 607.4 L321.03 608.51 L321.35 609.55 L321.66 610.55 L321.97 611.49 L322.28 612.38 L322.59 613.22 L322.9 614.02 L323.22 614.77 L323.53 615.48 L323.84 616.15 L324.15 616.79 L324.46 617.38 L324.77 617.94 L325.09 618.47 L325.4 618.96 L325.71 619.42 L326.02 619.86 L326.33 620.26 L326.64 620.64 L326.95 620.99 L327.27 621.32 L327.58 621.63 L327.89 621.91 L328.2 622.18 L328.51 622.43 L328.82 622.65 L329.14 622.86 L329.45 623.06 L329.76 623.24 L330.07 623.41 L330.38 623.57 L330.69 623.71 L331.01 623.84 L331.32 623.97 L331.63 624.08 L331.94 624.19 L332.25 624.29 L332.56 624.39 L332.88 624.48 L333.19 624.56 L333.5 624.65 L333.81 624.72 L334.12 624.8 L334.44 624.87 L334.75 624.95 L335.06 625.02 L335.37 625.09 L335.68 625.16 L335.99 625.23 L336.31 625.3 L336.62 625.38 L336.93 625.45 L337.24 625.53 L337.55 625.6 L337.86 625.68 L338.18 625.76 L338.49 625.85 L338.8 625.93 L339.11 626.02 L339.42 626.11 L339.73 626.21 L340.05 626.3 L340.36 626.4 L340.67 626.5 L340.98 626.6 L341.29 626.71 L341.6 626.81 L341.92 626.92 L342.23 627.03 L342.54 627.14 L342.85 627.25 L343.16 627.36 L343.47 627.47 L343.79 627.59 L344.1 627.7 L344.41 627.81 L344.72 627.92 L345.03 628.03 L345.34 628.14 L345.66 628.25 L345.97 628.35 L346.28 628.46 L346.59 628.56 L346.9 628.66 L347.21 628.75 L347.52 628.84 L347.84 628.93 L348.15 629.02 L348.46 629.1 L348.77 629.18 L349.08 629.26 L349.39 629.33 L349.71 629.39 L350.02 629.46 L350.33 629.52 L350.64 629.57 L350.95 629.62 L351.26 629.66 L351.58 629.7 L351.89 629.74 L352.2 629.77 L352.51 629.8 L352.82 629.82 L353.13 629.84 L353.45 629.86 L353.76 629.87 L354.07 629.87 L354.38 629.88 L354.69 629.88 L355 629.87 L355.32 629.87 L355.63 629.86 L355.94 629.85 L356.25 629.83 L356.56 629.82 L356.88 629.8 L357.19 629.78 L357.5 629.76 L357.81 629.73 L358.12 629.71 L358.43 629.69 L358.75 629.66 L359.06 629.64 L359.37 629.61 L359.68 629.59 L359.99 629.57 L360.3 629.54 L360.62 629.52 L360.93 629.5 L361.24 629.48 L361.55 629.47 L361.86 629.45 L362.17 629.44 L362.49 629.42 L362.8 629.42 L363.11 629.41 L363.42 629.4 L363.73 629.4 L364.04 629.4 L364.36 629.4 L364.67 629.41 L364.98 629.42 L365.29 629.43 L365.6 629.44 L365.91 629.45 L366.23 629.47 L366.54 629.49 L366.85 629.51 L367.16 629.53 L367.47 629.56 L367.78 629.59 L368.1 629.62 L368.41 629.65 L368.72 629.68 L369.03 629.71 L369.34 629.75 L369.65 629.78 L369.96 629.81 L370.28 629.85 L370.59 629.88 L370.9 629.92 L371.21 629.95 L371.52 629.99 L371.83 630.02 L372.15 630.05 L372.46 630.08 L372.77 630.11 L373.08 630.14 L373.39 630.17 L373.7 630.19 L374.02 630.21 L374.33 630.23 L374.64 630.25 L374.95 630.26 L375.26 630.27 L375.57 630.28 L375.89 630.28 L376.2 630.29 L376.51 630.28 L376.82 630.28 L377.13 630.27 L377.44 630.26 L377.76 630.24 L378.07 630.22 L378.38 630.2 L378.69 630.17 L379 630.14 L379.31 630.11 L379.63 630.07 L379.94 630.03 L380.25 629.99 L380.56 629.94 L380.87 629.89 L381.19 629.84 L381.5 629.79 L381.81 629.73 L382.12 629.67 L382.43 629.61 L382.74 629.55 L383.06 629.48 L383.37 629.42 L383.68 629.35 L383.99 629.28 L384.3 629.21 L384.61 629.14 L384.93 629.07 L385.24 629 L385.55 628.93 L385.86 628.86 L386.17 628.79 L386.48 628.72 L386.79 628.65 L387.11 628.59 L387.42 628.52 L387.73 628.46 L388.04 628.39 L388.35 628.33 L388.66 628.28 L388.98 628.22 L389.29 628.17 L389.6 628.12 L389.91 628.07 L390.22 628.03 L390.53 627.98 L390.85 627.95 L391.16 627.91 L391.47 627.88 L391.78 627.85 L392.09 627.83 L392.4 627.81 L392.72 627.79 L393.03 627.77 L393.34 627.76 L393.65 627.76 L393.96 627.75 L394.27 627.76 L394.59 627.76 L394.9 627.77 L395.21 627.78 L395.52 627.79 L395.83 627.81 L396.14 627.83 L396.46 627.86 L396.77 627.88 L397.08 627.91 L397.39 627.95 L397.7 627.98 L398.01 628.02 L398.33 628.07 L398.64 628.11 L398.95 628.16 L399.26 628.2 L399.57 628.25 L399.88 628.81 L400.2 629.37 L400.51 629.93 L400.82 630.49 L401.13 631.05 L401.44 631.62 L401.75 632.18 L402.07 632.75 L402.38 633.32 L402.69 633.89 L403 634.45 L403.31 635.02 L403.62 635.59 L403.94 636.16 L404.25 636.73 L404.56 637.3 L404.87 637.87 L405.18 638.44 L405.5 639.01 L405.81 639.58 L406.12 640.14 L406.43 640.71 L406.74 641.28 L407.05 641.84 L407.37 642.41 L407.68 642.97 L407.99 643.53 L408.3 644.09 L408.61 644.65 L408.92 645.21 L409.24 645.77 L409.55 646.32 L409.86 646.37 L410.17 646.42 L410.48 646.46 L410.79 646.51 L411.11 646.55 L411.42 646.59 L411.73 646.63 L412.04 646.66 L412.35 646.7 L412.66 646.73 L412.98 646.76 L413.29 646.79 L413.6 646.81 L413.91 646.83 L414.22 646.85 L414.53 646.87 L414.84 646.88 L415.16 646.89 L415.47 646.9 L415.78 646.91 L416.09 646.91 L416.4 646.91 L416.71 646.91 L417.03 646.9 L417.34 646.89 L417.65 646.88 L417.96 646.87 L418.27 646.85 L418.58 646.83 L418.9 646.8 L419.21 646.77 L419.52 646.74 L419.83 646.71 L420.14 646.67 L420.45 646.63 L420.77 646.59 L421.08 646.55 L421.39 646.5 L421.7 646.45 L422.01 646.39 L422.32 646.34 L422.64 646.28 L422.95 646.22 L423.26 646.15 L423.57 646.09 L423.88 646.02 L424.19 645.95 L424.51 645.88 L424.82 645.8 L425.13 645.73 L425.44 645.65 L425.75 645.57 L426.06 645.5 L426.38 645.42 L426.69 645.34 L427 645.26 L427.31 645.18 L427.62 645.1 L427.94 645.02 L428.25 644.95 L428.56 644.87 L428.87 644.8 L429.18 644.72 L429.49 644.65 L429.8 644.58 L430.12 644.51 L430.43 644.45 L430.74 644.38 L431.05 644.32 L431.36 644.26 L431.67 644.21 L431.99 644.16 L432.3 644.11 L432.61 644.07 L432.92 644.03 L433.23 644 L433.54 643.97 L433.86 643.94 L434.17 643.92 L434.48 643.9 L434.79 643.89 L435.1 643.88 L435.41 643.88 L435.73 643.89 L436.04 643.89 L436.35 643.91 L436.66 643.92 L436.97 643.95 L437.28 643.97 L437.6 644.01 L437.91 644.05 L438.22 644.09 L438.53 644.13 L438.84 644.18 L439.15 644.24 L439.47 644.3 L439.78 644.36 L440.09 644.43 L440.4 644.5 L440.71 644.57 L441.02 644.65 L441.34 644.73 L441.65 644.81 L441.96 644.89 L442.27 644.97 L442.58 645.06 L442.89 645.15 L443.21 645.23 L443.52 645.32 L443.83 645.41 L444.14 645.5 L444.45 645.58 L444.76 645.67 L445.08 645.75 L445.39 645.84 L445.7 645.92 L446.01 646 L446.32 646.07 L446.63 646.15 L446.95 646.22 L447.26 646.28 L447.57 646.35 L447.88 646.41 L448.19 646.46 L448.5 646.51 L448.82 646.56 L449.13 646.6 L449.44 646.63 L449.75 646.66 L450.06 646.69 L450.38 646.71 L450.69 646.72 L451 646.73 L451.31 646.74 L451.62 646.74 L451.93 646.73 L452.25 646.72 L452.56 646.7 L452.87 646.67 L453.18 646.64 L453.49 646.61 L453.8 646.57 L454.12 646.53 L454.43 646.48 L454.74 646.43 L455.05 646.37 L455.36 646.31 L455.67 646.24 L455.99 646.18 L456.3 646.11 L456.61 646.03 L456.92 645.96 L457.23 645.88 L457.54 645.8 L457.86 645.72 L458.17 645.64 L458.48 645.55 L458.79 645.47 L459.1 645.39 L459.41 645.3 L459.72 645.22 L460.04 645.14 L460.35 645.06 L460.66 644.99 L460.97 644.91 L461.28 644.84 L461.59 644.77 L461.91 644.7 L462.22 644.64 L462.53 644.58 L462.84 644.52 L463.15 644.47 L463.46 644.42 L463.78 644.38 L464.09 644.34 L464.4 644.3" fill="none" stroke="#000" stroke-width="0.85"/>
<path d="M314.8 567.96 L315.11 570.15 L315.42 573.86 L315.74 591.96 L316.05 618.59 L316.36 639.32 L316.67 643.15 L316.98 628.95 L317.29 606.11 L317.61 589.07 L317.92 587.26 L318.23 588.92 L318.54 590.55 L318.85 592.13 L319.16 593.68 L319.48 595.19 L319.79 596.67 L320.1 598.11 L320.41 599.52 L320.72 600.9 L321.03 602.24 L321.35 603.55 L321.66 604.82 L321.97 606.07 L322.28 607.28 L322.59 608.45 L322.9 609.59 L323.22 610.7 L323.53 611.78 L323.84 612.82 L324.15 613.83 L324.46 614.8 L324.77 615.74 L325.09 616.65 L325.4 617.52 L325.71 618.36 L326.02 619.16 L326.33 619.93 L326.64 620.67 L326.95 621.38 L327.27 622.06 L327.58 622.71 L327.89 623.33 L328.2 623.92 L328.51 624.49 L328.82 625.03 L329.14 625.54 L329.45 626.04 L329.76 626.51 L330.07 626.96 L330.38 627.39 L330.69 627.81 L331.01 628.21 L331.32 628.59 L331.63 628.97 L331.94 629.33 L332.25 629.68 L332.56 630.03 L332.88 630.37 L333.19 630.7 L333.5 631.03 L333.81 631.36 L334.12 631.68 L334.44 632.01 L334.75 632.33 L335.06 632.66 L335.37 632.98 L335.68 633.31 L335.99 633.65 L336.31 633.98 L336.62 634.32 L336.93 634.67 L337.24 635.01 L337.55 635.36 L337.86 635.71 L338.18 636.07 L338.49 636.43 L338.8 636.79 L339.11 637.15 L339.42 637.51 L339.73 637.87 L340.05 638.23 L340.36 638.59 L340.67 638.95 L340.98 639.3 L341.29 639.65 L341.6 639.99 L341.92 640.32 L342.23 640.65 L342.54 640.96 L342.85 641.27 L343.16 641.57 L343.47 641.85 L343.79 642.12 L344.1 642.38 L344.41 642.62 L344.72 642.85 L345.03 643.06 L345.34 643.26 L345.66 643.44 L345.97 643.6 L346.28 643.75 L346.59 643.88 L346.9 643.99 L347.21 644.08 L347.52 644.16 L347.84 644.22 L348.15 644.27 L348.46 644.3 L348.77 644.32 L349.08 644.32 L349.39 644.3 L349.71 644.28 L350.02 644.24 L350.33 644.19 L350.64 644.13 L350.95 644.06 L351.26 643.99 L351.58 643.9 L351.89 643.81 L352.2 643.72 L352.51 643.62 L352.82 643.52 L353.13 643.42 L353.45 643.32 L353.76 643.22 L354.07 643.12 L354.38 643.02 L354.69 642.93 L355 642.84 L355.32 642.76 L355.63 642.68 L355.94 642.61 L356.25 642.55 L356.56 642.49 L356.88 642.44 L357.19 642.4 L357.5 642.37 L357.81 642.34 L358.12 642.33 L358.43 642.32 L358.75 642.32 L359.06 642.33 L359.37 642.34 L359.68 642.37 L359.99 642.4 L360.3 642.43 L360.62 642.48 L360.93 642.53 L361.24 642.58 L361.55 642.64 L361.86 642.7 L362.17 642.76 L362.49 642.83 L362.8 642.9 L363.11 642.97 L363.42 643.03 L363.73 643.1 L364.04 643.17 L364.36 643.24 L364.67 643.3 L364.98 643.37 L365.29 643.43 L365.6 643.48 L365.91 643.54 L366.23 643.59 L366.54 643.63 L366.85 643.68 L367.16 643.72 L367.47 643.75 L367.78 643.78 L368.1 643.81 L368.41 643.84 L368.72 643.86 L369.03 643.88 L369.34 643.9 L369.65 643.92 L369.96 643.94 L370.28 643.95 L370.59 643.97 L370.9 643.99 L371.21 644.01 L371.52 644.04 L371.83 644.07 L372.15 644.1 L372.46 644.14 L372.77 644.18 L373.08 644.23 L373.39 644.28 L373.7 644.35 L374.02 644.42 L374.33 644.5 L374.64 644.59 L374.95 644.69 L375.26 644.79 L375.57 644.91 L375.89 645.04 L376.2 645.18 L376.51 645.32 L376.82 645.48 L377.13 645.64 L377.44 645.82 L377.76 646 L378.07 646.19 L378.38 646.39 L378.69 646.59 L379 646.8 L379.31 647.01 L379.63 647.23 L379.94 647.44 L380.25 647.66 L380.56 647.88 L380.87 648.1 L381.19 648.32 L381.5 648.53 L381.81 648.74 L382.12 648.94 L382.43 649.13 L382.74 649.31 L383.06 649.48 L383.37 649.64 L383.68 649.79 L383.99 649.92 L384.3 650.04 L384.61 650.14 L384.93 650.22 L385.24 650.29 L385.55 650.33 L385.86 650.36 L386.17 650.36 L386.48 650.35 L386.79 650.31 L387.11 650.25 L387.42 650.17 L387.73 650.07 L388.04 649.94 L388.35 649.8 L388.66 649.64 L388.98 649.45 L389.29 649.25 L389.6 649.03 L389.91 648.79 L390.22 648.53 L390.53 648.27 L390.85 647.98 L391.16 647.69 L391.47 647.38 L391.78 647.07 L392.09 646.75 L392.4 646.42 L392.72 646.1 L393.03 645.76 L393.34 645.43 L393.65 645.11 L393.96 644.78 L394.27 644.46 L394.59 644.15 L394.9 643.85 L395.21 643.55 L395.52 643.28 L395.83 643.01 L396.14 642.76 L396.46 642.53 L396.77 642.31 L397.08 642.11 L397.39 641.94 L397.7 641.78 L398.01 641.65 L398.33 641.54 L398.64 641.45 L398.95 641.38 L399.26 641.33 L399.57 641.31 L399.88 641.31 L400.2 641.34 L400.51 641.38 L400.82 641.44 L401.13 641.53 L401.44 641.63 L401.75 641.75 L402.07 641.89 L402.38 642.04 L402.69 642.21 L403 642.39 L403.31 642.58 L403.62 642.78 L403.94 642.98 L404.25 643.2 L404.56 643.41 L404.87 643.63 L405.18 643.84 L405.5 644.06 L405.81 644.27 L406.12 644.48 L406.43 644.68 L406.74 644.87 L407.05 645.05 L407.37 645.22 L407.68 645.37 L407.99 645.52 L408.3 645.65 L408.61 645.76 L408.92 645.85 L409.24 645.93 L409.55 645.99 L409.86 646.03 L410.17 646.06 L410.48 646.06 L410.79 646.05 L411.11 646.02 L411.42 645.97 L411.73 645.91 L412.04 645.83 L412.35 645.73 L412.66 645.62 L412.98 645.5 L413.29 645.36 L413.6 645.22 L413.91 645.06 L414.22 644.9 L414.53 644.74 L414.84 644.57 L415.16 644.39 L415.47 644.22 L415.78 644.05 L416.09 643.88 L416.4 643.72 L416.71 643.56 L417.03 643.42 L417.34 643.28 L417.65 643.15 L417.96 643.04 L418.27 642.94 L418.58 642.86 L418.9 642.8 L419.21 642.75 L419.52 642.73 L419.83 642.72 L420.14 642.74 L420.45 642.77 L420.77 642.83 L421.08 642.91 L421.39 643.01 L421.7 643.13 L422.01 643.27 L422.32 643.44 L422.64 643.62 L422.95 643.82 L423.26 644.04 L423.57 644.27 L423.88 644.52 L424.19 644.79 L424.51 645.07 L424.82 645.35 L425.13 645.65 L425.44 645.95 L425.75 646.26 L426.06 646.57 L426.38 646.88 L426.69 647.19 L427 647.49 L427.31 647.79 L427.62 648.08 L427.94 648.36 L428.25 648.63 L428.56 648.88 L428.87 649.12 L429.18 649.35 L429.49 649.55 L429.8 649.73 L430.12 649.89 L430.43 650.02 L430.74 650.13 L431.05 650.22 L431.36 650.27 L431.67 650.31 L431.99 650.31 L432.3 650.28 L432.61 650.23 L432.92 650.15 L433.23 650.04 L433.54 649.91 L433.86 649.74 L434.17 649.56 L434.48 649.34 L434.79 649.11 L435.1 648.85 L435.41 648.57 L435.73 648.27 L436.04 647.96 L436.35 647.63 L436.66 647.29 L436.97 646.94 L437.28 646.57 L437.6 646.2 L437.91 645.83 L438.22 645.45 L438.53 645.08 L438.84 644.71 L439.15 644.34 L439.47 643.98 L439.78 643.63 L440.09 643.29 L440.4 642.96 L440.71 642.65 L441.02 642.36 L441.34 642.09 L441.65 641.83 L441.96 641.6 L442.27 641.4 L442.58 641.22 L442.89 641.06 L443.21 640.93 L443.52 640.83 L443.83 640.76 L444.14 640.71 L444.45 640.69 L444.76 640.71 L445.08 640.75 L445.39 640.81 L445.7 640.91 L446.01 641.03 L446.32 641.17 L446.63 641.34 L446.95 641.53 L447.26 641.74 L447.57 641.97 L447.88 642.23 L448.19 642.49 L448.5 642.77 L448.82 643.07 L449.13 643.37 L449.44 643.68 L449.75 644 L450.06 644.33 L450.38 644.66 L450.69 644.98 L451 645.31 L451.31 645.63 L451.62 645.94 L451.93 646.25 L452.25 646.55 L452.56 646.84 L452.87 647.12 L453.18 647.38 L453.49 647.62 L453.8 647.85 L454.12 648.06 L454.43 648.26 L454.74 648.43 L455.05 648.58 L455.36 648.72 L455.67 648.83 L455.99 648.92 L456.3 648.99 L456.61 649.03 L456.92 649.06 L457.23 649.07 L457.54 649.06 L457.86 649.03 L458.17 648.98 L458.48 648.91 L458.79 648.83 L459.1 648.73 L459.41 648.62 L459.72 648.49 L460.04 648.36 L460.35 648.21 L460.66 648.06 L460.97 647.9 L461.28 647.73 L461.59 647.56 L461.91 647.39 L462.22 647.22 L462.53 647.04 L462.84 646.87 L463.15 646.71 L463.46 646.55 L463.78 646.39 L464.09 646.24 L464.4 646.1" fill="none" stroke="#000" stroke-width="0.85"/>
<path d="M314.8 576.03 L315.11 578.02 L315.42 579.94 L315.74 581.81 L316.05 583.62 L316.36 585.38 L316.67 587.08 L316.98 588.73 L317.29 590.33 L317.61 591.89 L317.92 593.41 L318.23 594.88 L318.54 596.31 L318.85 597.7 L319.16 599.06 L319.48 600.38 L319.79 601.68 L320.1 602.94 L320.41 604.17 L320.72 605.37 L321.03 606.55 L321.35 607.7 L321.66 608.83 L321.97 609.93 L322.28 611.02 L322.59 612.09 L322.9 613.14 L323.22 614.17 L323.53 615.18 L323.84 616.18 L324.15 617.17 L324.46 618.14 L324.77 619.1 L325.09 620.05 L325.4 620.98 L325.71 621.9 L326.02 622.81 L326.33 623.71 L326.64 624.6 L326.95 625.48 L327.27 626.35 L327.58 627.2 L327.89 628.05 L328.2 628.88 L328.51 629.7 L328.82 630.51 L329.14 631.3 L329.45 632.07 L329.76 632.84 L330.07 633.58 L330.38 634.31 L330.69 635.02 L331.01 635.71 L331.32 636.39 L331.63 637.04 L331.94 637.67 L332.25 638.27 L332.56 638.85 L332.88 639.41 L333.19 639.94 L333.5 640.45 L333.81 640.93 L334.12 641.37 L334.44 641.8 L334.75 642.19 L335.06 642.55 L335.37 642.88 L335.68 643.18 L335.99 643.46 L336.31 643.7 L336.62 643.91 L336.93 644.1 L337.24 644.25 L337.55 644.38 L337.86 644.48 L338.18 644.55 L338.49 644.6 L338.8 644.62 L339.11 644.62 L339.42 644.6 L339.73 644.56 L340.05 644.5 L340.36 644.43 L340.67 644.34 L340.98 644.24 L341.29 644.13 L341.6 644.01 L341.92 643.89 L342.23 643.76 L342.54 643.64 L342.85 643.51 L343.16 643.39 L343.47 643.27 L343.79 643.16 L344.1 643.06 L344.41 642.97 L344.72 642.89 L345.03 642.83 L345.34 642.79 L345.66 642.76 L345.97 642.75 L346.28 642.76 L346.59 642.8 L346.9 642.86 L347.21 642.94 L347.52 643.04 L347.84 643.17 L348.15 643.32 L348.46 643.49 L348.77 643.68 L349.08 643.9 L349.39 644.14 L349.71 644.4 L350.02 644.68 L350.33 644.98 L350.64 645.29 L350.95 645.62 L351.26 645.96 L351.58 646.31 L351.89 646.66 L352.2 647.03 L352.51 647.4 L352.82 647.77 L353.13 648.14 L353.45 648.51 L353.76 648.87 L354.07 649.22 L354.38 649.57 L354.69 649.9 L355 650.22 L355.32 650.52 L355.63 650.8 L355.94 651.06 L356.25 651.3 L356.56 651.52 L356.88 651.71 L357.19 651.87 L357.5 652.01 L357.81 652.12 L358.12 652.2 L358.43 652.25 L358.75 652.28 L359.06 652.27 L359.37 652.24 L359.68 652.18 L359.99 652.09 L360.3 651.98 L360.62 651.84 L360.93 651.69 L361.24 651.51 L361.55 651.31 L361.86 651.1 L362.17 650.87 L362.49 650.63 L362.8 650.38 L363.11 650.12 L363.42 649.87 L363.73 649.6 L364.04 649.35 L364.36 649.09 L364.67 648.84 L364.98 648.61 L365.29 648.38 L365.6 648.17 L365.91 647.98 L366.23 647.81 L366.54 647.66 L366.85 647.54 L367.16 647.44 L367.47 647.37 L367.78 647.33 L368.1 647.32 L368.41 647.34 L368.72 647.39 L369.03 647.47 L369.34 647.59 L369.65 647.74 L369.96 647.92 L370.28 648.13 L370.59 648.37 L370.9 648.64 L371.21 648.94 L371.52 649.26 L371.83 649.6 L372.15 649.96 L372.46 650.34 L372.77 650.74 L373.08 651.15 L373.39 651.57 L373.7 651.99 L374.02 652.41 L374.33 652.84 L374.64 653.26 L374.95 653.67 L375.26 654.07 L375.57 654.45 L375.89 654.82 L376.2 655.16 L376.51 655.48 L376.82 655.77 L377.13 656.03 L377.44 656.26 L377.76 656.45 L378.07 656.6 L378.38 656.72 L378.69 656.79 L379 656.82 L379.31 656.8 L379.63 656.74 L379.94 656.64 L380.25 656.49 L380.56 656.29 L380.87 656.05 L381.19 655.77 L381.5 655.45 L381.81 655.09 L382.12 654.68 L382.43 654.25 L382.74 653.78 L383.06 653.28 L383.37 652.75 L383.68 652.21 L383.99 651.64 L384.3 651.05 L384.61 650.46 L384.93 649.86 L385.24 649.25 L385.55 648.65 L385.86 648.05 L386.17 647.47 L386.48 646.89 L386.79 646.34 L387.11 645.81 L387.42 645.31 L387.73 644.83 L388.04 644.4 L388.35 644 L388.66 643.64 L388.98 643.33 L389.29 643.06 L389.6 642.85 L389.91 642.68 L390.22 642.57 L390.53 642.52 L390.85 642.52 L391.16 642.58 L391.47 642.69 L391.78 642.86 L392.09 643.08 L392.4 643.35 L392.72 643.68 L393.03 644.06 L393.34 644.49 L393.65 644.96 L393.96 645.47 L394.27 646.03 L394.59 646.62 L394.9 647.24 L395.21 647.88 L395.52 648.55 L395.83 649.24 L396.14 649.94 L396.46 650.65 L396.77 651.36 L397.08 652.07 L397.39 652.77 L397.7 653.47 L398.01 654.14 L398.33 654.8 L398.64 655.43 L398.95 656.03 L399.26 656.59 L399.57 657.12 L399.88 657.61 L400.2 658.05 L400.51 658.44 L400.82 658.78 L401.13 659.06 L401.44 659.3 L401.75 659.47 L402.07 659.59 L402.38 659.65 L402.69 659.65 L403 659.59 L403.31 659.47 L403.62 659.3 L403.94 659.07 L404.25 658.78 L404.56 658.45 L404.87 658.06 L405.18 657.63 L405.5 657.16 L405.81 656.65 L406.12 656.11 L406.43 655.53 L406.74 654.93 L407.05 654.31 L407.37 653.67 L407.68 653.02 L407.99 652.36 L408.3 651.7 L408.61 651.05 L408.92 650.4 L409.24 649.77 L409.55 649.15 L409.86 648.55 L410.17 647.98 L410.48 647.45 L410.79 646.94 L411.11 646.48 L411.42 646.05 L411.73 645.68 L412.04 645.34 L412.35 645.06 L412.66 644.83 L412.98 644.65 L413.29 644.53 L413.6 644.45 L413.91 644.44 L414.22 644.47 L414.53 644.56 L414.84 644.7 L415.16 644.89 L415.47 645.13 L415.78 645.42 L416.09 645.75 L416.4 646.12 L416.71 646.52 L417.03 646.96 L417.34 647.43 L417.65 647.92 L417.96 648.43 L418.27 648.96 L418.58 649.5 L418.9 650.05 L419.21 650.6 L419.52 651.14 L419.83 651.68 L420.14 652.21 L420.45 652.72 L420.77 653.21 L421.08 653.68 L421.39 654.11 L421.7 654.52 L422.01 654.88 L422.32 655.21 L422.64 655.5 L422.95 655.74 L423.26 655.94 L423.57 656.09 L423.88 656.19 L424.19 656.24 L424.51 656.24 L424.82 656.19 L425.13 656.09 L425.44 655.94 L425.75 655.75 L426.06 655.5 L426.38 655.22 L426.69 654.89 L427 654.53 L427.31 654.12 L427.62 653.69 L427.94 653.23 L428.25 652.75 L428.56 652.24 L428.87 651.72 L429.18 651.19 L429.49 650.65 L429.8 650.11 L430.12 649.57 L430.43 649.05 L430.74 648.53 L431.05 648.03 L431.36 647.55 L431.67 647.09 L431.99 646.67 L432.3 646.28 L432.61 645.93 L432.92 645.61 L433.23 645.34 L433.54 645.12 L433.86 644.94 L434.17 644.81 L434.48 644.74 L434.79 644.72 L435.1 644.75 L435.41 644.83 L435.73 644.97 L436.04 645.16 L436.35 645.4 L436.66 645.69 L436.97 646.03 L437.28 646.41 L437.6 646.84 L437.91 647.31 L438.22 647.81 L438.53 648.35 L438.84 648.91 L439.15 649.5 L439.47 650.11 L439.78 650.74 L440.09 651.38 L440.4 652.02 L440.71 652.67 L441.02 653.31 L441.34 653.94 L441.65 654.56 L441.96 655.16 L442.27 655.74 L442.58 656.29 L442.89 656.8 L443.21 657.28 L443.52 657.73 L443.83 658.12 L444.14 658.48 L444.45 658.78 L444.76 659.03 L445.08 659.23 L445.39 659.37 L445.7 659.45 L446.01 659.47 L446.32 659.44 L446.63 659.35 L446.95 659.2 L447.26 658.99 L447.57 658.73 L447.88 658.42 L448.19 658.05 L448.5 657.63 L448.82 657.17 L449.13 656.66 L449.44 656.11 L449.75 655.53 L450.06 654.92 L450.38 654.28 L450.69 653.61 L451 652.93 L451.31 652.24 L451.62 651.53 L451.93 650.83 L452.25 650.12 L452.56 649.43 L452.87 648.74 L453.18 648.07 L453.49 647.42 L453.8 646.8 L454.12 646.21 L454.43 645.65 L454.74 645.12 L455.05 644.65 L455.36 644.21 L455.67 643.82 L455.99 643.48 L456.3 643.2 L456.61 642.97 L456.92 642.79 L457.23 642.67 L457.54 642.6 L457.86 642.59 L458.17 642.64 L458.48 642.75 L458.79 642.9 L459.1 643.11 L459.41 643.38 L459.72 643.69 L460.04 644.04 L460.35 644.44 L460.66 644.88 L460.97 645.35 L461.28 645.86 L461.59 646.4 L461.91 646.96 L462.22 647.54 L462.53 648.13 L462.84 648.74 L463.15 649.36 L463.46 649.97 L463.78 650.59 L464.09 651.2 L464.4 651.79" fill="none" stroke="#000" stroke-width="0.85"/>
<path d="M314.8 566.35 L315.11 568.71 L315.42 571.9 L315.74 583.15 L316.05 599.17 L316.36 611.84 L316.67 614.98 L316.98 607.94 L317.29 596.02 L317.61 587.33 L317.92 587.19 L318.23 588.98 L318.54 590.73 L318.85 592.45 L319.16 594.13 L319.48 595.77 L319.79 597.39 L320.1 598.98 L320.41 600.55 L320.72 602.09 L321.03 603.61 L321.35 605.12 L321.66 606.61 L321.97 608.08 L322.28 609.53 L322.59 610.97 L322.9 612.4 L323.22 613.81 L323.53 615.2 L323.84 616.58 L324.15 617.95 L324.46 619.29 L324.77 620.62 L325.09 621.93 L325.4 623.22 L325.71 624.48 L326.02 625.73 L326.33 626.94 L326.64 628.13 L326.95 629.29 L327.27 630.42 L327.58 631.52 L327.89 632.58 L328.2 633.61 L328.51 634.6 L328.82 635.56 L329.14 636.47 L329.45 637.35 L329.76 638.19 L330.07 638.99 L330.38 639.75 L330.69 640.46 L331.01 641.14 L331.32 641.78 L331.63 642.38 L331.94 642.95 L332.25 643.48 L332.56 643.97 L332.88 644.43 L333.19 644.86 L333.5 645.26 L333.81 645.64 L334.12 645.99 L334.44 646.32 L334.75 646.63 L335.06 646.92 L335.37 647.2 L335.68 647.46 L335.99 647.72 L336.31 647.97 L336.62 648.21 L336.93 648.46 L337.24 648.7 L337.55 648.94 L337.86 649.19 L338.18 649.44 L338.49 649.7 L338.8 649.97 L339.11 650.24 L339.42 650.53 L339.73 650.83 L340.05 651.13 L340.36 651.45 L340.67 651.78 L340.98 652.11 L341.29 652.46 L341.6 652.81 L341.92 653.17 L342.23 653.54 L342.54 653.91 L342.85 654.29 L343.16 654.66 L343.47 655.04 L343.79 655.41 L344.1 655.77 L344.41 656.13 L344.72 656.48 L345.03 656.82 L345.34 657.14 L345.66 657.44 L345.97 657.73 L346.28 658 L346.59 658.25 L346.9 658.48 L347.21 658.68 L347.52 658.85 L347.84 659 L348.15 659.12 L348.46 659.21 L348.77 659.27 L349.08 659.31 L349.39 659.31 L349.71 659.29 L350.02 659.24 L350.33 659.16 L350.64 659.06 L350.95 658.93 L351.26 658.78 L351.58 658.61 L351.89 658.42 L352.2 658.21 L352.51 657.99 L352.82 657.76 L353.13 657.52 L353.45 657.27 L353.76 657.01 L354.07 656.76 L354.38 656.5 L354.69 656.25 L355 656.01 L355.32 655.77 L355.63 655.54 L355.94 655.33 L356.25 655.14 L356.56 654.96 L356.88 654.8 L357.19 654.66 L357.5 654.55 L357.81 654.46 L358.12 654.39 L358.43 654.35 L358.75 654.33 L359.06 654.34 L359.37 654.38 L359.68 654.44 L359.99 654.52 L360.3 654.63 L360.62 654.77 L360.93 654.92 L361.24 655.09 L361.55 655.28 L361.86 655.49 L362.17 655.72 L362.49 655.95 L362.8 656.19 L363.11 656.45 L363.42 656.7 L363.73 656.96 L364.04 657.22 L364.36 657.48 L364.67 657.73 L364.98 657.98 L365.29 658.22 L365.6 658.44 L365.91 658.65 L366.23 658.85 L366.54 659.03 L366.85 659.19 L367.16 659.33 L367.47 659.46 L367.78 659.56 L368.1 659.64 L368.41 659.7 L368.72 659.73 L369.03 659.75 L369.34 659.74 L369.65 659.72 L369.96 659.67 L370.28 659.61 L370.59 659.53 L370.9 659.44 L371.21 659.33 L371.52 659.21 L371.83 659.08 L372.15 658.95 L372.46 658.81 L372.77 658.67 L373.08 658.52 L373.39 658.38 L373.7 658.25 L374.02 658.12 L374.33 658 L374.64 657.9 L374.95 657.81 L375.26 657.73 L375.57 657.67 L375.89 657.63 L376.2 657.62 L376.51 657.62 L376.82 657.65 L377.13 657.7 L377.44 657.77 L377.76 657.87 L378.07 658 L378.38 658.14 L378.69 658.32 L379 658.51 L379.31 658.73 L379.63 658.97 L379.94 659.23 L380.25 659.51 L380.56 659.8 L380.87 660.11 L381.19 660.43 L381.5 660.76 L381.81 661.1 L382.12 661.44 L382.43 661.78 L382.74 662.13 L383.06 662.47 L383.37 662.8 L383.68 663.13 L383.99 663.45 L384.3 663.75 L384.61 664.04 L384.93 664.31 L385.24 664.57 L385.55 664.8 L385.86 665 L386.17 665.19 L386.48 665.35 L386.79 665.48 L387.11 665.59 L387.42 665.66 L387.73 665.72 L388.04 665.74 L388.35 665.74 L388.66 665.71 L388.98 665.65 L389.29 665.57 L389.6 665.47 L389.91 665.35 L390.22 665.2 L390.53 665.04 L390.85 664.86 L391.16 664.67 L391.47 664.47 L391.78 664.26 L392.09 664.04 L392.4 663.82 L392.72 663.6 L393.03 663.38 L393.34 663.16 L393.65 662.95 L393.96 662.75 L394.27 662.55 L394.59 662.37 L394.9 662.21 L395.21 662.06 L395.52 661.93 L395.83 661.81 L396.14 661.72 L396.46 661.65 L396.77 661.6 L397.08 661.57 L397.39 661.56 L397.7 661.58 L398.01 661.62 L398.33 661.67 L398.64 661.75 L398.95 661.85 L399.26 661.96 L399.57 662.09 L399.88 662.24 L400.2 662.39 L400.51 662.56 L400.82 662.73 L401.13 662.91 L401.44 663.1 L401.75 663.28 L402.07 663.47 L402.38 663.65 L402.69 663.82 L403 663.99 L403.31 664.14 L403.62 664.29 L403.94 664.41 L404.25 664.52 L404.56 664.62 L404.87 664.69 L405.18 664.74 L405.5 664.76 L405.81 664.77 L406.12 664.75 L406.43 664.7 L406.74 664.63 L407.05 664.54 L407.37 664.42 L407.68 664.28 L407.99 664.11 L408.3 663.92 L408.61 663.71 L408.92 663.49 L409.24 663.24 L409.55 662.98 L409.86 662.71 L410.17 662.42 L410.48 662.13 L410.79 661.83 L411.11 661.53 L411.42 661.22 L411.73 660.92 L412.04 660.62 L412.35 660.33 L412.66 660.04 L412.98 659.77 L413.29 659.51 L413.6 659.26 L413.91 659.04 L414.22 658.83 L414.53 658.65 L414.84 658.48 L415.16 658.34 L415.47 658.23 L415.78 658.14 L416.09 658.08 L416.4 658.04 L416.71 658.03 L417.03 658.05 L417.34 658.09 L417.65 658.16 L417.96 658.25 L418.27 658.36 L418.58 658.49 L418.9 658.65 L419.21 658.82 L419.52 659 L419.83 659.2 L420.14 659.41 L420.45 659.63 L420.77 659.85 L421.08 660.08 L421.39 660.31 L421.7 660.54 L422.01 660.76 L422.32 660.98 L422.64 661.19 L422.95 661.38 L423.26 661.57 L423.57 661.74 L423.88 661.89 L424.19 662.02 L424.51 662.14 L424.82 662.23 L425.13 662.3 L425.44 662.35 L425.75 662.38 L426.06 662.38 L426.38 662.36 L426.69 662.31 L427 662.25 L427.31 662.16 L427.62 662.05 L427.94 661.92 L428.25 661.78 L428.56 661.62 L428.87 661.44 L429.18 661.25 L429.49 661.06 L429.8 660.85 L430.12 660.64 L430.43 660.43 L430.74 660.21 L431.05 660 L431.36 659.79 L431.67 659.59 L431.99 659.4 L432.3 659.22 L432.61 659.05 L432.92 658.9 L433.23 658.76 L433.54 658.65 L433.86 658.55 L434.17 658.48 L434.48 658.43 L434.79 658.4 L435.1 658.4 L435.41 658.42 L435.73 658.47 L436.04 658.54 L436.35 658.64 L436.66 658.76 L436.97 658.9 L437.28 659.06 L437.6 659.24 L437.91 659.44 L438.22 659.66 L438.53 659.89 L438.84 660.14 L439.15 660.39 L439.47 660.65 L439.78 660.92 L440.09 661.19 L440.4 661.46 L440.71 661.73 L441.02 661.99 L441.34 662.25 L441.65 662.5 L441.96 662.73 L442.27 662.96 L442.58 663.16 L442.89 663.35 L443.21 663.52 L443.52 663.66 L443.83 663.79 L444.14 663.89 L444.45 663.97 L444.76 664.02 L445.08 664.05 L445.39 664.05 L445.7 664.02 L446.01 663.98 L446.32 663.91 L446.63 663.81 L446.95 663.7 L447.26 663.56 L447.57 663.4 L447.88 663.23 L448.19 663.05 L448.5 662.85 L448.82 662.64 L449.13 662.42 L449.44 662.19 L449.75 661.97 L450.06 661.74 L450.38 661.51 L450.69 661.29 L451 661.08 L451.31 660.87 L451.62 660.68 L451.93 660.5 L452.25 660.33 L452.56 660.19 L452.87 660.06 L453.18 659.95 L453.49 659.87 L453.8 659.8 L454.12 659.76 L454.43 659.75 L454.74 659.76 L455.05 659.79 L455.36 659.85 L455.67 659.93 L455.99 660.04 L456.3 660.17 L456.61 660.32 L456.92 660.48 L457.23 660.67 L457.54 660.87 L457.86 661.08 L458.17 661.31 L458.48 661.55 L458.79 661.79 L459.1 662.04 L459.41 662.29 L459.72 662.54 L460.04 662.79 L460.35 663.03 L460.66 663.27 L460.97 663.5 L461.28 663.71 L461.59 663.91 L461.91 664.09 L462.22 664.26 L462.53 664.4 L462.84 664.52 L463.15 664.63 L463.46 664.7 L463.78 664.76 L464.09 664.79 L464.4 664.79" fill="none" stroke="#000" stroke-width="0.85"/>
<path d="M314.8 580.06 L315.11 582.36 L315.42 584.6 L315.74 586.79 L316.05 588.93 L316.36 591.03 L316.67 593.08 L316.98 595.08 L317.29 597.03 L317.61 598.94 L317.92 600.81 L318.23 602.63 L318.54 604.4 L318.85 606.14 L319.16 607.82 L319.48 609.47 L319.79 611.07 L320.1 612.63 L320.41 614.15 L320.72 615.62 L321.03 617.05 L321.35 618.43 L321.66 619.77 L321.97 621.07 L322.28 622.32 L322.59 623.53 L322.9 624.7 L323.22 625.82 L323.53 626.9 L323.84 627.94 L324.15 628.93 L324.46 629.88 L324.77 630.79 L325.09 631.66 L325.4 632.49 L325.71 633.28 L326.02 634.03 L326.33 634.74 L326.64 635.42 L326.95 636.06 L327.27 636.66 L327.58 637.23 L327.89 637.77 L328.2 638.27 L328.51 638.75 L328.82 639.2 L329.14 639.62 L329.45 640.01 L329.76 640.38 L330.07 640.73 L330.38 641.06 L330.69 641.36 L331.01 641.65 L331.32 641.93 L331.63 642.18 L331.94 642.43 L332.25 642.66 L332.56 642.88 L332.88 643.09 L333.19 643.3 L333.5 643.5 L333.81 643.7 L334.12 643.89 L334.44 644.08 L334.75 644.26 L335.06 644.45 L335.37 644.64 L335.68 644.83 L335.99 645.02 L336.31 645.22 L336.62 645.42 L336.93 645.62 L337.24 645.83 L337.55 646.04 L337.86 646.26 L338.18 646.48 L338.49 646.71 L338.8 646.95 L339.11 647.19 L339.42 647.43 L339.73 647.68 L340.05 647.94 L340.36 648.2 L340.67 648.46 L340.98 648.73 L341.29 649 L341.6 649.27 L341.92 649.54 L342.23 649.81 L342.54 650.09 L342.85 650.36 L343.16 650.64 L343.47 650.91 L343.79 651.17 L344.1 651.44 L344.41 651.7 L344.72 651.95 L345.03 652.2 L345.34 652.44 L345.66 652.68 L345.97 652.9 L346.28 653.12 L346.59 653.33 L346.9 653.53 L347.21 653.72 L347.52 653.9 L347.84 654.07 L348.15 654.23 L348.46 654.38 L348.77 654.52 L349.08 654.64 L349.39 654.75 L349.71 654.86 L350.02 654.95 L350.33 655.03 L350.64 655.09 L350.95 655.15 L351.26 655.2 L351.58 655.24 L351.89 655.27 L352.2 655.29 L352.51 655.3 L352.82 655.3 L353.13 655.3 L353.45 655.28 L353.76 655.27 L354.07 655.25 L354.38 655.22 L354.69 655.19 L355 655.15 L355.32 655.11 L355.63 655.08 L355.94 655.03 L356.25 654.99 L356.56 654.95 L356.88 654.91 L357.19 654.87 L357.5 654.84 L357.81 654.8 L358.12 654.77 L358.43 654.74 L358.75 654.71 L359.06 654.69 L359.37 654.67 L359.68 654.66 L359.99 654.65 L360.3 654.65 L360.62 654.65 L360.93 654.66 L361.24 654.67 L361.55 654.68 L361.86 654.7 L362.17 654.73 L362.49 654.75 L362.8 654.79 L363.11 654.82 L363.42 654.86 L363.73 654.9 L364.04 654.94 L364.36 654.99 L364.67 655.03 L364.98 655.08 L365.29 655.12 L365.6 655.17 L365.91 655.21 L366.23 655.26 L366.54 655.29 L366.85 655.33 L367.16 655.36 L367.47 655.39 L367.78 655.42 L368.1 655.43 L368.41 655.45 L368.72 655.45 L369.03 655.45 L369.34 655.45 L369.65 655.43 L369.96 655.41 L370.28 655.38 L370.59 655.34 L370.9 655.29 L371.21 655.24 L371.52 655.17 L371.83 655.1 L372.15 655.02 L372.46 654.93 L372.77 654.84 L373.08 654.74 L373.39 654.62 L373.7 654.51 L374.02 654.38 L374.33 654.25 L374.64 654.12 L374.95 653.98 L375.26 653.84 L375.57 653.69 L375.89 653.54 L376.2 653.39 L376.51 653.24 L376.82 653.08 L377.13 652.93 L377.44 652.78 L377.76 652.63 L378.07 652.49 L378.38 652.34 L378.69 652.21 L379 652.07 L379.31 651.95 L379.63 651.83 L379.94 651.72 L380.25 651.61 L380.56 651.52 L380.87 651.43 L381.19 651.36 L381.5 651.29 L381.81 651.24 L382.12 651.19 L382.43 651.16 L382.74 651.14 L383.06 651.14 L383.37 651.14 L383.68 651.16 L383.99 651.19 L384.3 651.23 L384.61 651.28 L384.93 651.34 L385.24 651.42 L385.55 651.51 L385.86 651.6 L386.17 651.71 L386.48 651.82 L386.79 651.95 L387.11 652.08 L387.42 652.22 L387.73 652.37 L388.04 652.52 L388.35 652.68 L388.66 652.84 L388.98 653 L389.29 653.17 L389.6 653.33 L389.91 653.5 L390.22 653.67 L390.53 653.83 L390.85 654 L391.16 654.16 L391.47 654.31 L391.78 654.46 L392.09 654.61 L392.4 654.74 L392.72 654.87 L393.03 655 L393.34 655.11 L393.65 655.21 L393.96 655.31 L394.27 655.39 L394.59 655.47 L394.9 655.53 L395.21 655.58 L395.52 655.62 L395.83 655.65 L396.14 655.67 L396.46 655.68 L396.77 655.68 L397.08 655.66 L397.39 655.64 L397.7 655.6 L398.01 655.55 L398.33 655.5 L398.64 655.44 L398.95 655.36 L399.26 655.28 L399.57 655.2 L399.88 655.11 L400.2 655.01 L400.51 654.91 L400.82 654.81 L401.13 654.7 L401.44 654.59 L401.75 654.48 L402.07 654.38 L402.38 654.27 L402.69 654.17 L403 654.07 L403.31 653.97 L403.62 653.88 L403.94 653.8 L404.25 653.72 L404.56 653.65 L404.87 653.59 L405.18 653.54 L405.5 653.5 L405.81 653.47 L406.12 653.45 L406.43 653.45 L406.74 653.45 L407.05 653.47 L407.37 653.5 L407.68 653.55 L407.99 653.61 L408.3 653.68 L408.61 653.77 L408.92 653.86 L409.24 653.98 L409.55 654.1 L409.86 654.24 L410.17 654.39 L410.48 654.55 L410.79 654.72 L411.11 654.91 L411.42 655.1 L411.73 655.3 L412.04 655.51 L412.35 655.73 L412.66 655.96 L412.98 656.19 L413.29 656.42 L413.6 656.66 L413.91 656.9 L414.22 657.15 L414.53 657.39 L414.84 657.63 L415.16 657.88 L415.47 658.12 L415.78 658.35 L416.09 658.59 L416.4 658.81 L416.71 659.03 L417.03 659.25 L417.34 659.45 L417.65 659.65 L417.96 659.84 L418.27 660.01 L418.58 660.18 L418.9 660.33 L419.21 660.47 L419.52 660.6 L419.83 660.71 L420.14 660.81 L420.45 660.9 L420.77 660.97 L421.08 661.03 L421.39 661.07 L421.7 661.1 L422.01 661.11 L422.32 661.11 L422.64 661.1 L422.95 661.07 L423.26 661.03 L423.57 660.98 L423.88 660.91 L424.19 660.83 L424.51 660.74 L424.82 660.64 L425.13 660.53 L425.44 660.4 L425.75 660.27 L426.06 660.13 L426.38 659.98 L426.69 659.83 L427 659.67 L427.31 659.5 L427.62 659.33 L427.94 659.15 L428.25 658.97 L428.56 658.79 L428.87 658.6 L429.18 658.42 L429.49 658.23 L429.8 658.04 L430.12 657.86 L430.43 657.67 L430.74 657.49 L431.05 657.31 L431.36 657.13 L431.67 656.95 L431.99 656.78 L432.3 656.61 L432.61 656.44 L432.92 656.27 L433.23 656.11 L433.54 655.96 L433.86 655.8 L434.17 655.65 L434.48 655.51 L434.79 655.36 L435.1 655.22 L435.41 655.09 L435.73 654.95 L436.04 654.82 L436.35 654.69 L436.66 654.57 L436.97 654.44 L437.28 654.31 L437.6 654.19 L437.91 654.07 L438.22 653.94 L438.53 653.82 L438.84 653.69 L439.15 653.57 L439.47 653.44 L439.78 653.31 L440.09 653.18 L440.4 653.05 L440.71 652.91 L441.02 652.77 L441.34 652.63 L441.65 652.48 L441.96 652.34 L442.27 652.19 L442.58 652.03 L442.89 651.87 L443.21 651.71 L443.52 651.55 L443.83 651.39 L444.14 651.22 L444.45 651.05 L444.76 650.88 L445.08 650.71 L445.39 650.54 L445.7 650.37 L446.01 650.2 L446.32 650.03 L446.63 649.86 L446.95 649.7 L447.26 649.54 L447.57 649.38 L447.88 649.23 L448.19 649.09 L448.5 648.95 L448.82 648.82 L449.13 648.7 L449.44 648.58 L449.75 648.48 L450.06 648.39 L450.38 648.31 L450.69 648.24 L451 648.19 L451.31 648.15 L451.62 648.12 L451.93 648.11 L452.25 648.12 L452.56 648.14 L452.87 648.17 L453.18 648.23 L453.49 648.3 L453.8 648.39 L454.12 648.5 L454.43 648.62 L454.74 648.76 L455.05 648.92 L455.36 649.1 L455.67 649.29 L455.99 649.5 L456.3 649.73 L456.61 649.98 L456.92 650.23 L457.23 650.51 L457.54 650.8 L457.86 651.1 L458.17 651.41 L458.48 651.74 L458.79 652.07 L459.1 652.42 L459.41 652.77 L459.72 653.13 L460.04 653.49 L460.35 653.86 L460.66 654.24 L460.97 654.61 L461.28 654.99 L461.59 655.37 L461.91 655.74 L462.22 656.11 L462.53 656.48 L462.84 656.84 L463.15 657.19 L463.46 657.53 L463.78 657.87 L464.09 658.19 L464.4 658.5" fill="none" stroke="#000" stroke-width="0.85"/>
<path d="M314.8 569.57 L315.11 572.61 L315.42 575.56 L315.74 578.42 L316.05 581.21 L316.36 583.92 L316.67 586.55 L316.98 589.11 L317.29 591.6 L317.61 594.01 L317.92 596.36 L318.23 598.64 L318.54 600.85 L318.85 603 L319.16 605.08 L319.48 607.09 L319.79 609.04 L320.1 610.92 L320.41 612.73 L320.72 614.49 L321.03 616.17 L321.35 617.8 L321.66 619.36 L321.97 620.86 L322.28 622.31 L322.59 623.69 L322.9 625.01 L323.22 626.28 L323.53 627.5 L323.84 628.66 L324.15 629.77 L324.46 630.83 L324.77 631.85 L325.09 632.83 L325.4 633.76 L325.71 634.66 L326.02 635.52 L326.33 636.35 L326.64 637.15 L326.95 637.93 L327.27 638.68 L327.58 639.41 L327.89 640.12 L328.2 640.81 L328.51 641.5 L328.82 642.17 L329.14 642.83 L329.45 643.49 L329.76 644.13 L330.07 644.78 L330.38 645.42 L330.69 646.07 L331.01 646.71 L331.32 647.35 L331.63 647.99 L331.94 648.63 L332.25 649.27 L332.56 649.91 L332.88 650.55 L333.19 651.19 L333.5 651.83 L333.81 652.46 L334.12 653.08 L334.44 653.7 L334.75 654.31 L335.06 654.9 L335.37 655.49 L335.68 656.06 L335.99 656.61 L336.31 657.14 L336.62 657.66 L336.93 658.15 L337.24 658.61 L337.55 659.05 L337.86 659.47 L338.18 659.85 L338.49 660.2 L338.8 660.53 L339.11 660.82 L339.42 661.07 L339.73 661.3 L340.05 661.49 L340.36 661.65 L340.67 661.77 L340.98 661.86 L341.29 661.93 L341.6 661.96 L341.92 661.96 L342.23 661.93 L342.54 661.88 L342.85 661.8 L343.16 661.7 L343.47 661.59 L343.79 661.45 L344.1 661.3 L344.41 661.14 L344.72 660.97 L345.03 660.79 L345.34 660.6 L345.66 660.42 L345.97 660.23 L346.28 660.05 L346.59 659.88 L346.9 659.71 L347.21 659.56 L347.52 659.42 L347.84 659.29 L348.15 659.18 L348.46 659.09 L348.77 659.01 L349.08 658.96 L349.39 658.93 L349.71 658.92 L350.02 658.94 L350.33 658.97 L350.64 659.03 L350.95 659.11 L351.26 659.21 L351.58 659.33 L351.89 659.47 L352.2 659.63 L352.51 659.8 L352.82 659.99 L353.13 660.2 L353.45 660.41 L353.76 660.63 L354.07 660.86 L354.38 661.1 L354.69 661.33 L355 661.57 L355.32 661.81 L355.63 662.04 L355.94 662.26 L356.25 662.48 L356.56 662.69 L356.88 662.89 L357.19 663.07 L357.5 663.24 L357.81 663.39 L358.12 663.52 L358.43 663.64 L358.75 663.74 L359.06 663.82 L359.37 663.88 L359.68 663.92 L359.99 663.95 L360.3 663.95 L360.62 663.94 L360.93 663.92 L361.24 663.88 L361.55 663.82 L361.86 663.75 L362.17 663.68 L362.49 663.59 L362.8 663.5 L363.11 663.41 L363.42 663.31 L363.73 663.21 L364.04 663.12 L364.36 663.03 L364.67 662.94 L364.98 662.87 L365.29 662.8 L365.6 662.75 L365.91 662.71 L366.23 662.69 L366.54 662.69 L366.85 662.71 L367.16 662.74 L367.47 662.8 L367.78 662.88 L368.1 662.98 L368.41 663.1 L368.72 663.25 L369.03 663.42 L369.34 663.61 L369.65 663.82 L369.96 664.05 L370.28 664.29 L370.59 664.56 L370.9 664.84 L371.21 665.13 L371.52 665.44 L371.83 665.75 L372.15 666.07 L372.46 666.4 L372.77 666.72 L373.08 667.05 L373.39 667.37 L373.7 667.69 L374.02 668 L374.33 668.29 L374.64 668.57 L374.95 668.84 L375.26 669.09 L375.57 669.32 L375.89 669.52 L376.2 669.7 L376.51 669.85 L376.82 669.98 L377.13 670.08 L377.44 670.14 L377.76 670.18 L378.07 670.19 L378.38 670.17 L378.69 670.11 L379 670.03 L379.31 669.91 L379.63 669.77 L379.94 669.6 L380.25 669.4 L380.56 669.18 L380.87 668.93 L381.19 668.67 L381.5 668.38 L381.81 668.08 L382.12 667.76 L382.43 667.44 L382.74 667.1 L383.06 666.76 L383.37 666.41 L383.68 666.07 L383.99 665.72 L384.3 665.38 L384.61 665.04 L384.93 664.72 L385.24 664.41 L385.55 664.1 L385.86 663.82 L386.17 663.55 L386.48 663.3 L386.79 663.07 L387.11 662.86 L387.42 662.67 L387.73 662.51 L388.04 662.37 L388.35 662.25 L388.66 662.15 L388.98 662.08 L389.29 662.03 L389.6 662 L389.91 661.99 L390.22 662 L390.53 662.03 L390.85 662.07 L391.16 662.13 L391.47 662.2 L391.78 662.28 L392.09 662.37 L392.4 662.46 L392.72 662.56 L393.03 662.66 L393.34 662.76 L393.65 662.86 L393.96 662.95 L394.27 663.04 L394.59 663.12 L394.9 663.19 L395.21 663.25 L395.52 663.3 L395.83 663.34 L396.14 663.36 L396.46 663.36 L396.77 663.35 L397.08 663.32 L397.39 663.28 L397.7 663.22 L398.01 663.15 L398.33 663.06 L398.64 662.96 L398.95 662.84 L399.26 662.71 L399.57 662.57 L399.88 662.43 L400.2 662.27 L400.51 662.12 L400.82 661.96 L401.13 661.79 L401.44 661.63 L401.75 661.48 L402.07 661.33 L402.38 661.19 L402.69 661.06 L403 660.94 L403.31 660.83 L403.62 660.75 L403.94 660.68 L404.25 660.63 L404.56 660.61 L404.87 660.61 L405.18 660.63 L405.5 660.68 L405.81 660.76 L406.12 660.86 L406.43 660.99 L406.74 661.15 L407.05 661.33 L407.37 661.54 L407.68 661.78 L407.99 662.04 L408.3 662.32 L408.61 662.63 L408.92 662.96 L409.24 663.3 L409.55 663.66 L409.86 664.03 L410.17 664.42 L410.48 664.81 L410.79 665.21 L411.11 665.62 L411.42 666.02 L411.73 666.42 L412.04 666.82 L412.35 667.21 L412.66 667.59 L412.98 667.96 L413.29 668.31 L413.6 668.64 L413.91 668.95 L414.22 669.24 L414.53 669.51 L414.84 669.75 L415.16 669.96 L415.47 670.14 L415.78 670.3 L416.09 670.42 L416.4 670.52 L416.71 670.58 L417.03 670.61 L417.34 670.61 L417.65 670.59 L417.96 670.53 L418.27 670.45 L418.58 670.33 L418.9 670.2 L419.21 670.04 L419.52 669.86 L419.83 669.66 L420.14 669.44 L420.45 669.21 L420.77 668.97 L421.08 668.71 L421.39 668.45 L421.7 668.18 L422.01 667.92 L422.32 667.65 L422.64 667.38 L422.95 667.12 L423.26 666.86 L423.57 666.61 L423.88 666.38 L424.19 666.15 L424.51 665.94 L424.82 665.75 L425.13 665.57 L425.44 665.41 L425.75 665.26 L426.06 665.14 L426.38 665.03 L426.69 664.94 L427 664.87 L427.31 664.82 L427.62 664.78 L427.94 664.76 L428.25 664.75 L428.56 664.75 L428.87 664.77 L429.18 664.8 L429.49 664.83 L429.8 664.88 L430.12 664.92 L430.43 664.97 L430.74 665.02 L431.05 665.07 L431.36 665.11 L431.67 665.15 L431.99 665.18 L432.3 665.2 L432.61 665.21 L432.92 665.21 L433.23 665.19 L433.54 665.16 L433.86 665.11 L434.17 665.04 L434.48 664.96 L434.79 664.86 L435.1 664.73 L435.41 664.59 L435.73 664.43 L436.04 664.26 L436.35 664.06 L436.66 663.85 L436.97 663.63 L437.28 663.39 L437.6 663.14 L437.91 662.88 L438.22 662.61 L438.53 662.33 L438.84 662.05 L439.15 661.77 L439.47 661.49 L439.78 661.22 L440.09 660.95 L440.4 660.68 L440.71 660.43 L441.02 660.19 L441.34 659.97 L441.65 659.77 L441.96 659.58 L442.27 659.42 L442.58 659.28 L442.89 659.17 L443.21 659.08 L443.52 659.02 L443.83 658.99 L444.14 658.99 L444.45 659.02 L444.76 659.09 L445.08 659.18 L445.39 659.3 L445.7 659.45 L446.01 659.63 L446.32 659.84 L446.63 660.08 L446.95 660.34 L447.26 660.62 L447.57 660.93 L447.88 661.26 L448.19 661.6 L448.5 661.95 L448.82 662.32 L449.13 662.7 L449.44 663.09 L449.75 663.47 L450.06 663.86 L450.38 664.25 L450.69 664.64 L451 665.01 L451.31 665.38 L451.62 665.73 L451.93 666.08 L452.25 666.4 L452.56 666.7 L452.87 666.99 L453.18 667.25 L453.49 667.49 L453.8 667.71 L454.12 667.9 L454.43 668.06 L454.74 668.2 L455.05 668.31 L455.36 668.39 L455.67 668.45 L455.99 668.48 L456.3 668.49 L456.61 668.48 L456.92 668.44 L457.23 668.38 L457.54 668.3 L457.86 668.21 L458.17 668.1 L458.48 667.98 L458.79 667.84 L459.1 667.7 L459.41 667.55 L459.72 667.4 L460.04 667.24 L460.35 667.09 L460.66 666.93 L460.97 666.79 L461.28 666.65 L461.59 666.51 L461.91 666.39 L462.22 666.28 L462.53 666.18 L462.84 666.1 L463.15 666.03 L463.46 665.98 L463.78 665.94 L464.09 665.92 L464.4 665.92" fill="none" stroke="#000" stroke-width="0.85"/>
<path d="M314.8 574.42 L315.11 576.43 L315.42 578.41 L315.74 580.36 L316.05 582.27 L316.36 584.15 L316.67 585.99 L316.98 587.81 L317.29 589.59 L317.61 591.34 L317.92 593.06 L318.23 594.75 L318.54 596.41 L318.85 598.04 L319.16 599.63 L319.48 601.19 L319.79 602.71 L320.1 604.2 L320.41 605.65 L320.72 607.07 L321.03 608.45 L321.35 609.78 L321.66 611.08 L321.97 612.34 L322.28 613.55 L322.59 614.73 L322.9 615.86 L323.22 616.95 L323.53 617.99 L323.84 619 L324.15 619.96 L324.46 620.87 L324.77 621.75 L325.09 622.59 L325.4 623.39 L325.71 624.15 L326.02 624.87 L326.33 625.55 L326.64 626.2 L326.95 626.82 L327.27 627.41 L327.58 627.97 L327.89 628.5 L328.2 629.01 L328.51 629.5 L328.82 629.97 L329.14 630.41 L329.45 630.85 L329.76 631.26 L330.07 631.67 L330.38 632.07 L330.69 632.46 L331.01 632.84 L331.32 633.22 L331.63 633.6 L331.94 633.98 L332.25 634.36 L332.56 634.74 L332.88 635.13 L333.19 635.52 L333.5 635.91 L333.81 636.31 L334.12 636.72 L334.44 637.13 L334.75 637.55 L335.06 637.98 L335.37 638.41 L335.68 638.85 L335.99 639.29 L336.31 639.73 L336.62 640.18 L336.93 640.63 L337.24 641.09 L337.55 641.54 L337.86 641.99 L338.18 642.44 L338.49 642.89 L338.8 643.33 L339.11 643.77 L339.42 644.2 L339.73 644.62 L340.05 645.03 L340.36 645.43 L340.67 645.82 L340.98 646.19 L341.29 646.55 L341.6 646.9 L341.92 647.23 L342.23 647.55 L342.54 647.85 L342.85 648.13 L343.16 648.4 L343.47 648.65 L343.79 648.89 L344.1 649.11 L344.41 649.31 L344.72 649.5 L345.03 649.67 L345.34 649.84 L345.66 649.98 L345.97 650.12 L346.28 650.25 L346.59 650.36 L346.9 650.47 L347.21 650.57 L347.52 650.67 L347.84 650.76 L348.15 650.85 L348.46 650.93 L348.77 651.02 L349.08 651.11 L349.39 651.19 L349.71 651.28 L350.02 651.38 L350.33 651.47 L350.64 651.58 L350.95 651.69 L351.26 651.8 L351.58 651.93 L351.89 652.06 L352.2 652.2 L352.51 652.34 L352.82 652.5 L353.13 652.66 L353.45 652.83 L353.76 653 L354.07 653.18 L354.38 653.37 L354.69 653.56 L355 653.76 L355.32 653.96 L355.63 654.16 L355.94 654.36 L356.25 654.56 L356.56 654.76 L356.88 654.95 L357.19 655.14 L357.5 655.33 L357.81 655.51 L358.12 655.68 L358.43 655.84 L358.75 656 L359.06 656.14 L359.37 656.27 L359.68 656.39 L359.99 656.5 L360.3 656.59 L360.62 656.67 L360.93 656.73 L361.24 656.78 L361.55 656.82 L361.86 656.84 L362.17 656.85 L362.49 656.85 L362.8 656.83 L363.11 656.8 L363.42 656.76 L363.73 656.71 L364.04 656.65 L364.36 656.58 L364.67 656.51 L364.98 656.43 L365.29 656.35 L365.6 656.27 L365.91 656.18 L366.23 656.1 L366.54 656.02 L366.85 655.94 L367.16 655.88 L367.47 655.82 L367.78 655.76 L368.1 655.72 L368.41 655.69 L368.72 655.68 L369.03 655.68 L369.34 655.69 L369.65 655.72 L369.96 655.77 L370.28 655.84 L370.59 655.92 L370.9 656.03 L371.21 656.15 L371.52 656.29 L371.83 656.45 L372.15 656.62 L372.46 656.81 L372.77 657.02 L373.08 657.25 L373.39 657.49 L373.7 657.74 L374.02 658 L374.33 658.27 L374.64 658.55 L374.95 658.84 L375.26 659.13 L375.57 659.42 L375.89 659.72 L376.2 660.01 L376.51 660.3 L376.82 660.58 L377.13 660.86 L377.44 661.12 L377.76 661.37 L378.07 661.61 L378.38 661.84 L378.69 662.04 L379 662.23 L379.31 662.4 L379.63 662.54 L379.94 662.66 L380.25 662.76 L380.56 662.83 L380.87 662.88 L381.19 662.9 L381.5 662.9 L381.81 662.87 L382.12 662.81 L382.43 662.73 L382.74 662.62 L383.06 662.49 L383.37 662.33 L383.68 662.15 L383.99 661.95 L384.3 661.73 L384.61 661.5 L384.93 661.24 L385.24 660.97 L385.55 660.69 L385.86 660.4 L386.17 660.09 L386.48 659.78 L386.79 659.47 L387.11 659.15 L387.42 658.83 L387.73 658.51 L388.04 658.2 L388.35 657.89 L388.66 657.59 L388.98 657.3 L389.29 657.01 L389.6 656.74 L389.91 656.49 L390.22 656.25 L390.53 656.02 L390.85 655.81 L391.16 655.62 L391.47 655.45 L391.78 655.3 L392.09 655.17 L392.4 655.05 L392.72 654.96 L393.03 654.88 L393.34 654.82 L393.65 654.78 L393.96 654.76 L394.27 654.75 L394.59 654.76 L394.9 654.79 L395.21 654.82 L395.52 654.87 L395.83 654.93 L396.14 655 L396.46 655.07 L396.77 655.15 L397.08 655.24 L397.39 655.33 L397.7 655.42 L398.01 655.5 L398.33 655.59 L398.64 655.68 L398.95 655.76 L399.26 655.83 L399.57 655.9 L399.88 655.96 L400.2 656.01 L400.51 656.05 L400.82 656.08 L401.13 656.1 L401.44 656.12 L401.75 656.12 L402.07 656.1 L402.38 656.08 L402.69 656.05 L403 656.01 L403.31 655.96 L403.62 655.89 L403.94 655.82 L404.25 655.75 L404.56 655.66 L404.87 655.57 L405.18 655.48 L405.5 655.38 L405.81 655.28 L406.12 655.19 L406.43 655.09 L406.74 654.99 L407.05 654.89 L407.37 654.8 L407.68 654.72 L407.99 654.64 L408.3 654.56 L408.61 654.5 L408.92 654.45 L409.24 654.4 L409.55 654.37 L409.86 654.34 L410.17 654.33 L410.48 654.33 L410.79 654.35 L411.11 654.37 L411.42 654.41 L411.73 654.45 L412.04 654.51 L412.35 654.58 L412.66 654.66 L412.98 654.75 L413.29 654.85 L413.6 654.96 L413.91 655.07 L414.22 655.18 L414.53 655.31 L414.84 655.43 L415.16 655.56 L415.47 655.68 L415.78 655.81 L416.09 655.94 L416.4 656.06 L416.71 656.17 L417.03 656.28 L417.34 656.39 L417.65 656.48 L417.96 656.57 L418.27 656.65 L418.58 656.71 L418.9 656.77 L419.21 656.82 L419.52 656.85 L419.83 656.87 L420.14 656.88 L420.45 656.87 L420.77 656.86 L421.08 656.83 L421.39 656.79 L421.7 656.75 L422.01 656.69 L422.32 656.62 L422.64 656.55 L422.95 656.47 L423.26 656.39 L423.57 656.3 L423.88 656.21 L424.19 656.12 L424.51 656.03 L424.82 655.94 L425.13 655.85 L425.44 655.78 L425.75 655.71 L426.06 655.64 L426.38 655.59 L426.69 655.55 L427 655.53 L427.31 655.51 L427.62 655.52 L427.94 655.54 L428.25 655.57 L428.56 655.63 L428.87 655.7 L429.18 655.8 L429.49 655.91 L429.8 656.05 L430.12 656.2 L430.43 656.37 L430.74 656.56 L431.05 656.77 L431.36 657 L431.67 657.24 L431.99 657.5 L432.3 657.77 L432.61 658.06 L432.92 658.36 L433.23 658.66 L433.54 658.97 L433.86 659.29 L434.17 659.62 L434.48 659.94 L434.79 660.27 L435.1 660.59 L435.41 660.91 L435.73 661.22 L436.04 661.52 L436.35 661.81 L436.66 662.08 L436.97 662.35 L437.28 662.59 L437.6 662.82 L437.91 663.03 L438.22 663.22 L438.53 663.38 L438.84 663.52 L439.15 663.64 L439.47 663.73 L439.78 663.79 L440.09 663.83 L440.4 663.84 L440.71 663.83 L441.02 663.79 L441.34 663.72 L441.65 663.63 L441.96 663.52 L442.27 663.38 L442.58 663.22 L442.89 663.04 L443.21 662.83 L443.52 662.62 L443.83 662.38 L444.14 662.13 L444.45 661.87 L444.76 661.6 L445.08 661.32 L445.39 661.03 L445.7 660.74 L446.01 660.45 L446.32 660.15 L446.63 659.86 L446.95 659.57 L447.26 659.29 L447.57 659.02 L447.88 658.75 L448.19 658.5 L448.5 658.26 L448.82 658.03 L449.13 657.81 L449.44 657.62 L449.75 657.44 L450.06 657.27 L450.38 657.13 L450.69 657 L451 656.89 L451.31 656.8 L451.62 656.73 L451.93 656.67 L452.25 656.63 L452.56 656.61 L452.87 656.61 L453.18 656.62 L453.49 656.64 L453.8 656.68 L454.12 656.72 L454.43 656.78 L454.74 656.85 L455.05 656.92 L455.36 657 L455.67 657.08 L455.99 657.16 L456.3 657.25 L456.61 657.34 L456.92 657.42 L457.23 657.5 L457.54 657.57 L457.86 657.64 L458.17 657.7 L458.48 657.76 L458.79 657.8 L459.1 657.84 L459.41 657.86 L459.72 657.87 L460.04 657.88 L460.35 657.87 L460.66 657.85 L460.97 657.81 L461.28 657.77 L461.59 657.71 L461.91 657.65 L462.22 657.57 L462.53 657.49 L462.84 657.39 L463.15 657.29 L463.46 657.18 L463.78 657.07 L464.09 656.95 L464.4 656.83" fill="none" stroke="#000" stroke-width="0.85"/>
<path d="M314.8 563.92 L315.11 566.03 L315.42 568.08 L315.74 570.06 L316.05 571.99 L316.36 573.85 L316.67 575.65 L316.98 577.4 L317.29 579.09 L317.61 580.73 L317.92 582.31 L318.23 583.85 L318.54 585.34 L318.85 586.78 L319.16 588.17 L319.48 589.53 L319.79 590.84 L320.1 592.12 L320.41 593.36 L320.72 594.56 L321.03 595.74 L321.35 596.89 L321.66 598.01 L321.97 599.11 L322.28 600.18 L322.59 601.24 L322.9 602.27 L323.22 603.29 L323.53 604.29 L323.84 605.28 L324.15 606.25 L324.46 607.21 L324.77 608.15 L325.09 609.09 L325.4 610.01 L325.71 610.92 L326.02 611.82 L326.33 612.7 L326.64 613.58 L326.95 614.44 L327.27 615.28 L327.58 616.12 L327.89 616.93 L328.2 617.73 L328.51 618.52 L328.82 619.28 L329.14 620.03 L329.45 620.75 L329.76 621.46 L330.07 622.14 L330.38 622.8 L330.69 623.43 L331.01 624.04 L331.32 624.63 L331.63 625.19 L331.94 625.72 L332.25 626.23 L332.56 626.72 L332.88 627.18 L333.19 627.61 L333.5 628.02 L333.81 628.4 L334.12 628.77 L334.44 629.11 L334.75 629.43 L335.06 629.73 L335.37 630.01 L335.68 630.27 L335.99 630.53 L336.31 630.76 L336.62 630.99 L336.93 631.21 L337.24 631.41 L337.55 631.62 L337.86 631.81 L338.18 632.01 L338.49 632.2 L338.8 632.39 L339.11 632.59 L339.42 632.78 L339.73 632.99 L340.05 633.19 L340.36 633.41 L340.67 633.63 L340.98 633.85 L341.29 634.08 L341.6 634.33 L341.92 634.58 L342.23 634.83 L342.54 635.09 L342.85 635.36 L343.16 635.64 L343.47 635.92 L343.79 636.2 L344.1 636.48 L344.41 636.77 L344.72 637.06 L345.03 637.34 L345.34 637.62 L345.66 637.9 L345.97 638.17 L346.28 638.43 L346.59 638.68 L346.9 638.92 L347.21 639.14 L347.52 639.35 L347.84 639.55 L348.15 639.73 L348.46 639.89 L348.77 640.03 L349.08 640.16 L349.39 640.26 L349.71 640.34 L350.02 640.4 L350.33 640.44 L350.64 640.46 L350.95 640.46 L351.26 640.45 L351.58 640.41 L351.89 640.35 L352.2 640.28 L352.51 640.19 L352.82 640.09 L353.13 639.97 L353.45 639.85 L353.76 639.71 L354.07 639.57 L354.38 639.43 L354.69 639.28 L355 639.12 L355.32 638.97 L355.63 638.83 L355.94 638.69 L356.25 638.55 L356.56 638.42 L356.88 638.3 L357.19 638.2 L357.5 638.11 L357.81 638.03 L358.12 637.97 L358.43 637.92 L358.75 637.89 L359.06 637.88 L359.37 637.89 L359.68 637.91 L359.99 637.96 L360.3 638.02 L360.62 638.1 L360.93 638.2 L361.24 638.32 L361.55 638.45 L361.86 638.59 L362.17 638.75 L362.49 638.92 L362.8 639.1 L363.11 639.29 L363.42 639.48 L363.73 639.69 L364.04 639.89 L364.36 640.1 L364.67 640.31 L364.98 640.52 L365.29 640.73 L365.6 640.93 L365.91 641.12 L366.23 641.31 L366.54 641.49 L366.85 641.66 L367.16 641.82 L367.47 641.97 L367.78 642.11 L368.1 642.23 L368.41 642.34 L368.72 642.44 L369.03 642.52 L369.34 642.59 L369.65 642.65 L369.96 642.69 L370.28 642.73 L370.59 642.75 L370.9 642.76 L371.21 642.76 L371.52 642.75 L371.83 642.74 L372.15 642.72 L372.46 642.69 L372.77 642.66 L373.08 642.63 L373.39 642.59 L373.7 642.56 L374.02 642.53 L374.33 642.49 L374.64 642.47 L374.95 642.44 L375.26 642.42 L375.57 642.41 L375.89 642.4 L376.2 642.4 L376.51 642.41 L376.82 642.42 L377.13 642.44 L377.44 642.47 L377.76 642.51 L378.07 642.55 L378.38 642.6 L378.69 642.65 L379 642.71 L379.31 642.77 L379.63 642.84 L379.94 642.9 L380.25 642.97 L380.56 643.04 L380.87 643.1 L381.19 643.17 L381.5 643.22 L381.81 643.28 L382.12 643.32 L382.43 643.36 L382.74 643.39 L383.06 643.41 L383.37 643.41 L383.68 643.41 L383.99 643.39 L384.3 643.36 L384.61 643.32 L384.93 643.26 L385.24 643.19 L385.55 643.11 L385.86 643.01 L386.17 642.9 L386.48 642.78 L386.79 642.64 L387.11 642.5 L387.42 642.35 L387.73 642.18 L388.04 642.02 L388.35 641.84 L388.66 641.66 L388.98 641.48 L389.29 641.3 L389.6 641.12 L389.91 640.95 L390.22 640.78 L390.53 640.61 L390.85 640.46 L391.16 640.31 L391.47 640.17 L391.78 640.05 L392.09 639.94 L392.4 639.85 L392.72 639.78 L393.03 639.72 L393.34 639.68 L393.65 639.66 L393.96 639.66 L394.27 639.68 L394.59 639.72 L394.9 639.77 L395.21 639.85 L395.52 639.95 L395.83 640.06 L396.14 640.19 L396.46 640.34 L396.77 640.5 L397.08 640.67 L397.39 640.86 L397.7 641.05 L398.01 641.25 L398.33 641.46 L398.64 641.67 L398.95 641.89 L399.26 642.1 L399.57 642.31 L399.88 642.51 L400.2 642.71 L400.51 642.9 L400.82 643.08 L401.13 643.25 L401.44 643.41 L401.75 643.54 L402.07 643.67 L402.38 643.77 L402.69 643.86 L403 643.93 L403.31 643.98 L403.62 644.01 L403.94 644.02 L404.25 644 L404.56 643.97 L404.87 643.92 L405.18 643.85 L405.5 643.77 L405.81 643.66 L406.12 643.55 L406.43 643.42 L406.74 643.27 L407.05 643.12 L407.37 642.95 L407.68 642.78 L407.99 642.61 L408.3 642.43 L408.61 642.25 L408.92 642.08 L409.24 641.9 L409.55 641.73 L409.86 641.57 L410.17 641.42 L410.48 641.27 L410.79 641.14 L411.11 641.02 L411.42 640.92 L411.73 640.83 L412.04 640.76 L412.35 640.71 L412.66 640.67 L412.98 640.65 L413.29 640.65 L413.6 640.67 L413.91 640.71 L414.22 640.76 L414.53 640.83 L414.84 640.92 L415.16 641.02 L415.47 641.14 L415.78 641.26 L416.09 641.4 L416.4 641.55 L416.71 641.71 L417.03 641.87 L417.34 642.04 L417.65 642.21 L417.96 642.38 L418.27 642.55 L418.58 642.72 L418.9 642.88 L419.21 643.04 L419.52 643.19 L419.83 643.33 L420.14 643.46 L420.45 643.58 L420.77 643.69 L421.08 643.78 L421.39 643.87 L421.7 643.93 L422.01 643.98 L422.32 644.02 L422.64 644.04 L422.95 644.05 L423.26 644.04 L423.57 644.02 L423.88 643.98 L424.19 643.93 L424.51 643.87 L424.82 643.8 L425.13 643.71 L425.44 643.62 L425.75 643.52 L426.06 643.42 L426.38 643.31 L426.69 643.19 L427 643.07 L427.31 642.95 L427.62 642.83 L427.94 642.72 L428.25 642.6 L428.56 642.49 L428.87 642.38 L429.18 642.28 L429.49 642.18 L429.8 642.09 L430.12 642.01 L430.43 641.93 L430.74 641.87 L431.05 641.81 L431.36 641.75 L431.67 641.71 L431.99 641.67 L432.3 641.64 L432.61 641.62 L432.92 641.6 L433.23 641.59 L433.54 641.58 L433.86 641.58 L434.17 641.58 L434.48 641.58 L434.79 641.58 L435.1 641.58 L435.41 641.57 L435.73 641.57 L436.04 641.56 L436.35 641.55 L436.66 641.53 L436.97 641.51 L437.28 641.48 L437.6 641.45 L437.91 641.41 L438.22 641.36 L438.53 641.3 L438.84 641.24 L439.15 641.17 L439.47 641.1 L439.78 641.02 L440.09 640.93 L440.4 640.84 L440.71 640.75 L441.02 640.65 L441.34 640.56 L441.65 640.46 L441.96 640.37 L442.27 640.28 L442.58 640.19 L442.89 640.11 L443.21 640.04 L443.52 639.97 L443.83 639.92 L444.14 639.88 L444.45 639.85 L444.76 639.84 L445.08 639.84 L445.39 639.86 L445.7 639.9 L446.01 639.95 L446.32 640.03 L446.63 640.12 L446.95 640.24 L447.26 640.37 L447.57 640.52 L447.88 640.7 L448.19 640.89 L448.5 641.1 L448.82 641.33 L449.13 641.57 L449.44 641.83 L449.75 642.1 L450.06 642.38 L450.38 642.67 L450.69 642.96 L451 643.27 L451.31 643.57 L451.62 643.88 L451.93 644.18 L452.25 644.48 L452.56 644.77 L452.87 645.05 L453.18 645.32 L453.49 645.58 L453.8 645.82 L454.12 646.04 L454.43 646.24 L454.74 646.42 L455.05 646.57 L455.36 646.7 L455.67 646.8 L455.99 646.87 L456.3 646.92 L456.61 646.93 L456.92 646.92 L457.23 646.87 L457.54 646.79 L457.86 646.69 L458.17 646.55 L458.48 646.39 L458.79 646.19 L459.1 645.97 L459.41 645.73 L459.72 645.47 L460.04 645.18 L460.35 644.87 L460.66 644.55 L460.97 644.22 L461.28 643.87 L461.59 643.51 L461.91 643.15 L462.22 642.78 L462.53 642.41 L462.84 642.04 L463.15 641.68 L463.46 641.32 L463.78 640.97 L464.09 640.63 L464.4 640.3" fill="none" stroke="#000" stroke-width="0.85"/>
<path d="M314.8 577.64 L315.11 580.07 L315.42 582.42 L315.74 584.68 L316.05 586.86 L316.36 588.97 L316.67 591 L316.98 592.97 L317.29 594.86 L317.61 596.69 L317.92 598.46 L318.23 600.18 L318.54 601.83 L318.85 603.44 L319.16 604.99 L319.48 606.5 L319.79 607.97 L320.1 609.39 L320.41 610.78 L320.72 612.12 L321.03 613.44 L321.35 614.72 L321.66 615.98 L321.97 617.2 L322.28 618.4 L322.59 619.57 L322.9 620.72 L323.22 621.85 L323.53 622.95 L323.84 624.02 L324.15 625.08 L324.46 626.12 L324.77 627.13 L325.09 628.12 L325.4 629.08 L325.71 630.03 L326.02 630.95 L326.33 631.85 L326.64 632.72 L326.95 633.57 L327.27 634.4 L327.58 635.2 L327.89 635.97 L328.2 636.72 L328.51 637.44 L328.82 638.14 L329.14 638.8 L329.45 639.44 L329.76 640.05 L330.07 640.64 L330.38 641.2 L330.69 641.73 L331.01 642.24 L331.32 642.72 L331.63 643.17 L331.94 643.61 L332.25 644.02 L332.56 644.41 L332.88 644.78 L333.19 645.13 L333.5 645.46 L333.81 645.78 L334.12 646.09 L334.44 646.38 L334.75 646.66 L335.06 646.94 L335.37 647.21 L335.68 647.47 L335.99 647.73 L336.31 647.99 L336.62 648.25 L336.93 648.51 L337.24 648.77 L337.55 649.04 L337.86 649.32 L338.18 649.6 L338.49 649.89 L338.8 650.19 L339.11 650.5 L339.42 650.81 L339.73 651.14 L340.05 651.48 L340.36 651.83 L340.67 652.19 L340.98 652.56 L341.29 652.94 L341.6 653.32 L341.92 653.72 L342.23 654.12 L342.54 654.52 L342.85 654.93 L343.16 655.34 L343.47 655.75 L343.79 656.16 L344.1 656.57 L344.41 656.98 L344.72 657.37 L345.03 657.76 L345.34 658.14 L345.66 658.51 L345.97 658.87 L346.28 659.21 L346.59 659.53 L346.9 659.83 L347.21 660.12 L347.52 660.38 L347.84 660.63 L348.15 660.85 L348.46 661.04 L348.77 661.21 L349.08 661.36 L349.39 661.48 L349.71 661.57 L350.02 661.64 L350.33 661.69 L350.64 661.71 L350.95 661.7 L351.26 661.67 L351.58 661.62 L351.89 661.55 L352.2 661.46 L352.51 661.35 L352.82 661.23 L353.13 661.09 L353.45 660.94 L353.76 660.77 L354.07 660.6 L354.38 660.42 L354.69 660.24 L355 660.05 L355.32 659.87 L355.63 659.68 L355.94 659.5 L356.25 659.33 L356.56 659.16 L356.88 659.01 L357.19 658.86 L357.5 658.73 L357.81 658.61 L358.12 658.51 L358.43 658.43 L358.75 658.36 L359.06 658.32 L359.37 658.29 L359.68 658.29 L359.99 658.3 L360.3 658.34 L360.62 658.4 L360.93 658.47 L361.24 658.57 L361.55 658.69 L361.86 658.82 L362.17 658.97 L362.49 659.14 L362.8 659.33 L363.11 659.53 L363.42 659.74 L363.73 659.96 L364.04 660.19 L364.36 660.43 L364.67 660.67 L364.98 660.92 L365.29 661.16 L365.6 661.41 L365.91 661.66 L366.23 661.91 L366.54 662.15 L366.85 662.38 L367.16 662.6 L367.47 662.82 L367.78 663.02 L368.1 663.22 L368.41 663.4 L368.72 663.56 L369.03 663.72 L369.34 663.85 L369.65 663.98 L369.96 664.08 L370.28 664.17 L370.59 664.25 L370.9 664.31 L371.21 664.36 L371.52 664.39 L371.83 664.41 L372.15 664.42 L372.46 664.42 L372.77 664.4 L373.08 664.38 L373.39 664.35 L373.7 664.31 L374.02 664.27 L374.33 664.23 L374.64 664.18 L374.95 664.13 L375.26 664.08 L375.57 664.04 L375.89 664 L376.2 663.96 L376.51 663.93 L376.82 663.91 L377.13 663.9 L377.44 663.89 L377.76 663.9 L378.07 663.92 L378.38 663.94 L378.69 663.98 L379 664.03 L379.31 664.09 L379.63 664.16 L379.94 664.25 L380.25 664.34 L380.56 664.45 L380.87 664.56 L381.19 664.68 L381.5 664.81 L381.81 664.94 L382.12 665.08 L382.43 665.22 L382.74 665.36 L383.06 665.5 L383.37 665.64 L383.68 665.78 L383.99 665.91 L384.3 666.03 L384.61 666.15 L384.93 666.25 L385.24 666.34 L385.55 666.42 L385.86 666.48 L386.17 666.53 L386.48 666.55 L386.79 666.56 L387.11 666.55 L387.42 666.51 L387.73 666.45 L388.04 666.37 L388.35 666.27 L388.66 666.14 L388.98 665.99 L389.29 665.82 L389.6 665.62 L389.91 665.4 L390.22 665.16 L390.53 664.9 L390.85 664.62 L391.16 664.33 L391.47 664.01 L391.78 663.68 L392.09 663.34 L392.4 662.98 L392.72 662.62 L393.03 662.24 L393.34 661.87 L393.65 661.49 L393.96 661.1 L394.27 660.72 L394.59 660.35 L394.9 659.98 L395.21 659.61 L395.52 659.26 L395.83 658.92 L396.14 658.59 L396.46 658.28 L396.77 657.99 L397.08 657.72 L397.39 657.47 L397.7 657.24 L398.01 657.03 L398.33 656.85 L398.64 656.69 L398.95 656.56 L399.26 656.45 L399.57 656.37 L399.88 656.32 L400.2 656.29 L400.51 656.29 L400.82 656.31 L401.13 656.36 L401.44 656.43 L401.75 656.52 L402.07 656.63 L402.38 656.76 L402.69 656.91 L403 657.08 L403.31 657.26 L403.62 657.45 L403.94 657.65 L404.25 657.86 L404.56 658.07 L404.87 658.29 L405.18 658.52 L405.5 658.74 L405.81 658.96 L406.12 659.18 L406.43 659.4 L406.74 659.61 L407.05 659.81 L407.37 660 L407.68 660.18 L407.99 660.36 L408.3 660.51 L408.61 660.66 L408.92 660.79 L409.24 660.91 L409.55 661.02 L409.86 661.1 L410.17 661.18 L410.48 661.24 L410.79 661.29 L411.11 661.33 L411.42 661.35 L411.73 661.36 L412.04 661.36 L412.35 661.36 L412.66 661.34 L412.98 661.32 L413.29 661.3 L413.6 661.27 L413.91 661.23 L414.22 661.2 L414.53 661.17 L414.84 661.14 L415.16 661.11 L415.47 661.09 L415.78 661.07 L416.09 661.06 L416.4 661.06 L416.71 661.07 L417.03 661.09 L417.34 661.13 L417.65 661.17 L417.96 661.23 L418.27 661.3 L418.58 661.38 L418.9 661.48 L419.21 661.59 L419.52 661.71 L419.83 661.84 L420.14 661.99 L420.45 662.15 L420.77 662.31 L421.08 662.49 L421.39 662.67 L421.7 662.86 L422.01 663.06 L422.32 663.26 L422.64 663.46 L422.95 663.66 L423.26 663.86 L423.57 664.06 L423.88 664.25 L424.19 664.44 L424.51 664.62 L424.82 664.79 L425.13 664.95 L425.44 665.09 L425.75 665.23 L426.06 665.34 L426.38 665.44 L426.69 665.53 L427 665.59 L427.31 665.64 L427.62 665.66 L427.94 665.67 L428.25 665.66 L428.56 665.62 L428.87 665.57 L429.18 665.49 L429.49 665.4 L429.8 665.29 L430.12 665.16 L430.43 665.02 L430.74 664.86 L431.05 664.68 L431.36 664.49 L431.67 664.3 L431.99 664.09 L432.3 663.87 L432.61 663.65 L432.92 663.43 L433.23 663.21 L433.54 662.98 L433.86 662.76 L434.17 662.54 L434.48 662.33 L434.79 662.13 L435.1 661.94 L435.41 661.76 L435.73 661.59 L436.04 661.44 L436.35 661.31 L436.66 661.2 L436.97 661.1 L437.28 661.03 L437.6 660.97 L437.91 660.94 L438.22 660.93 L438.53 660.94 L438.84 660.98 L439.15 661.03 L439.47 661.11 L439.78 661.21 L440.09 661.33 L440.4 661.47 L440.71 661.63 L441.02 661.81 L441.34 662 L441.65 662.21 L441.96 662.43 L442.27 662.66 L442.58 662.9 L442.89 663.14 L443.21 663.39 L443.52 663.65 L443.83 663.9 L444.14 664.15 L444.45 664.4 L444.76 664.65 L445.08 664.89 L445.39 665.11 L445.7 665.33 L446.01 665.53 L446.32 665.72 L446.63 665.9 L446.95 666.05 L447.26 666.19 L447.57 666.31 L447.88 666.4 L448.19 666.48 L448.5 666.54 L448.82 666.57 L449.13 666.58 L449.44 666.57 L449.75 666.54 L450.06 666.49 L450.38 666.42 L450.69 666.32 L451 666.21 L451.31 666.08 L451.62 665.94 L451.93 665.78 L452.25 665.61 L452.56 665.42 L452.87 665.23 L453.18 665.03 L453.49 664.82 L453.8 664.6 L454.12 664.38 L454.43 664.17 L454.74 663.95 L455.05 663.73 L455.36 663.52 L455.67 663.31 L455.99 663.11 L456.3 662.91 L456.61 662.73 L456.92 662.56 L457.23 662.4 L457.54 662.25 L457.86 662.11 L458.17 661.98 L458.48 661.87 L458.79 661.78 L459.1 661.7 L459.41 661.63 L459.72 661.57 L460.04 661.53 L460.35 661.5 L460.66 661.48 L460.97 661.47 L461.28 661.47 L461.59 661.48 L461.91 661.5 L462.22 661.52 L462.53 661.55 L462.84 661.58 L463.15 661.61 L463.46 661.64 L463.78 661.68 L464.09 661.7 L464.4 661.73" fill="none" stroke="#000" stroke-width="0.85"/>
<path d="M314.8 571.19 L315.11 573.84 L315.42 576.39 L315.74 578.87 L316.05 581.26 L316.36 583.58 L316.67 585.82 L316.98 587.99 L317.29 590.1 L317.61 592.14 L317.92 594.13 L318.23 596.05 L318.54 597.92 L318.85 599.74 L319.16 601.5 L319.48 603.22 L319.79 604.89 L320.1 606.51 L320.41 608.1 L320.72 609.64 L321.03 611.14 L321.35 612.6 L321.66 614.03 L321.97 615.41 L322.28 616.77 L322.59 618.09 L322.9 619.37 L323.22 620.63 L323.53 621.85 L323.84 623.04 L324.15 624.2 L324.46 625.33 L324.77 626.43 L325.09 627.5 L325.4 628.54 L325.71 629.56 L326.02 630.54 L326.33 631.5 L326.64 632.43 L326.95 633.34 L327.27 634.21 L327.58 635.06 L327.89 635.88 L328.2 636.68 L328.51 637.45 L328.82 638.19 L329.14 638.9 L329.45 639.59 L329.76 640.26 L330.07 640.89 L330.38 641.51 L330.69 642.09 L331.01 642.65 L331.32 643.19 L331.63 643.7 L331.94 644.19 L332.25 644.65 L332.56 645.09 L332.88 645.51 L333.19 645.9 L333.5 646.27 L333.81 646.62 L334.12 646.95 L334.44 647.25 L334.75 647.54 L335.06 647.8 L335.37 648.04 L335.68 648.27 L335.99 648.47 L336.31 648.66 L336.62 648.83 L336.93 648.98 L337.24 649.12 L337.55 649.24 L337.86 649.34 L338.18 649.43 L338.49 649.51 L338.8 649.57 L339.11 649.63 L339.42 649.67 L339.73 649.7 L340.05 649.72 L340.36 649.73 L340.67 649.73 L340.98 649.73 L341.29 649.72 L341.6 649.7 L341.92 649.68 L342.23 649.65 L342.54 649.62 L342.85 649.58 L343.16 649.55 L343.47 649.51 L343.79 649.47 L344.1 649.43 L344.41 649.39 L344.72 649.35 L345.03 649.31 L345.34 649.27 L345.66 649.24 L345.97 649.2 L346.28 649.18 L346.59 649.15 L346.9 649.13 L347.21 649.12 L347.52 649.11 L347.84 649.1 L348.15 649.1 L348.46 649.11 L348.77 649.12 L349.08 649.14 L349.39 649.17 L349.71 649.2 L350.02 649.24 L350.33 649.29 L350.64 649.34 L350.95 649.4 L351.26 649.47 L351.58 649.55 L351.89 649.63 L352.2 649.72 L352.51 649.81 L352.82 649.91 L353.13 650.02 L353.45 650.13 L353.76 650.25 L354.07 650.38 L354.38 650.51 L354.69 650.64 L355 650.78 L355.32 650.93 L355.63 651.07 L355.94 651.23 L356.25 651.38 L356.56 651.54 L356.88 651.7 L357.19 651.86 L357.5 652.02 L357.81 652.19 L358.12 652.35 L358.43 652.52 L358.75 652.68 L359.06 652.85 L359.37 653.01 L359.68 653.17 L359.99 653.33 L360.3 653.49 L360.62 653.64 L360.93 653.79 L361.24 653.94 L361.55 654.08 L361.86 654.22 L362.17 654.36 L362.49 654.49 L362.8 654.61 L363.11 654.73 L363.42 654.85 L363.73 654.95 L364.04 655.05 L364.36 655.15 L364.67 655.24 L364.98 655.32 L365.29 655.39 L365.6 655.46 L365.91 655.52 L366.23 655.57 L366.54 655.62 L366.85 655.65 L367.16 655.68 L367.47 655.71 L367.78 655.72 L368.1 655.73 L368.41 655.73 L368.72 655.73 L369.03 655.71 L369.34 655.7 L369.65 655.67 L369.96 655.64 L370.28 655.6 L370.59 655.56 L370.9 655.51 L371.21 655.45 L371.52 655.39 L371.83 655.33 L372.15 655.26 L372.46 655.19 L372.77 655.11 L373.08 655.03 L373.39 654.95 L373.7 654.87 L374.02 654.78 L374.33 654.69 L374.64 654.6 L374.95 654.51 L375.26 654.41 L375.57 654.32 L375.89 654.23 L376.2 654.13 L376.51 654.04 L376.82 653.95 L377.13 653.86 L377.44 653.77 L377.76 653.68 L378.07 653.6 L378.38 653.52 L378.69 653.44 L379 653.36 L379.31 653.29 L379.63 653.22 L379.94 653.15 L380.25 653.09 L380.56 653.03 L380.87 652.98 L381.19 652.93 L381.5 652.89 L381.81 652.85 L382.12 652.81 L382.43 652.78 L382.74 652.76 L383.06 652.73 L383.37 652.72 L383.68 652.71 L383.99 652.7 L384.3 652.7 L384.61 652.7 L384.93 652.7 L385.24 652.71 L385.55 652.73 L385.86 652.75 L386.17 652.77 L386.48 652.79 L386.79 652.82 L387.11 652.85 L387.42 652.89 L387.73 652.93 L388.04 652.97 L388.35 653.01 L388.66 653.05 L388.98 653.09 L389.29 653.14 L389.6 653.19 L389.91 653.23 L390.22 653.28 L390.53 653.33 L390.85 653.37 L391.16 653.42 L391.47 653.46 L391.78 653.51 L392.09 653.55 L392.4 653.59 L392.72 653.62 L393.03 653.66 L393.34 653.69 L393.65 653.72 L393.96 653.74 L394.27 653.76 L394.59 653.78 L394.9 653.8 L395.21 653.8 L395.52 653.81 L395.83 653.81 L396.14 653.8 L396.46 653.8 L396.77 653.78 L397.08 653.76 L397.39 653.74 L397.7 653.71 L398.01 653.67 L398.33 653.64 L398.64 653.59 L398.95 653.54 L399.26 653.49 L399.57 653.43 L399.88 653.36 L400.2 653.3 L400.51 653.22 L400.82 653.15 L401.13 653.07 L401.44 652.98 L401.75 652.89 L402.07 652.8 L402.38 652.71 L402.69 652.61 L403 652.51 L403.31 652.41 L403.62 652.31 L403.94 652.21 L404.25 652.1 L404.56 652 L404.87 651.89 L405.18 651.79 L405.5 651.68 L405.81 651.58 L406.12 651.48 L406.43 651.38 L406.74 651.28 L407.05 651.18 L407.37 651.09 L407.68 651 L407.99 650.92 L408.3 650.84 L408.61 650.76 L408.92 650.69 L409.24 650.63 L409.55 650.57 L409.86 650.52 L410.17 650.47 L410.48 650.43 L410.79 650.4 L411.11 650.37 L411.42 650.36 L411.73 650.35 L412.04 650.34 L412.35 650.35 L412.66 650.37 L412.98 650.39 L413.29 650.42 L413.6 650.46 L413.91 650.51 L414.22 650.57 L414.53 650.64 L414.84 650.71 L415.16 650.8 L415.47 650.89 L415.78 650.99 L416.09 651.1 L416.4 651.22 L416.71 651.35 L417.03 651.48 L417.34 651.62 L417.65 651.77 L417.96 651.93 L418.27 652.09 L418.58 652.26 L418.9 652.43 L419.21 652.61 L419.52 652.8 L419.83 652.99 L420.14 653.18 L420.45 653.38 L420.77 653.58 L421.08 653.79 L421.39 653.99 L421.7 654.2 L422.01 654.41 L422.32 654.62 L422.64 654.83 L422.95 655.04 L423.26 655.25 L423.57 655.46 L423.88 655.66 L424.19 655.86 L424.51 656.06 L424.82 656.25 L425.13 656.44 L425.44 656.63 L425.75 656.81 L426.06 656.98 L426.38 657.15 L426.69 657.31 L427 657.46 L427.31 657.6 L427.62 657.74 L427.94 657.86 L428.25 657.98 L428.56 658.09 L428.87 658.18 L429.18 658.27 L429.49 658.34 L429.8 658.41 L430.12 658.46 L430.43 658.5 L430.74 658.53 L431.05 658.55 L431.36 658.56 L431.67 658.55 L431.99 658.54 L432.3 658.51 L432.61 658.46 L432.92 658.41 L433.23 658.34 L433.54 658.27 L433.86 658.18 L434.17 658.08 L434.48 657.97 L434.79 657.84 L435.1 657.71 L435.41 657.56 L435.73 657.41 L436.04 657.25 L436.35 657.07 L436.66 656.89 L436.97 656.7 L437.28 656.5 L437.6 656.3 L437.91 656.09 L438.22 655.87 L438.53 655.64 L438.84 655.41 L439.15 655.18 L439.47 654.94 L439.78 654.7 L440.09 654.45 L440.4 654.21 L440.71 653.96 L441.02 653.71 L441.34 653.46 L441.65 653.22 L441.96 652.97 L442.27 652.72 L442.58 652.48 L442.89 652.24 L443.21 652.01 L443.52 651.78 L443.83 651.55 L444.14 651.33 L444.45 651.12 L444.76 650.91 L445.08 650.72 L445.39 650.53 L445.7 650.34 L446.01 650.17 L446.32 650.01 L446.63 649.85 L446.95 649.71 L447.26 649.58 L447.57 649.46 L447.88 649.35 L448.19 649.25 L448.5 649.16 L448.82 649.09 L449.13 649.02 L449.44 648.97 L449.75 648.94 L450.06 648.91 L450.38 648.9 L450.69 648.9 L451 648.91 L451.31 648.94 L451.62 648.98 L451.93 649.03 L452.25 649.09 L452.56 649.17 L452.87 649.25 L453.18 649.35 L453.49 649.46 L453.8 649.58 L454.12 649.71 L454.43 649.85 L454.74 650 L455.05 650.16 L455.36 650.32 L455.67 650.5 L455.99 650.68 L456.3 650.87 L456.61 651.07 L456.92 651.27 L457.23 651.48 L457.54 651.69 L457.86 651.9 L458.17 652.12 L458.48 652.34 L458.79 652.57 L459.1 652.79 L459.41 653.02 L459.72 653.24 L460.04 653.47 L460.35 653.69 L460.66 653.91 L460.97 654.13 L461.28 654.35 L461.59 654.56 L461.91 654.77 L462.22 654.97 L462.53 655.16 L462.84 655.35 L463.15 655.54 L463.46 655.71 L463.78 655.88 L464.09 656.04 L464.4 656.19" fill="none" stroke="#000" stroke-width="0.85"/>
<path d="M314.8 563.24 L315.42 567.84 L316.05 572.2 L316.67 576.36 L317.29 580.31 L317.92 584.07 L318.54 587.64 L319.16 591.04 L319.79 594.28 L320.41 597.35 L321.03 600.28 L321.66 603.07 L322.28 605.72 L322.9 608.23 L323.53 610.63 L324.15 612.91 L324.77 615.08 L325.4 617.14 L326.02 619.1 L326.64 620.97 L327.27 622.75 L327.89 624.44 L328.51 626.04 L329.14 627.57 L329.76 629.02 L330.38 630.41 L331.01 631.72 L331.63 632.97 L332.25 634.16 L332.88 635.3 L333.5 636.37 L334.12 637.4 L334.75 638.37 L335.37 639.3 L335.99 640.18 L336.62 641.02 L337.24 641.82 L337.86 642.57 L338.49 643.3 L339.11 643.98 L339.73 644.64 L340.36 645.26 L340.98 645.85 L341.6 646.41 L342.23 646.95 L342.85 647.45 L343.47 647.94 L344.1 648.4 L344.72 648.84 L345.34 649.25 L345.97 649.65 L346.59 650.03 L347.21 650.38 L347.84 650.73 L348.46 651.05 L349.08 651.36 L349.71 651.65 L350.33 651.93 L350.95 652.2 L351.58 652.45 L352.2 652.69 L352.82 652.92 L353.45 653.14 L354.07 653.34 L354.69 653.54 L355.32 653.73 L355.94 653.9 L356.56 654.07 L357.19 654.23 L357.81 654.39 L358.43 654.53 L359.06 654.67 L359.68 654.8 L360.3 654.93 L360.93 655.05 L361.55 655.16 L362.17 655.27 L362.8 655.37 L363.42 655.47 L364.04 655.56 L364.67 655.65 L365.29 655.74 L365.91 655.82 L366.54 655.89 L367.16 655.96 L367.78 656.03 L368.41 656.1 L369.03 656.16 L369.65 656.22 L370.28 656.28 L370.9 656.33 L371.52 656.38 L372.15 656.43 L372.77 656.48 L373.39 656.52 L374.02 656.56 L374.64 656.6 L375.26 656.64 L375.89 656.67 L376.51 656.71 L377.13 656.74 L377.76 656.77 L378.38 656.8 L379 656.83 L379.63 656.86 L380.25 656.88 L380.87 656.91 L381.5 656.93 L382.12 656.95 L382.74 656.97 L383.37 656.99 L383.99 657.01 L384.61 657.03 L385.24 657.04 L385.86 657.06 L386.48 657.08 L387.11 657.09 L387.73 657.1 L388.35 657.12 L388.98 657.13 L389.6 657.14 L390.22 657.15 L390.85 657.16 L391.47 657.17 L392.09 657.18 L392.72 657.19 L393.34 657.2 L393.96 657.21 L394.59 657.22 L395.21 657.23 L395.83 657.23 L396.46 657.24 L397.08 657.25 L397.7 657.25 L398.33 657.26 L398.95 657.27 L399.57 657.27 L400.2 657.28 L400.82 657.28 L401.44 657.29 L402.07 657.29 L402.69 657.29 L403.31 657.3 L403.94 657.3 L404.56 657.31 L405.18 657.31 L405.81 657.31 L406.43 657.32 L407.05 657.32 L407.68 657.32 L408.3 657.32 L408.92 657.33 L409.55 657.33 L410.17 657.33 L410.79 657.33 L411.42 657.34 L412.04 657.34 L412.66 657.34 L413.29 657.34 L413.91 657.34 L414.53 657.34 L415.16 657.35 L415.78 657.35 L416.4 657.35 L417.03 657.35 L417.65 657.35 L418.27 657.35 L418.9 657.35 L419.52 657.35 L420.14 657.36 L420.77 657.36 L421.39 657.36 L422.01 657.36 L422.64 657.36 L423.26 657.36 L423.88 657.36 L424.51 657.36 L425.13 657.36 L425.75 657.36 L426.38 657.36 L427 657.36 L427.62 657.36 L428.25 657.37 L428.87 657.37 L429.49 657.37 L430.12 657.37 L430.74 657.37 L431.36 657.37 L431.99 657.37 L432.61 657.37 L433.23 657.37 L433.86 657.37 L434.48 657.37 L435.1 657.37 L435.73 657.37 L436.35 657.37 L436.97 657.37 L437.6 657.37 L438.22 657.37 L438.84 657.37 L439.47 657.37 L440.09 657.37 L440.71 657.37 L441.34 657.37 L441.96 657.37 L442.58 657.37 L443.21 657.37 L443.83 657.37 L444.45 657.37 L445.08 657.37 L445.7 657.37 L446.32 657.37 L446.95 657.37 L447.57 657.37 L448.19 657.37 L448.82 657.37 L449.44 657.37 L450.06 657.37 L450.69 657.37 L451.31 657.37 L451.93 657.37 L452.56 657.37 L453.18 657.37 L453.8 657.37 L454.43 657.37 L455.05 657.37 L455.67 657.37 L456.3 657.37 L456.92 657.37 L457.54 657.37 L458.17 657.37 L458.79 657.37 L459.41 657.37 L460.04 657.37 L460.66 657.37 L461.28 657.37 L461.91 657.37 L462.53 657.37 L463.15 657.37 L463.78 657.37 L464.4 657.38" fill="none" stroke="#ff0000" stroke-width="4.2" stroke-linejoin="round"/>
</g>
<rect x="314.8" y="559.8" width="149.6" height="105" fill="none" stroke="#262626" stroke-width="1"/>
<line x1="314.8" y1="664.8" x2="314.8" y2="663" stroke="#262626" stroke-width="1"/>
<line x1="314.8" y1="559.8" x2="314.8" y2="561.6" stroke="#262626" stroke-width="1"/>
<text x="314.8" y="681" font-size="12.4" fill="#262626" text-anchor="middle" stroke="#262626" stroke-width="0.25">180</text>
<line x1="364.67" y1="664.8" x2="364.67" y2="663" stroke="#262626" stroke-width="1"/>
<line x1="364.67" y1="559.8" x2="364.67" y2="561.6" stroke="#262626" stroke-width="1"/>
<text x="364.67" y="681" font-size="12.4" fill="#262626" text-anchor="middle" stroke="#262626" stroke-width="0.25">200</text>
<line x1="414.53" y1="664.8" x2="414.53" y2="663" stroke="#262626" stroke-width="1"/>
<line x1="414.53" y1="559.8" x2="414.53" y2="561.6" stroke="#262626" stroke-width="1"/>
<text x="414.53" y="681" font-size="12.4" fill="#262626" text-anchor="middle" stroke="#262626" stroke-width="0.25">220</text>
<line x1="464.4" y1="664.8" x2="464.4" y2="663" stroke="#262626" stroke-width="1"/>
<line x1="464.4" y1="559.8" x2="464.4" y2="561.6" stroke="#262626" stroke-width="1"/>
<text x="464.4" y="681" font-size="12.4" fill="#262626" text-anchor="middle" stroke="#262626" stroke-width="0.25">240</text>
<line x1="314.8" y1="664.8" x2="316.6" y2="664.8" stroke="#262626" stroke-width="1"/>
<line x1="464.4" y1="664.8" x2="462.6" y2="664.8" stroke="#262626" stroke-width="1"/>
<text x="307.2" y="668.9" font-size="12.4" fill="#262626" text-anchor="end" stroke="#262626" stroke-width="0.25">0</text>
<line x1="314.8" y1="624.45" x2="316.6" y2="624.45" stroke="#262626" stroke-width="1"/>
<line x1="464.4" y1="624.45" x2="462.6" y2="624.45" stroke="#262626" stroke-width="1"/>
<text x="307.2" y="628.55" font-size="12.4" fill="#262626" text-anchor="end" stroke="#262626" stroke-width="0.25">0.5</text>
<line x1="314.8" y1="584.1" x2="316.6" y2="584.1" stroke="#262626" stroke-width="1"/>
<line x1="464.4" y1="584.1" x2="462.6" y2="584.1" stroke="#262626" stroke-width="1"/>
<text x="307.2" y="588.2" font-size="12.4" fill="#262626" text-anchor="end" stroke="#262626" stroke-width="0.25">1</text>
<text x="390.1" y="697.5" font-size="12.7" fill="#000" text-anchor="middle" stroke="#000" stroke-width="0.12">Time (s)</text>
<line x1="464.4" y1="489.3" x2="464.4" y2="559.8" stroke="#333" stroke-width="0.9"/>
<text x="36.9" y="620" font-size="12.6" fill="#000" stroke="#000" stroke-width="0.2" text-anchor="middle" transform="rotate(-90 36.9 620)">T-T<tspan font-size="8.6" dy="0.8">o</tspan><tspan dy="-0.8"> (°C)</tspan></text>
<text x="282.9" y="620.5" font-size="12.6" fill="#000" stroke="#000" stroke-width="0.2" text-anchor="middle" transform="rotate(-90 282.9 620.5)">T-T<tspan font-size="8.6" dy="0.8">o</tspan><tspan dy="-0.8"> (°C)</tspan></text>
</svg>
</body></html>
